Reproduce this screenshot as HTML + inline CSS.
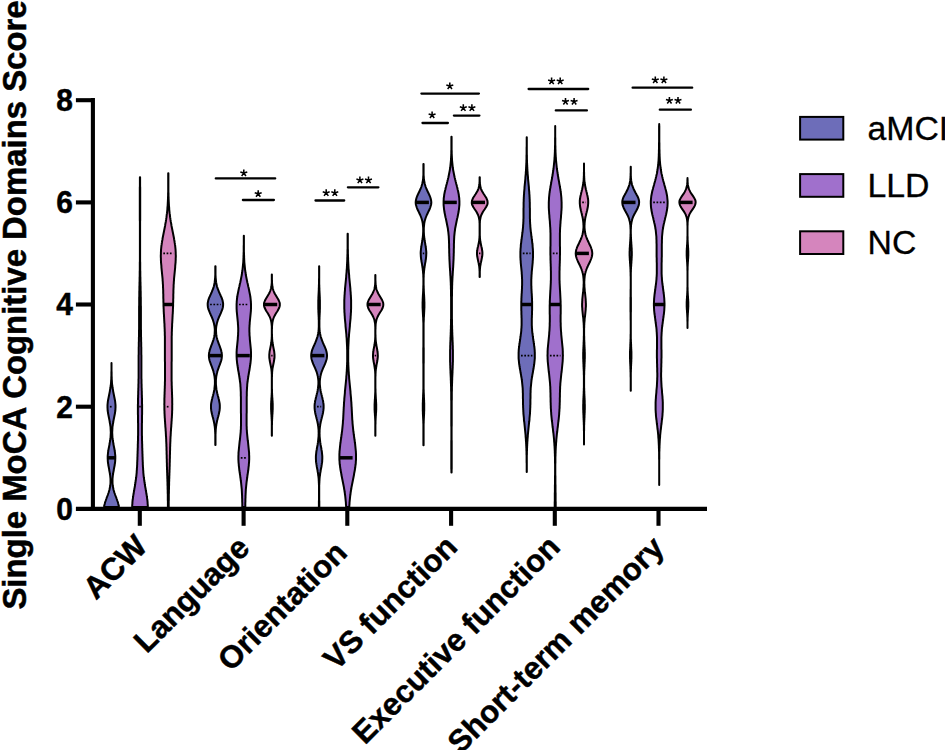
<!DOCTYPE html>
<html><head><meta charset="utf-8"><title>Violin plot</title>
<style>
html,body{margin:0;padding:0;background:#fff;}
body{width:945px;height:750px;overflow:hidden;font-family:"Liberation Sans",sans-serif;}
svg{display:block;font-family:"Liberation Sans",sans-serif;}
</style></head><body>
<svg width="945" height="750" viewBox="0 0 945 750">
<rect width="945" height="750" fill="#fff"/>

<g id="violins">
<path d="M111.5 363.0 L111.5 364.0 L111.5 365.0 L111.5 366.0 L111.5 367.0 L111.5 368.0 L111.5 369.0 L111.5 370.0 L111.5 371.0 L111.4 372.0 L111.4 373.0 L111.4 374.0 L111.4 375.0 L111.4 376.0 L111.3 377.0 L111.3 378.0 L111.3 379.0 L111.2 380.0 L111.1 381.0 L111.1 382.0 L111.0 383.0 L110.9 384.0 L110.8 385.0 L110.7 386.0 L110.5 387.0 L110.4 388.0 L110.2 389.0 L110.0 390.0 L109.9 391.0 L109.7 392.0 L109.5 393.0 L109.3 394.0 L109.1 395.0 L108.9 396.0 L108.7 397.0 L108.5 398.0 L108.3 399.0 L108.1 400.0 L107.9 401.0 L107.8 402.0 L107.7 403.0 L107.6 404.0 L107.5 405.0 L107.5 406.0 L107.5 407.0 L107.5 408.0 L107.6 409.0 L107.6 410.0 L107.7 411.0 L107.9 412.0 L108.0 413.0 L108.2 414.0 L108.4 415.0 L108.6 416.0 L108.8 417.0 L109.0 418.0 L109.2 419.0 L109.4 420.0 L109.6 421.0 L109.7 422.0 L109.9 423.0 L110.1 424.0 L110.2 425.0 L110.4 426.0 L110.5 427.0 L110.6 428.0 L110.6 429.0 L110.7 430.0 L110.7 431.0 L110.8 432.0 L110.8 433.0 L110.7 434.0 L110.7 435.0 L110.6 436.0 L110.6 437.0 L110.5 438.0 L110.4 439.0 L110.2 440.0 L110.1 441.0 L109.9 442.0 L109.7 443.0 L109.6 444.0 L109.4 445.0 L109.2 446.0 L109.0 447.0 L108.8 448.0 L108.6 449.0 L108.4 450.0 L108.3 451.0 L108.1 452.0 L108.0 453.0 L107.9 454.0 L107.8 455.0 L107.7 456.0 L107.7 457.0 L107.7 458.0 L107.7 459.0 L107.8 460.0 L107.8 461.0 L107.9 462.0 L108.0 463.0 L108.2 464.0 L108.3 465.0 L108.5 466.0 L108.7 467.0 L108.9 468.0 L109.1 469.0 L109.2 470.0 L109.4 471.0 L109.6 472.0 L109.8 473.0 L109.9 474.0 L110.1 475.0 L110.2 476.0 L110.3 477.0 L110.4 478.0 L110.5 479.0 L110.5 480.0 L110.5 481.0 L110.5 482.0 L110.5 483.0 L110.4 484.0 L110.3 485.0 L110.2 486.0 L110.0 487.0 L109.8 488.0 L109.6 489.0 L109.4 490.0 L109.1 491.0 L108.8 492.0 L108.5 493.0 L108.1 494.0 L107.8 495.0 L107.4 496.0 L107.0 497.0 L106.6 498.0 L106.3 499.0 L105.9 500.0 L105.6 501.0 L105.2 502.0 L104.9 503.0 L104.7 504.0 L104.4 505.0 L104.3 506.0 L104.1 507.0 L118.9 507.0 L118.7 506.0 L118.6 505.0 L118.3 504.0 L118.1 503.0 L117.8 502.0 L117.4 501.0 L117.1 500.0 L116.7 499.0 L116.4 498.0 L116.0 497.0 L115.6 496.0 L115.2 495.0 L114.9 494.0 L114.5 493.0 L114.2 492.0 L113.9 491.0 L113.6 490.0 L113.4 489.0 L113.2 488.0 L113.0 487.0 L112.8 486.0 L112.7 485.0 L112.6 484.0 L112.5 483.0 L112.5 482.0 L112.5 481.0 L112.5 480.0 L112.5 479.0 L112.6 478.0 L112.7 477.0 L112.8 476.0 L112.9 475.0 L113.1 474.0 L113.2 473.0 L113.4 472.0 L113.6 471.0 L113.8 470.0 L113.9 469.0 L114.1 468.0 L114.3 467.0 L114.5 466.0 L114.7 465.0 L114.8 464.0 L115.0 463.0 L115.1 462.0 L115.2 461.0 L115.2 460.0 L115.3 459.0 L115.3 458.0 L115.3 457.0 L115.3 456.0 L115.2 455.0 L115.1 454.0 L115.0 453.0 L114.9 452.0 L114.7 451.0 L114.6 450.0 L114.4 449.0 L114.2 448.0 L114.0 447.0 L113.8 446.0 L113.6 445.0 L113.4 444.0 L113.3 443.0 L113.1 442.0 L112.9 441.0 L112.8 440.0 L112.6 439.0 L112.5 438.0 L112.4 437.0 L112.4 436.0 L112.3 435.0 L112.3 434.0 L112.2 433.0 L112.2 432.0 L112.3 431.0 L112.3 430.0 L112.4 429.0 L112.4 428.0 L112.5 427.0 L112.6 426.0 L112.8 425.0 L112.9 424.0 L113.1 423.0 L113.3 422.0 L113.4 421.0 L113.6 420.0 L113.8 419.0 L114.0 418.0 L114.2 417.0 L114.4 416.0 L114.6 415.0 L114.8 414.0 L115.0 413.0 L115.1 412.0 L115.3 411.0 L115.4 410.0 L115.4 409.0 L115.5 408.0 L115.5 407.0 L115.5 406.0 L115.5 405.0 L115.4 404.0 L115.3 403.0 L115.2 402.0 L115.1 401.0 L114.9 400.0 L114.7 399.0 L114.5 398.0 L114.3 397.0 L114.1 396.0 L113.9 395.0 L113.7 394.0 L113.5 393.0 L113.3 392.0 L113.1 391.0 L113.0 390.0 L112.8 389.0 L112.6 388.0 L112.5 387.0 L112.3 386.0 L112.2 385.0 L112.1 384.0 L112.0 383.0 L111.9 382.0 L111.9 381.0 L111.8 380.0 L111.7 379.0 L111.7 378.0 L111.7 377.0 L111.6 376.0 L111.6 375.0 L111.6 374.0 L111.6 373.0 L111.6 372.0 L111.5 371.0 L111.5 370.0 L111.5 369.0 L111.5 368.0 L111.5 367.0 L111.5 366.0 L111.5 365.0 L111.5 364.0 L111.5 363.0Z" fill="#6d6db9" stroke="#000" stroke-width="2.0" stroke-linejoin="round"/>
<line x1="109.9" y1="406.7" x2="113.1" y2="406.7" stroke="#000" stroke-width="1.7" stroke-dasharray="1.7 1.6"/>
<line x1="107.7" y1="457.8" x2="115.3" y2="457.8" stroke="#000" stroke-width="3.5"/>
<path d="M139.9 177.3 L139.9 178.3 L139.9 179.3 L139.9 180.3 L139.9 181.3 L139.9 182.3 L139.9 183.3 L139.9 184.3 L139.9 185.3 L139.9 186.3 L139.8 187.3 L139.8 188.3 L139.8 189.3 L139.8 190.3 L139.8 191.3 L139.8 192.3 L139.8 193.3 L139.8 194.3 L139.8 195.3 L139.8 196.3 L139.8 197.3 L139.8 198.3 L139.8 199.3 L139.8 200.3 L139.8 201.3 L139.8 202.3 L139.8 203.3 L139.8 204.3 L139.8 205.3 L139.8 206.3 L139.8 207.3 L139.8 208.3 L139.8 209.3 L139.8 210.3 L139.8 211.3 L139.8 212.3 L139.8 213.3 L139.8 214.3 L139.8 215.3 L139.8 216.3 L139.8 217.3 L139.8 218.3 L139.8 219.3 L139.8 220.3 L139.9 221.3 L139.9 222.3 L139.9 223.3 L139.9 224.3 L139.9 225.3 L139.9 226.3 L139.9 227.3 L139.9 228.3 L139.9 229.3 L139.9 230.3 L139.9 231.3 L139.9 232.3 L139.9 233.3 L139.9 234.3 L139.9 235.3 L139.9 236.3 L139.9 237.3 L139.9 238.3 L139.9 239.3 L139.9 240.3 L139.9 241.3 L139.9 242.3 L139.9 243.3 L139.9 244.3 L139.9 245.3 L139.9 246.3 L139.9 247.3 L139.9 248.3 L139.9 249.3 L139.9 250.3 L139.9 251.3 L139.9 252.3 L139.9 253.3 L139.9 254.3 L139.9 255.3 L139.9 256.3 L139.9 257.3 L139.9 258.3 L139.9 259.3 L139.9 260.3 L139.9 261.3 L139.8 262.3 L139.8 263.3 L139.8 264.3 L139.8 265.3 L139.8 266.3 L139.8 267.3 L139.8 268.3 L139.8 269.3 L139.8 270.3 L139.7 271.3 L139.7 272.3 L139.7 273.3 L139.7 274.3 L139.7 275.3 L139.7 276.3 L139.6 277.3 L139.6 278.3 L139.6 279.3 L139.6 280.3 L139.6 281.3 L139.5 282.3 L139.5 283.3 L139.5 284.3 L139.5 285.3 L139.4 286.3 L139.4 287.3 L139.4 288.3 L139.4 289.3 L139.4 290.3 L139.3 291.3 L139.3 292.3 L139.3 293.3 L139.3 294.3 L139.3 295.3 L139.3 296.3 L139.2 297.3 L139.2 298.3 L139.2 299.3 L139.2 300.3 L139.2 301.3 L139.2 302.3 L139.2 303.3 L139.2 304.3 L139.2 305.3 L139.1 306.3 L139.1 307.3 L139.1 308.3 L139.1 309.3 L139.1 310.3 L139.1 311.3 L139.1 312.3 L139.1 313.3 L139.1 314.3 L139.1 315.3 L139.1 316.3 L139.1 317.3 L139.1 318.3 L139.1 319.3 L139.1 320.3 L139.1 321.3 L139.1 322.3 L139.1 323.3 L139.1 324.3 L139.1 325.3 L139.1 326.3 L139.1 327.3 L139.1 328.3 L139.1 329.3 L139.0 330.3 L139.0 331.3 L139.0 332.3 L139.0 333.3 L139.0 334.3 L139.0 335.3 L139.0 336.3 L138.9 337.3 L138.9 338.3 L138.9 339.3 L138.9 340.3 L138.9 341.3 L138.8 342.3 L138.8 343.3 L138.8 344.3 L138.8 345.3 L138.8 346.3 L138.7 347.3 L138.7 348.3 L138.7 349.3 L138.7 350.3 L138.7 351.3 L138.7 352.3 L138.7 353.3 L138.7 354.3 L138.6 355.3 L138.6 356.3 L138.6 357.3 L138.6 358.3 L138.6 359.3 L138.6 360.3 L138.6 361.3 L138.6 362.3 L138.6 363.3 L138.6 364.3 L138.6 365.3 L138.6 366.3 L138.6 367.3 L138.6 368.3 L138.6 369.3 L138.6 370.3 L138.6 371.3 L138.6 372.3 L138.6 373.3 L138.6 374.3 L138.6 375.3 L138.6 376.3 L138.6 377.3 L138.6 378.3 L138.5 379.3 L138.5 380.3 L138.5 381.3 L138.5 382.3 L138.5 383.3 L138.4 384.3 L138.4 385.3 L138.4 386.3 L138.4 387.3 L138.3 388.3 L138.3 389.3 L138.3 390.3 L138.2 391.3 L138.2 392.3 L138.2 393.3 L138.2 394.3 L138.1 395.3 L138.1 396.3 L138.1 397.3 L138.0 398.3 L138.0 399.3 L138.0 400.3 L138.0 401.3 L138.0 402.3 L138.0 403.3 L137.9 404.3 L137.9 405.3 L137.9 406.3 L137.9 407.3 L137.9 408.3 L137.9 409.3 L137.9 410.3 L137.9 411.3 L137.9 412.3 L137.9 413.3 L137.9 414.3 L138.0 415.3 L138.0 416.3 L138.0 417.3 L138.0 418.3 L138.0 419.3 L138.0 420.3 L138.0 421.3 L138.0 422.3 L138.1 423.3 L138.1 424.3 L138.1 425.3 L138.1 426.3 L138.1 427.3 L138.1 428.3 L138.1 429.3 L138.1 430.3 L138.1 431.3 L138.1 432.3 L138.1 433.3 L138.1 434.3 L138.1 435.3 L138.0 436.3 L138.0 437.3 L138.0 438.3 L138.0 439.3 L138.0 440.3 L137.9 441.3 L137.9 442.3 L137.9 443.3 L137.8 444.3 L137.8 445.3 L137.8 446.3 L137.8 447.3 L137.7 448.3 L137.7 449.3 L137.7 450.3 L137.6 451.3 L137.6 452.3 L137.6 453.3 L137.5 454.3 L137.5 455.3 L137.5 456.3 L137.4 457.3 L137.4 458.3 L137.4 459.3 L137.3 460.3 L137.3 461.3 L137.2 462.3 L137.2 463.3 L137.2 464.3 L137.1 465.3 L137.1 466.3 L137.0 467.3 L136.9 468.3 L136.9 469.3 L136.8 470.3 L136.7 471.3 L136.7 472.3 L136.6 473.3 L136.5 474.3 L136.4 475.3 L136.3 476.3 L136.2 477.3 L136.0 478.3 L135.9 479.3 L135.8 480.3 L135.6 481.3 L135.5 482.3 L135.3 483.3 L135.2 484.3 L135.0 485.3 L134.9 486.3 L134.7 487.3 L134.5 488.3 L134.3 489.3 L134.2 490.3 L134.0 491.3 L133.8 492.3 L133.7 493.3 L133.5 494.3 L133.3 495.3 L133.2 496.3 L133.0 497.3 L132.9 498.3 L132.8 499.3 L132.6 500.3 L132.5 501.3 L132.4 502.3 L132.4 503.3 L132.3 504.3 L132.2 505.3 L132.2 506.3 L132.2 507.0 L147.8 507.0 L147.8 506.3 L147.8 505.3 L147.7 504.3 L147.6 503.3 L147.6 502.3 L147.5 501.3 L147.4 500.3 L147.2 499.3 L147.1 498.3 L147.0 497.3 L146.8 496.3 L146.7 495.3 L146.5 494.3 L146.3 493.3 L146.2 492.3 L146.0 491.3 L145.8 490.3 L145.7 489.3 L145.5 488.3 L145.3 487.3 L145.1 486.3 L145.0 485.3 L144.8 484.3 L144.7 483.3 L144.5 482.3 L144.4 481.3 L144.2 480.3 L144.1 479.3 L144.0 478.3 L143.8 477.3 L143.7 476.3 L143.6 475.3 L143.5 474.3 L143.4 473.3 L143.3 472.3 L143.3 471.3 L143.2 470.3 L143.1 469.3 L143.1 468.3 L143.0 467.3 L142.9 466.3 L142.9 465.3 L142.8 464.3 L142.8 463.3 L142.8 462.3 L142.7 461.3 L142.7 460.3 L142.6 459.3 L142.6 458.3 L142.6 457.3 L142.5 456.3 L142.5 455.3 L142.5 454.3 L142.4 453.3 L142.4 452.3 L142.4 451.3 L142.3 450.3 L142.3 449.3 L142.3 448.3 L142.2 447.3 L142.2 446.3 L142.2 445.3 L142.2 444.3 L142.1 443.3 L142.1 442.3 L142.1 441.3 L142.0 440.3 L142.0 439.3 L142.0 438.3 L142.0 437.3 L142.0 436.3 L141.9 435.3 L141.9 434.3 L141.9 433.3 L141.9 432.3 L141.9 431.3 L141.9 430.3 L141.9 429.3 L141.9 428.3 L141.9 427.3 L141.9 426.3 L141.9 425.3 L141.9 424.3 L141.9 423.3 L142.0 422.3 L142.0 421.3 L142.0 420.3 L142.0 419.3 L142.0 418.3 L142.0 417.3 L142.0 416.3 L142.0 415.3 L142.1 414.3 L142.1 413.3 L142.1 412.3 L142.1 411.3 L142.1 410.3 L142.1 409.3 L142.1 408.3 L142.1 407.3 L142.1 406.3 L142.1 405.3 L142.1 404.3 L142.0 403.3 L142.0 402.3 L142.0 401.3 L142.0 400.3 L142.0 399.3 L142.0 398.3 L141.9 397.3 L141.9 396.3 L141.9 395.3 L141.8 394.3 L141.8 393.3 L141.8 392.3 L141.8 391.3 L141.7 390.3 L141.7 389.3 L141.7 388.3 L141.6 387.3 L141.6 386.3 L141.6 385.3 L141.6 384.3 L141.5 383.3 L141.5 382.3 L141.5 381.3 L141.5 380.3 L141.5 379.3 L141.4 378.3 L141.4 377.3 L141.4 376.3 L141.4 375.3 L141.4 374.3 L141.4 373.3 L141.4 372.3 L141.4 371.3 L141.4 370.3 L141.4 369.3 L141.4 368.3 L141.4 367.3 L141.4 366.3 L141.4 365.3 L141.4 364.3 L141.4 363.3 L141.4 362.3 L141.4 361.3 L141.4 360.3 L141.4 359.3 L141.4 358.3 L141.4 357.3 L141.4 356.3 L141.4 355.3 L141.3 354.3 L141.3 353.3 L141.3 352.3 L141.3 351.3 L141.3 350.3 L141.3 349.3 L141.3 348.3 L141.3 347.3 L141.2 346.3 L141.2 345.3 L141.2 344.3 L141.2 343.3 L141.2 342.3 L141.1 341.3 L141.1 340.3 L141.1 339.3 L141.1 338.3 L141.1 337.3 L141.0 336.3 L141.0 335.3 L141.0 334.3 L141.0 333.3 L141.0 332.3 L141.0 331.3 L141.0 330.3 L140.9 329.3 L140.9 328.3 L140.9 327.3 L140.9 326.3 L140.9 325.3 L140.9 324.3 L140.9 323.3 L140.9 322.3 L140.9 321.3 L140.9 320.3 L140.9 319.3 L140.9 318.3 L140.9 317.3 L140.9 316.3 L140.9 315.3 L140.9 314.3 L140.9 313.3 L140.9 312.3 L140.9 311.3 L140.9 310.3 L140.9 309.3 L140.9 308.3 L140.9 307.3 L140.9 306.3 L140.8 305.3 L140.8 304.3 L140.8 303.3 L140.8 302.3 L140.8 301.3 L140.8 300.3 L140.8 299.3 L140.8 298.3 L140.8 297.3 L140.7 296.3 L140.7 295.3 L140.7 294.3 L140.7 293.3 L140.7 292.3 L140.7 291.3 L140.6 290.3 L140.6 289.3 L140.6 288.3 L140.6 287.3 L140.6 286.3 L140.5 285.3 L140.5 284.3 L140.5 283.3 L140.5 282.3 L140.4 281.3 L140.4 280.3 L140.4 279.3 L140.4 278.3 L140.4 277.3 L140.3 276.3 L140.3 275.3 L140.3 274.3 L140.3 273.3 L140.3 272.3 L140.3 271.3 L140.2 270.3 L140.2 269.3 L140.2 268.3 L140.2 267.3 L140.2 266.3 L140.2 265.3 L140.2 264.3 L140.2 263.3 L140.2 262.3 L140.1 261.3 L140.1 260.3 L140.1 259.3 L140.1 258.3 L140.1 257.3 L140.1 256.3 L140.1 255.3 L140.1 254.3 L140.1 253.3 L140.1 252.3 L140.1 251.3 L140.1 250.3 L140.1 249.3 L140.1 248.3 L140.1 247.3 L140.1 246.3 L140.1 245.3 L140.1 244.3 L140.1 243.3 L140.1 242.3 L140.1 241.3 L140.1 240.3 L140.1 239.3 L140.1 238.3 L140.1 237.3 L140.1 236.3 L140.1 235.3 L140.1 234.3 L140.1 233.3 L140.1 232.3 L140.1 231.3 L140.1 230.3 L140.1 229.3 L140.1 228.3 L140.1 227.3 L140.1 226.3 L140.1 225.3 L140.1 224.3 L140.1 223.3 L140.1 222.3 L140.1 221.3 L140.2 220.3 L140.2 219.3 L140.2 218.3 L140.2 217.3 L140.2 216.3 L140.2 215.3 L140.2 214.3 L140.2 213.3 L140.2 212.3 L140.2 211.3 L140.2 210.3 L140.2 209.3 L140.2 208.3 L140.2 207.3 L140.2 206.3 L140.2 205.3 L140.2 204.3 L140.2 203.3 L140.2 202.3 L140.2 201.3 L140.2 200.3 L140.2 199.3 L140.2 198.3 L140.2 197.3 L140.2 196.3 L140.2 195.3 L140.2 194.3 L140.2 193.3 L140.2 192.3 L140.2 191.3 L140.2 190.3 L140.2 189.3 L140.2 188.3 L140.2 187.3 L140.1 186.3 L140.1 185.3 L140.1 184.3 L140.1 183.3 L140.1 182.3 L140.1 181.3 L140.1 180.3 L140.1 179.3 L140.1 178.3 L140.1 177.3Z" fill="#a070cc" stroke="#000" stroke-width="2.0" stroke-linejoin="round"/>
<line x1="139.3" y1="406.7" x2="140.7" y2="406.7" stroke="#000" stroke-width="1.7" stroke-dasharray="1.7 1.6"/>
<path d="M168.2 173.2 L168.2 174.2 L168.2 175.2 L168.2 176.2 L168.2 177.2 L168.2 178.2 L168.2 179.2 L168.2 180.2 L168.2 181.2 L168.2 182.2 L168.2 183.2 L168.2 184.2 L168.2 185.2 L168.2 186.2 L168.2 187.2 L168.2 188.2 L168.2 189.2 L168.2 190.2 L168.2 191.2 L168.2 192.2 L168.1 193.2 L168.1 194.2 L168.1 195.2 L168.1 196.2 L168.0 197.2 L168.0 198.2 L168.0 199.2 L167.9 200.2 L167.9 201.2 L167.8 202.2 L167.8 203.2 L167.7 204.2 L167.7 205.2 L167.6 206.2 L167.5 207.2 L167.4 208.2 L167.4 209.2 L167.3 210.2 L167.2 211.2 L167.1 212.2 L167.0 213.2 L166.8 214.2 L166.7 215.2 L166.6 216.2 L166.5 217.2 L166.3 218.2 L166.2 219.2 L166.0 220.2 L165.9 221.2 L165.7 222.2 L165.5 223.2 L165.3 224.2 L165.2 225.2 L165.0 226.2 L164.8 227.2 L164.6 228.2 L164.4 229.2 L164.2 230.2 L164.0 231.2 L163.8 232.2 L163.6 233.2 L163.4 234.2 L163.2 235.2 L163.0 236.2 L162.8 237.2 L162.6 238.2 L162.5 239.2 L162.3 240.2 L162.1 241.2 L162.0 242.2 L161.8 243.2 L161.7 244.2 L161.5 245.2 L161.4 246.2 L161.3 247.2 L161.2 248.2 L161.1 249.2 L161.0 250.2 L161.0 251.2 L160.9 252.2 L160.9 253.2 L160.9 254.2 L160.8 255.2 L160.8 256.2 L160.8 257.2 L160.9 258.2 L160.9 259.2 L160.9 260.2 L161.0 261.2 L161.0 262.2 L161.1 263.2 L161.2 264.2 L161.3 265.2 L161.4 266.2 L161.4 267.2 L161.5 268.2 L161.6 269.2 L161.7 270.2 L161.8 271.2 L161.9 272.2 L162.0 273.2 L162.1 274.2 L162.2 275.2 L162.3 276.2 L162.4 277.2 L162.5 278.2 L162.6 279.2 L162.6 280.2 L162.7 281.2 L162.8 282.2 L162.8 283.2 L162.9 284.2 L163.0 285.2 L163.0 286.2 L163.0 287.2 L163.1 288.2 L163.1 289.2 L163.2 290.2 L163.2 291.2 L163.2 292.2 L163.2 293.2 L163.3 294.2 L163.3 295.2 L163.3 296.2 L163.3 297.2 L163.3 298.2 L163.4 299.2 L163.4 300.2 L163.4 301.2 L163.4 302.2 L163.5 303.2 L163.5 304.2 L163.5 305.2 L163.5 306.2 L163.6 307.2 L163.6 308.2 L163.7 309.2 L163.7 310.2 L163.7 311.2 L163.8 312.2 L163.8 313.2 L163.9 314.2 L164.0 315.2 L164.0 316.2 L164.1 317.2 L164.1 318.2 L164.2 319.2 L164.2 320.2 L164.3 321.2 L164.3 322.2 L164.4 323.2 L164.5 324.2 L164.5 325.2 L164.5 326.2 L164.6 327.2 L164.6 328.2 L164.7 329.2 L164.7 330.2 L164.7 331.2 L164.8 332.2 L164.8 333.2 L164.8 334.2 L164.8 335.2 L164.9 336.2 L164.9 337.2 L164.9 338.2 L164.9 339.2 L164.9 340.2 L164.9 341.2 L164.9 342.2 L164.9 343.2 L164.9 344.2 L164.9 345.2 L164.9 346.2 L164.9 347.2 L164.9 348.2 L164.9 349.2 L164.9 350.2 L164.9 351.2 L164.9 352.2 L164.9 353.2 L164.9 354.2 L164.9 355.2 L164.9 356.2 L164.9 357.2 L164.9 358.2 L164.9 359.2 L164.9 360.2 L164.9 361.2 L165.0 362.2 L165.0 363.2 L165.0 364.2 L165.0 365.2 L165.0 366.2 L165.0 367.2 L165.0 368.2 L165.0 369.2 L165.0 370.2 L165.0 371.2 L165.0 372.2 L165.0 373.2 L165.0 374.2 L165.0 375.2 L165.0 376.2 L165.0 377.2 L165.0 378.2 L165.0 379.2 L165.0 380.2 L165.0 381.2 L164.9 382.2 L164.9 383.2 L164.9 384.2 L164.9 385.2 L164.8 386.2 L164.8 387.2 L164.8 388.2 L164.7 389.2 L164.7 390.2 L164.7 391.2 L164.6 392.2 L164.6 393.2 L164.6 394.2 L164.5 395.2 L164.5 396.2 L164.5 397.2 L164.4 398.2 L164.4 399.2 L164.4 400.2 L164.4 401.2 L164.4 402.2 L164.4 403.2 L164.3 404.2 L164.4 405.2 L164.4 406.2 L164.4 407.2 L164.4 408.2 L164.4 409.2 L164.4 410.2 L164.5 411.2 L164.5 412.2 L164.5 413.2 L164.6 414.2 L164.6 415.2 L164.7 416.2 L164.7 417.2 L164.8 418.2 L164.9 419.2 L164.9 420.2 L165.0 421.2 L165.1 422.2 L165.1 423.2 L165.2 424.2 L165.3 425.2 L165.3 426.2 L165.4 427.2 L165.5 428.2 L165.6 429.2 L165.6 430.2 L165.7 431.2 L165.8 432.2 L165.8 433.2 L165.9 434.2 L165.9 435.2 L166.0 436.2 L166.1 437.2 L166.1 438.2 L166.2 439.2 L166.2 440.2 L166.2 441.2 L166.3 442.2 L166.3 443.2 L166.4 444.2 L166.4 445.2 L166.4 446.2 L166.5 447.2 L166.5 448.2 L166.5 449.2 L166.5 450.2 L166.6 451.2 L166.6 452.2 L166.6 453.2 L166.6 454.2 L166.7 455.2 L166.7 456.2 L166.7 457.2 L166.7 458.2 L166.8 459.2 L166.8 460.2 L166.8 461.2 L166.8 462.2 L166.9 463.2 L166.9 464.2 L166.9 465.2 L166.9 466.2 L167.0 467.2 L167.0 468.2 L167.0 469.2 L167.1 470.2 L167.1 471.2 L167.1 472.2 L167.2 473.2 L167.2 474.2 L167.2 475.2 L167.3 476.2 L167.3 477.2 L167.3 478.2 L167.4 479.2 L167.4 480.2 L167.4 481.2 L167.5 482.2 L167.5 483.2 L167.5 484.2 L167.5 485.2 L167.6 486.2 L167.6 487.2 L167.6 488.2 L167.6 489.2 L167.7 490.2 L167.7 491.2 L167.7 492.2 L167.7 493.2 L167.8 494.2 L167.8 495.2 L167.8 496.2 L167.8 497.2 L167.8 498.2 L167.8 499.2 L167.8 500.2 L167.9 501.2 L167.9 502.2 L167.9 503.2 L167.9 504.2 L167.9 505.2 L167.9 506.2 L167.9 507.0 L168.7 507.0 L168.7 506.2 L168.7 505.2 L168.7 504.2 L168.7 503.2 L168.7 502.2 L168.7 501.2 L168.8 500.2 L168.8 499.2 L168.8 498.2 L168.8 497.2 L168.8 496.2 L168.8 495.2 L168.8 494.2 L168.9 493.2 L168.9 492.2 L168.9 491.2 L168.9 490.2 L169.0 489.2 L169.0 488.2 L169.0 487.2 L169.0 486.2 L169.1 485.2 L169.1 484.2 L169.1 483.2 L169.1 482.2 L169.2 481.2 L169.2 480.2 L169.2 479.2 L169.3 478.2 L169.3 477.2 L169.3 476.2 L169.4 475.2 L169.4 474.2 L169.4 473.2 L169.5 472.2 L169.5 471.2 L169.5 470.2 L169.6 469.2 L169.6 468.2 L169.6 467.2 L169.7 466.2 L169.7 465.2 L169.7 464.2 L169.7 463.2 L169.8 462.2 L169.8 461.2 L169.8 460.2 L169.8 459.2 L169.9 458.2 L169.9 457.2 L169.9 456.2 L169.9 455.2 L170.0 454.2 L170.0 453.2 L170.0 452.2 L170.0 451.2 L170.1 450.2 L170.1 449.2 L170.1 448.2 L170.1 447.2 L170.2 446.2 L170.2 445.2 L170.2 444.2 L170.3 443.2 L170.3 442.2 L170.4 441.2 L170.4 440.2 L170.4 439.2 L170.5 438.2 L170.5 437.2 L170.6 436.2 L170.7 435.2 L170.7 434.2 L170.8 433.2 L170.8 432.2 L170.9 431.2 L171.0 430.2 L171.0 429.2 L171.1 428.2 L171.2 427.2 L171.3 426.2 L171.3 425.2 L171.4 424.2 L171.5 423.2 L171.5 422.2 L171.6 421.2 L171.7 420.2 L171.7 419.2 L171.8 418.2 L171.9 417.2 L171.9 416.2 L172.0 415.2 L172.0 414.2 L172.1 413.2 L172.1 412.2 L172.1 411.2 L172.2 410.2 L172.2 409.2 L172.2 408.2 L172.2 407.2 L172.2 406.2 L172.2 405.2 L172.3 404.2 L172.2 403.2 L172.2 402.2 L172.2 401.2 L172.2 400.2 L172.2 399.2 L172.2 398.2 L172.1 397.2 L172.1 396.2 L172.1 395.2 L172.0 394.2 L172.0 393.2 L172.0 392.2 L171.9 391.2 L171.9 390.2 L171.9 389.2 L171.8 388.2 L171.8 387.2 L171.8 386.2 L171.7 385.2 L171.7 384.2 L171.7 383.2 L171.7 382.2 L171.6 381.2 L171.6 380.2 L171.6 379.2 L171.6 378.2 L171.6 377.2 L171.6 376.2 L171.6 375.2 L171.6 374.2 L171.6 373.2 L171.6 372.2 L171.6 371.2 L171.6 370.2 L171.6 369.2 L171.6 368.2 L171.6 367.2 L171.6 366.2 L171.6 365.2 L171.6 364.2 L171.6 363.2 L171.6 362.2 L171.7 361.2 L171.7 360.2 L171.7 359.2 L171.7 358.2 L171.7 357.2 L171.7 356.2 L171.7 355.2 L171.7 354.2 L171.7 353.2 L171.7 352.2 L171.7 351.2 L171.7 350.2 L171.7 349.2 L171.7 348.2 L171.7 347.2 L171.7 346.2 L171.7 345.2 L171.7 344.2 L171.7 343.2 L171.7 342.2 L171.7 341.2 L171.7 340.2 L171.7 339.2 L171.7 338.2 L171.7 337.2 L171.7 336.2 L171.8 335.2 L171.8 334.2 L171.8 333.2 L171.8 332.2 L171.9 331.2 L171.9 330.2 L171.9 329.2 L172.0 328.2 L172.0 327.2 L172.1 326.2 L172.1 325.2 L172.1 324.2 L172.2 323.2 L172.3 322.2 L172.3 321.2 L172.4 320.2 L172.4 319.2 L172.5 318.2 L172.5 317.2 L172.6 316.2 L172.6 315.2 L172.7 314.2 L172.8 313.2 L172.8 312.2 L172.9 311.2 L172.9 310.2 L172.9 309.2 L173.0 308.2 L173.0 307.2 L173.1 306.2 L173.1 305.2 L173.1 304.2 L173.1 303.2 L173.2 302.2 L173.2 301.2 L173.2 300.2 L173.2 299.2 L173.3 298.2 L173.3 297.2 L173.3 296.2 L173.3 295.2 L173.3 294.2 L173.4 293.2 L173.4 292.2 L173.4 291.2 L173.4 290.2 L173.5 289.2 L173.5 288.2 L173.6 287.2 L173.6 286.2 L173.6 285.2 L173.7 284.2 L173.8 283.2 L173.8 282.2 L173.9 281.2 L174.0 280.2 L174.0 279.2 L174.1 278.2 L174.2 277.2 L174.3 276.2 L174.4 275.2 L174.5 274.2 L174.6 273.2 L174.7 272.2 L174.8 271.2 L174.9 270.2 L175.0 269.2 L175.1 268.2 L175.2 267.2 L175.2 266.2 L175.3 265.2 L175.4 264.2 L175.5 263.2 L175.6 262.2 L175.6 261.2 L175.7 260.2 L175.7 259.2 L175.7 258.2 L175.8 257.2 L175.8 256.2 L175.8 255.2 L175.7 254.2 L175.7 253.2 L175.7 252.2 L175.6 251.2 L175.6 250.2 L175.5 249.2 L175.4 248.2 L175.3 247.2 L175.2 246.2 L175.1 245.2 L174.9 244.2 L174.8 243.2 L174.6 242.2 L174.5 241.2 L174.3 240.2 L174.1 239.2 L174.0 238.2 L173.8 237.2 L173.6 236.2 L173.4 235.2 L173.2 234.2 L173.0 233.2 L172.8 232.2 L172.6 231.2 L172.4 230.2 L172.2 229.2 L172.0 228.2 L171.8 227.2 L171.6 226.2 L171.4 225.2 L171.3 224.2 L171.1 223.2 L170.9 222.2 L170.7 221.2 L170.6 220.2 L170.4 219.2 L170.3 218.2 L170.1 217.2 L170.0 216.2 L169.9 215.2 L169.8 214.2 L169.6 213.2 L169.5 212.2 L169.4 211.2 L169.3 210.2 L169.2 209.2 L169.2 208.2 L169.1 207.2 L169.0 206.2 L168.9 205.2 L168.9 204.2 L168.8 203.2 L168.8 202.2 L168.7 201.2 L168.7 200.2 L168.6 199.2 L168.6 198.2 L168.6 197.2 L168.5 196.2 L168.5 195.2 L168.5 194.2 L168.5 193.2 L168.4 192.2 L168.4 191.2 L168.4 190.2 L168.4 189.2 L168.4 188.2 L168.4 187.2 L168.4 186.2 L168.4 185.2 L168.4 184.2 L168.4 183.2 L168.4 182.2 L168.4 181.2 L168.4 180.2 L168.4 179.2 L168.4 178.2 L168.4 177.2 L168.4 176.2 L168.4 175.2 L168.4 174.2 L168.4 173.2Z" fill="#d585bd" stroke="#000" stroke-width="2.0" stroke-linejoin="round"/>
<line x1="163.3" y1="253.4" x2="173.3" y2="253.4" stroke="#000" stroke-width="1.7" stroke-dasharray="1.7 1.6"/>
<line x1="166.8" y1="406.7" x2="169.8" y2="406.7" stroke="#000" stroke-width="1.7" stroke-dasharray="1.7 1.6"/>
<line x1="163.5" y1="304.5" x2="173.1" y2="304.5" stroke="#000" stroke-width="3.5"/>
<path d="M215.3 266.2 L215.3 267.2 L215.3 268.2 L215.3 269.2 L215.3 270.2 L215.3 271.2 L215.3 272.2 L215.3 273.2 L215.3 274.2 L215.3 275.2 L215.2 276.2 L215.2 277.2 L215.1 278.2 L215.0 279.2 L214.9 280.2 L214.8 281.2 L214.7 282.2 L214.5 283.2 L214.3 284.2 L214.1 285.2 L213.9 286.2 L213.6 287.2 L213.3 288.2 L212.9 289.2 L212.5 290.2 L212.1 291.2 L211.7 292.2 L211.2 293.2 L210.8 294.2 L210.3 295.2 L209.9 296.2 L209.4 297.2 L209.0 298.2 L208.7 299.2 L208.3 300.2 L208.1 301.2 L207.9 302.2 L207.7 303.2 L207.7 304.2 L207.7 305.2 L207.8 306.2 L207.9 307.2 L208.2 308.2 L208.4 309.2 L208.8 310.2 L209.2 311.2 L209.6 312.2 L210.0 313.2 L210.5 314.2 L210.9 315.2 L211.4 316.2 L211.8 317.2 L212.2 318.2 L212.6 319.2 L213.0 320.2 L213.3 321.2 L213.6 322.2 L213.9 323.2 L214.1 324.2 L214.3 325.2 L214.5 326.2 L214.6 327.2 L214.7 328.2 L214.8 329.2 L214.8 330.2 L214.8 331.2 L214.7 332.2 L214.7 333.2 L214.6 334.2 L214.4 335.2 L214.3 336.2 L214.1 337.2 L213.8 338.2 L213.6 339.2 L213.3 340.2 L213.0 341.2 L212.6 342.2 L212.3 343.2 L211.9 344.2 L211.5 345.2 L211.1 346.2 L210.8 347.2 L210.4 348.2 L210.1 349.2 L209.7 350.2 L209.5 351.2 L209.2 352.2 L209.1 353.2 L209.0 354.2 L208.9 355.2 L208.9 356.2 L209.0 357.2 L209.1 358.2 L209.3 359.2 L209.5 360.2 L209.8 361.2 L210.1 362.2 L210.5 363.2 L210.8 364.2 L211.2 365.2 L211.6 366.2 L212.0 367.2 L212.3 368.2 L212.7 369.2 L213.0 370.2 L213.4 371.2 L213.6 372.2 L213.9 373.2 L214.1 374.2 L214.3 375.2 L214.5 376.2 L214.6 377.2 L214.7 378.2 L214.8 379.2 L214.9 380.2 L214.9 381.2 L214.9 382.2 L214.9 383.2 L214.9 384.2 L214.8 385.2 L214.7 386.2 L214.6 387.2 L214.5 388.2 L214.4 389.2 L214.2 390.2 L214.0 391.2 L213.8 392.2 L213.6 393.2 L213.3 394.2 L213.1 395.2 L212.8 396.2 L212.5 397.2 L212.3 398.2 L212.0 399.2 L211.8 400.2 L211.6 401.2 L211.4 402.2 L211.2 403.2 L211.1 404.2 L211.0 405.2 L211.0 406.2 L211.0 407.2 L211.0 408.2 L211.1 409.2 L211.2 410.2 L211.4 411.2 L211.6 412.2 L211.8 413.2 L212.0 414.2 L212.3 415.2 L212.5 416.2 L212.8 417.2 L213.1 418.2 L213.3 419.2 L213.6 420.2 L213.8 421.2 L214.0 422.2 L214.2 423.2 L214.4 424.2 L214.5 425.2 L214.7 426.2 L214.8 427.2 L214.9 428.2 L215.0 429.2 L215.1 430.2 L215.1 431.2 L215.2 432.2 L215.2 433.2 L215.3 434.2 L215.3 435.2 L215.3 436.2 L215.3 437.2 L215.3 438.2 L215.3 439.2 L215.3 440.2 L215.3 441.2 L215.3 442.2 L215.3 443.2 L215.3 444.2 L215.3 445.0 L215.5 445.0 L215.5 444.2 L215.5 443.2 L215.5 442.2 L215.5 441.2 L215.5 440.2 L215.5 439.2 L215.5 438.2 L215.5 437.2 L215.5 436.2 L215.5 435.2 L215.5 434.2 L215.6 433.2 L215.6 432.2 L215.7 431.2 L215.7 430.2 L215.8 429.2 L215.9 428.2 L216.0 427.2 L216.1 426.2 L216.3 425.2 L216.4 424.2 L216.6 423.2 L216.8 422.2 L217.0 421.2 L217.2 420.2 L217.5 419.2 L217.7 418.2 L218.0 417.2 L218.3 416.2 L218.5 415.2 L218.8 414.2 L219.0 413.2 L219.2 412.2 L219.4 411.2 L219.6 410.2 L219.7 409.2 L219.8 408.2 L219.8 407.2 L219.8 406.2 L219.8 405.2 L219.7 404.2 L219.6 403.2 L219.4 402.2 L219.2 401.2 L219.0 400.2 L218.8 399.2 L218.5 398.2 L218.3 397.2 L218.0 396.2 L217.7 395.2 L217.5 394.2 L217.2 393.2 L217.0 392.2 L216.8 391.2 L216.6 390.2 L216.4 389.2 L216.3 388.2 L216.2 387.2 L216.1 386.2 L216.0 385.2 L215.9 384.2 L215.9 383.2 L215.9 382.2 L215.9 381.2 L215.9 380.2 L216.0 379.2 L216.1 378.2 L216.2 377.2 L216.3 376.2 L216.5 375.2 L216.7 374.2 L216.9 373.2 L217.2 372.2 L217.4 371.2 L217.8 370.2 L218.1 369.2 L218.5 368.2 L218.8 367.2 L219.2 366.2 L219.6 365.2 L220.0 364.2 L220.3 363.2 L220.7 362.2 L221.0 361.2 L221.3 360.2 L221.5 359.2 L221.7 358.2 L221.8 357.2 L221.9 356.2 L221.9 355.2 L221.8 354.2 L221.7 353.2 L221.6 352.2 L221.3 351.2 L221.1 350.2 L220.7 349.2 L220.4 348.2 L220.0 347.2 L219.7 346.2 L219.3 345.2 L218.9 344.2 L218.5 343.2 L218.2 342.2 L217.8 341.2 L217.5 340.2 L217.2 339.2 L217.0 338.2 L216.7 337.2 L216.5 336.2 L216.4 335.2 L216.2 334.2 L216.1 333.2 L216.1 332.2 L216.0 331.2 L216.0 330.2 L216.0 329.2 L216.1 328.2 L216.2 327.2 L216.3 326.2 L216.5 325.2 L216.7 324.2 L216.9 323.2 L217.2 322.2 L217.5 321.2 L217.8 320.2 L218.2 319.2 L218.6 318.2 L219.0 317.2 L219.4 316.2 L219.9 315.2 L220.3 314.2 L220.8 313.2 L221.2 312.2 L221.6 311.2 L222.0 310.2 L222.4 309.2 L222.6 308.2 L222.9 307.2 L223.0 306.2 L223.1 305.2 L223.1 304.2 L223.1 303.2 L222.9 302.2 L222.7 301.2 L222.5 300.2 L222.1 299.2 L221.8 298.2 L221.4 297.2 L220.9 296.2 L220.5 295.2 L220.0 294.2 L219.6 293.2 L219.1 292.2 L218.7 291.2 L218.3 290.2 L217.9 289.2 L217.5 288.2 L217.2 287.2 L216.9 286.2 L216.7 285.2 L216.5 284.2 L216.3 283.2 L216.1 282.2 L216.0 281.2 L215.9 280.2 L215.8 279.2 L215.7 278.2 L215.6 277.2 L215.6 276.2 L215.5 275.2 L215.5 274.2 L215.5 273.2 L215.5 272.2 L215.5 271.2 L215.5 270.2 L215.5 269.2 L215.5 268.2 L215.5 267.2 L215.5 266.2Z" fill="#6d6db9" stroke="#000" stroke-width="2.0" stroke-linejoin="round"/>
<line x1="210.1" y1="304.5" x2="220.7" y2="304.5" stroke="#000" stroke-width="1.7" stroke-dasharray="1.7 1.6"/>
<line x1="208.9" y1="355.6" x2="221.9" y2="355.6" stroke="#000" stroke-width="3.5"/>
<path d="M243.8 235.8 L243.8 236.8 L243.8 237.8 L243.8 238.8 L243.8 239.8 L243.8 240.8 L243.8 241.8 L243.8 242.8 L243.8 243.8 L243.8 244.8 L243.7 245.8 L243.7 246.8 L243.7 247.8 L243.7 248.8 L243.7 249.8 L243.7 250.8 L243.7 251.8 L243.6 252.8 L243.6 253.8 L243.6 254.8 L243.5 255.8 L243.5 256.8 L243.5 257.8 L243.4 258.8 L243.4 259.8 L243.3 260.8 L243.3 261.8 L243.2 262.8 L243.1 263.8 L243.0 264.8 L242.9 265.8 L242.8 266.8 L242.7 267.8 L242.6 268.8 L242.5 269.8 L242.4 270.8 L242.2 271.8 L242.1 272.8 L241.9 273.8 L241.8 274.8 L241.6 275.8 L241.4 276.8 L241.2 277.8 L241.0 278.8 L240.8 279.8 L240.6 280.8 L240.4 281.8 L240.2 282.8 L239.9 283.8 L239.7 284.8 L239.5 285.8 L239.3 286.8 L239.0 287.8 L238.8 288.8 L238.6 289.8 L238.4 290.8 L238.2 291.8 L238.0 292.8 L237.8 293.8 L237.6 294.8 L237.4 295.8 L237.3 296.8 L237.1 297.8 L237.0 298.8 L236.9 299.8 L236.8 300.8 L236.7 301.8 L236.7 302.8 L236.6 303.8 L236.6 304.8 L236.6 305.8 L236.6 306.8 L236.6 307.8 L236.6 308.8 L236.7 309.8 L236.7 310.8 L236.8 311.8 L236.9 312.8 L237.0 313.8 L237.1 314.8 L237.2 315.8 L237.3 316.8 L237.4 317.8 L237.5 318.8 L237.6 319.8 L237.7 320.8 L237.8 321.8 L237.9 322.8 L237.9 323.8 L238.0 324.8 L238.1 325.8 L238.1 326.8 L238.2 327.8 L238.2 328.8 L238.2 329.8 L238.2 330.8 L238.2 331.8 L238.1 332.8 L238.1 333.8 L238.1 334.8 L238.0 335.8 L237.9 336.8 L237.8 337.8 L237.8 338.8 L237.7 339.8 L237.6 340.8 L237.5 341.8 L237.4 342.8 L237.3 343.8 L237.2 344.8 L237.1 345.8 L237.0 346.8 L236.9 347.8 L236.8 348.8 L236.7 349.8 L236.7 350.8 L236.6 351.8 L236.6 352.8 L236.6 353.8 L236.6 354.8 L236.6 355.8 L236.6 356.8 L236.7 357.8 L236.7 358.8 L236.8 359.8 L236.9 360.8 L237.0 361.8 L237.1 362.8 L237.2 363.8 L237.4 364.8 L237.5 365.8 L237.7 366.8 L237.8 367.8 L238.0 368.8 L238.1 369.8 L238.3 370.8 L238.5 371.8 L238.7 372.8 L238.8 373.8 L239.0 374.8 L239.2 375.8 L239.3 376.8 L239.5 377.8 L239.6 378.8 L239.8 379.8 L239.9 380.8 L240.0 381.8 L240.2 382.8 L240.3 383.8 L240.4 384.8 L240.4 385.8 L240.5 386.8 L240.6 387.8 L240.6 388.8 L240.7 389.8 L240.7 390.8 L240.8 391.8 L240.8 392.8 L240.8 393.8 L240.8 394.8 L240.8 395.8 L240.9 396.8 L240.9 397.8 L240.9 398.8 L240.9 399.8 L240.9 400.8 L240.9 401.8 L240.9 402.8 L240.9 403.8 L240.9 404.8 L240.9 405.8 L240.9 406.8 L240.9 407.8 L240.9 408.8 L240.9 409.8 L240.9 410.8 L240.9 411.8 L240.9 412.8 L241.0 413.8 L241.0 414.8 L241.0 415.8 L241.0 416.8 L241.0 417.8 L241.0 418.8 L241.0 419.8 L241.0 420.8 L241.0 421.8 L241.0 422.8 L241.0 423.8 L241.0 424.8 L241.0 425.8 L240.9 426.8 L240.9 427.8 L240.9 428.8 L240.8 429.8 L240.7 430.8 L240.7 431.8 L240.6 432.8 L240.5 433.8 L240.4 434.8 L240.3 435.8 L240.2 436.8 L240.1 437.8 L240.0 438.8 L239.9 439.8 L239.8 440.8 L239.6 441.8 L239.5 442.8 L239.4 443.8 L239.3 444.8 L239.2 445.8 L239.1 446.8 L239.0 447.8 L238.9 448.8 L238.8 449.8 L238.7 450.8 L238.6 451.8 L238.5 452.8 L238.5 453.8 L238.5 454.8 L238.4 455.8 L238.4 456.8 L238.4 457.8 L238.4 458.8 L238.4 459.8 L238.5 460.8 L238.5 461.8 L238.6 462.8 L238.7 463.8 L238.8 464.8 L238.8 465.8 L239.0 466.8 L239.1 467.8 L239.2 468.8 L239.3 469.8 L239.4 470.8 L239.6 471.8 L239.7 472.8 L239.9 473.8 L240.0 474.8 L240.2 475.8 L240.3 476.8 L240.4 477.8 L240.6 478.8 L240.7 479.8 L240.8 480.8 L241.0 481.8 L241.1 482.8 L241.2 483.8 L241.3 484.8 L241.4 485.8 L241.5 486.8 L241.6 487.8 L241.7 488.8 L241.8 489.8 L241.8 490.8 L241.9 491.8 L241.9 492.8 L242.0 493.8 L242.0 494.8 L242.1 495.8 L242.1 496.8 L242.1 497.8 L242.2 498.8 L242.2 499.8 L242.2 500.8 L242.2 501.8 L242.3 502.8 L242.3 503.8 L242.3 504.8 L242.3 505.8 L242.3 506.8 L242.3 507.0 L245.3 507.0 L245.3 506.8 L245.3 505.8 L245.3 504.8 L245.3 503.8 L245.3 502.8 L245.4 501.8 L245.4 500.8 L245.4 499.8 L245.4 498.8 L245.5 497.8 L245.5 496.8 L245.5 495.8 L245.6 494.8 L245.6 493.8 L245.7 492.8 L245.7 491.8 L245.8 490.8 L245.8 489.8 L245.9 488.8 L246.0 487.8 L246.1 486.8 L246.2 485.8 L246.3 484.8 L246.4 483.8 L246.5 482.8 L246.6 481.8 L246.8 480.8 L246.9 479.8 L247.0 478.8 L247.2 477.8 L247.3 476.8 L247.4 475.8 L247.6 474.8 L247.7 473.8 L247.9 472.8 L248.0 471.8 L248.2 470.8 L248.3 469.8 L248.4 468.8 L248.5 467.8 L248.6 466.8 L248.8 465.8 L248.8 464.8 L248.9 463.8 L249.0 462.8 L249.1 461.8 L249.1 460.8 L249.2 459.8 L249.2 458.8 L249.2 457.8 L249.2 456.8 L249.2 455.8 L249.1 454.8 L249.1 453.8 L249.1 452.8 L249.0 451.8 L248.9 450.8 L248.8 449.8 L248.7 448.8 L248.6 447.8 L248.5 446.8 L248.4 445.8 L248.3 444.8 L248.2 443.8 L248.1 442.8 L248.0 441.8 L247.8 440.8 L247.7 439.8 L247.6 438.8 L247.5 437.8 L247.4 436.8 L247.3 435.8 L247.2 434.8 L247.1 433.8 L247.0 432.8 L246.9 431.8 L246.9 430.8 L246.8 429.8 L246.7 428.8 L246.7 427.8 L246.7 426.8 L246.6 425.8 L246.6 424.8 L246.6 423.8 L246.6 422.8 L246.6 421.8 L246.6 420.8 L246.6 419.8 L246.6 418.8 L246.6 417.8 L246.6 416.8 L246.6 415.8 L246.6 414.8 L246.6 413.8 L246.7 412.8 L246.7 411.8 L246.7 410.8 L246.7 409.8 L246.7 408.8 L246.7 407.8 L246.7 406.8 L246.7 405.8 L246.7 404.8 L246.7 403.8 L246.7 402.8 L246.7 401.8 L246.7 400.8 L246.7 399.8 L246.7 398.8 L246.7 397.8 L246.7 396.8 L246.8 395.8 L246.8 394.8 L246.8 393.8 L246.8 392.8 L246.8 391.8 L246.9 390.8 L246.9 389.8 L247.0 388.8 L247.0 387.8 L247.1 386.8 L247.2 385.8 L247.2 384.8 L247.3 383.8 L247.4 382.8 L247.6 381.8 L247.7 380.8 L247.8 379.8 L248.0 378.8 L248.1 377.8 L248.3 376.8 L248.4 375.8 L248.6 374.8 L248.8 373.8 L248.9 372.8 L249.1 371.8 L249.3 370.8 L249.5 369.8 L249.6 368.8 L249.8 367.8 L249.9 366.8 L250.1 365.8 L250.2 364.8 L250.4 363.8 L250.5 362.8 L250.6 361.8 L250.7 360.8 L250.8 359.8 L250.9 358.8 L250.9 357.8 L251.0 356.8 L251.0 355.8 L251.0 354.8 L251.0 353.8 L251.0 352.8 L251.0 351.8 L250.9 350.8 L250.9 349.8 L250.8 348.8 L250.7 347.8 L250.6 346.8 L250.5 345.8 L250.4 344.8 L250.3 343.8 L250.2 342.8 L250.1 341.8 L250.0 340.8 L249.9 339.8 L249.8 338.8 L249.8 337.8 L249.7 336.8 L249.6 335.8 L249.5 334.8 L249.5 333.8 L249.5 332.8 L249.4 331.8 L249.4 330.8 L249.4 329.8 L249.4 328.8 L249.4 327.8 L249.5 326.8 L249.5 325.8 L249.6 324.8 L249.7 323.8 L249.7 322.8 L249.8 321.8 L249.9 320.8 L250.0 319.8 L250.1 318.8 L250.2 317.8 L250.3 316.8 L250.4 315.8 L250.5 314.8 L250.6 313.8 L250.7 312.8 L250.8 311.8 L250.9 310.8 L250.9 309.8 L251.0 308.8 L251.0 307.8 L251.0 306.8 L251.0 305.8 L251.0 304.8 L251.0 303.8 L250.9 302.8 L250.9 301.8 L250.8 300.8 L250.7 299.8 L250.6 298.8 L250.5 297.8 L250.3 296.8 L250.2 295.8 L250.0 294.8 L249.8 293.8 L249.6 292.8 L249.4 291.8 L249.2 290.8 L249.0 289.8 L248.8 288.8 L248.6 287.8 L248.3 286.8 L248.1 285.8 L247.9 284.8 L247.7 283.8 L247.4 282.8 L247.2 281.8 L247.0 280.8 L246.8 279.8 L246.6 278.8 L246.4 277.8 L246.2 276.8 L246.0 275.8 L245.8 274.8 L245.7 273.8 L245.5 272.8 L245.4 271.8 L245.2 270.8 L245.1 269.8 L245.0 268.8 L244.9 267.8 L244.8 266.8 L244.7 265.8 L244.6 264.8 L244.5 263.8 L244.4 262.8 L244.3 261.8 L244.3 260.8 L244.2 259.8 L244.2 258.8 L244.1 257.8 L244.1 256.8 L244.1 255.8 L244.0 254.8 L244.0 253.8 L244.0 252.8 L243.9 251.8 L243.9 250.8 L243.9 249.8 L243.9 248.8 L243.9 247.8 L243.9 246.8 L243.9 245.8 L243.9 244.8 L243.9 243.8 L243.9 242.8 L243.9 241.8 L243.9 240.8 L243.9 239.8 L243.9 238.8 L243.9 237.8 L243.9 236.8 L243.9 235.8Z" fill="#a070cc" stroke="#000" stroke-width="2.0" stroke-linejoin="round"/>
<line x1="239.0" y1="304.5" x2="248.6" y2="304.5" stroke="#000" stroke-width="1.7" stroke-dasharray="1.7 1.6"/>
<line x1="240.8" y1="457.8" x2="246.8" y2="457.8" stroke="#000" stroke-width="1.7" stroke-dasharray="1.7 1.6"/>
<line x1="236.6" y1="355.6" x2="249.8" y2="355.6" stroke="#000" stroke-width="3.5"/>
<path d="M271.8 274.5 L271.8 275.5 L271.8 276.5 L271.8 277.5 L271.8 278.5 L271.8 279.5 L271.8 280.5 L271.8 281.5 L271.8 282.5 L271.7 283.5 L271.6 284.5 L271.5 285.5 L271.4 286.5 L271.2 287.5 L271.0 288.5 L270.7 289.5 L270.4 290.5 L270.0 291.5 L269.6 292.5 L269.1 293.5 L268.5 294.5 L267.9 295.5 L267.3 296.5 L266.7 297.5 L266.1 298.5 L265.5 299.5 L265.0 300.5 L264.6 301.5 L264.2 302.5 L264.0 303.5 L264.0 304.5 L264.0 305.5 L264.2 306.5 L264.5 307.5 L265.0 308.5 L265.5 309.5 L266.0 310.5 L266.6 311.5 L267.3 312.5 L267.9 313.5 L268.5 314.5 L269.0 315.5 L269.6 316.5 L270.0 317.5 L270.4 318.5 L270.7 319.5 L271.0 320.5 L271.2 321.5 L271.4 322.5 L271.5 323.5 L271.6 324.5 L271.7 325.5 L271.8 326.5 L271.8 327.5 L271.8 328.5 L271.8 329.5 L271.8 330.5 L271.8 331.5 L271.8 332.5 L271.8 333.5 L271.8 334.5 L271.8 335.5 L271.8 336.5 L271.7 337.5 L271.7 338.5 L271.6 339.5 L271.5 340.5 L271.4 341.5 L271.3 342.5 L271.1 343.5 L271.0 344.5 L270.8 345.5 L270.6 346.5 L270.4 347.5 L270.2 348.5 L270.0 349.5 L269.8 350.5 L269.6 351.5 L269.5 352.5 L269.4 353.5 L269.3 354.5 L269.3 355.5 L269.3 356.5 L269.3 357.5 L269.4 358.5 L269.6 359.5 L269.7 360.5 L269.9 361.5 L270.1 362.5 L270.3 363.5 L270.5 364.5 L270.7 365.5 L270.9 366.5 L271.1 367.5 L271.3 368.5 L271.4 369.5 L271.5 370.5 L271.6 371.5 L271.7 372.5 L271.7 373.5 L271.8 374.5 L271.8 375.5 L271.8 376.5 L271.8 377.5 L271.8 378.5 L271.8 379.5 L271.8 380.5 L271.8 381.5 L271.8 382.5 L271.8 383.5 L271.8 384.5 L271.8 385.5 L271.8 386.5 L271.8 387.5 L271.8 388.5 L271.8 389.5 L271.8 390.5 L271.8 391.5 L271.8 392.5 L271.7 393.5 L271.7 394.5 L271.6 395.5 L271.6 396.5 L271.5 397.5 L271.4 398.5 L271.4 399.5 L271.3 400.5 L271.2 401.5 L271.2 402.5 L271.1 403.5 L271.1 404.5 L271.1 405.5 L271.1 406.5 L271.1 407.5 L271.1 408.5 L271.1 409.5 L271.2 410.5 L271.2 411.5 L271.3 412.5 L271.3 413.5 L271.4 414.5 L271.5 415.5 L271.5 416.5 L271.6 417.5 L271.6 418.5 L271.7 419.5 L271.7 420.5 L271.8 421.5 L271.8 422.5 L271.8 423.5 L271.8 424.5 L271.8 425.5 L271.8 426.5 L271.8 427.5 L271.8 428.5 L271.8 429.5 L271.8 430.5 L271.8 431.5 L271.8 432.5 L271.8 433.5 L271.8 434.5 L271.8 435.5 L271.8 435.7 L271.9 435.7 L271.9 435.5 L271.9 434.5 L271.9 433.5 L271.9 432.5 L271.9 431.5 L271.9 430.5 L271.9 429.5 L271.9 428.5 L271.9 427.5 L271.9 426.5 L271.9 425.5 L272.0 424.5 L272.0 423.5 L272.0 422.5 L272.0 421.5 L272.1 420.5 L272.1 419.5 L272.2 418.5 L272.2 417.5 L272.3 416.5 L272.3 415.5 L272.4 414.5 L272.5 413.5 L272.5 412.5 L272.6 411.5 L272.6 410.5 L272.7 409.5 L272.7 408.5 L272.7 407.5 L272.7 406.5 L272.7 405.5 L272.7 404.5 L272.7 403.5 L272.6 402.5 L272.6 401.5 L272.5 400.5 L272.4 399.5 L272.4 398.5 L272.3 397.5 L272.2 396.5 L272.2 395.5 L272.1 394.5 L272.1 393.5 L272.0 392.5 L272.0 391.5 L272.0 390.5 L272.0 389.5 L271.9 388.5 L271.9 387.5 L271.9 386.5 L271.9 385.5 L271.9 384.5 L271.9 383.5 L271.9 382.5 L271.9 381.5 L271.9 380.5 L271.9 379.5 L271.9 378.5 L271.9 377.5 L272.0 376.5 L272.0 375.5 L272.0 374.5 L272.1 373.5 L272.1 372.5 L272.2 371.5 L272.3 370.5 L272.4 369.5 L272.5 368.5 L272.7 367.5 L272.9 366.5 L273.1 365.5 L273.3 364.5 L273.5 363.5 L273.7 362.5 L273.9 361.5 L274.1 360.5 L274.2 359.5 L274.4 358.5 L274.5 357.5 L274.5 356.5 L274.5 355.5 L274.5 354.5 L274.4 353.5 L274.3 352.5 L274.2 351.5 L274.0 350.5 L273.8 349.5 L273.6 348.5 L273.4 347.5 L273.2 346.5 L273.0 345.5 L272.8 344.5 L272.7 343.5 L272.5 342.5 L272.4 341.5 L272.3 340.5 L272.2 339.5 L272.1 338.5 L272.1 337.5 L272.0 336.5 L272.0 335.5 L272.0 334.5 L271.9 333.5 L271.9 332.5 L271.9 331.5 L271.9 330.5 L271.9 329.5 L272.0 328.5 L272.0 327.5 L272.0 326.5 L272.1 325.5 L272.2 324.5 L272.3 323.5 L272.4 322.5 L272.6 321.5 L272.8 320.5 L273.1 319.5 L273.4 318.5 L273.8 317.5 L274.2 316.5 L274.8 315.5 L275.3 314.5 L275.9 313.5 L276.5 312.5 L277.2 311.5 L277.8 310.5 L278.3 309.5 L278.8 308.5 L279.3 307.5 L279.6 306.5 L279.8 305.5 L279.8 304.5 L279.8 303.5 L279.6 302.5 L279.2 301.5 L278.8 300.5 L278.3 299.5 L277.7 298.5 L277.1 297.5 L276.5 296.5 L275.9 295.5 L275.3 294.5 L274.7 293.5 L274.2 292.5 L273.8 291.5 L273.4 290.5 L273.1 289.5 L272.8 288.5 L272.6 287.5 L272.4 286.5 L272.3 285.5 L272.2 284.5 L272.1 283.5 L272.0 282.5 L272.0 281.5 L272.0 280.5 L271.9 279.5 L271.9 278.5 L271.9 277.5 L271.9 276.5 L271.9 275.5 L271.9 274.5Z" fill="#d585bd" stroke="#000" stroke-width="2.0" stroke-linejoin="round"/>
<line x1="271.2" y1="355.6" x2="272.6" y2="355.6" stroke="#000" stroke-width="1.7" stroke-dasharray="1.7 1.6"/>
<line x1="264.0" y1="304.5" x2="277.2" y2="304.5" stroke="#000" stroke-width="3.5"/>
<path d="M319.1 266.2 L319.1 267.2 L319.1 268.2 L319.1 269.2 L319.1 270.2 L319.1 271.2 L319.1 272.2 L319.1 273.2 L319.1 274.2 L319.1 275.2 L319.1 276.2 L319.1 277.2 L319.1 278.2 L319.0 279.2 L319.0 280.2 L319.0 281.2 L319.0 282.2 L319.0 283.2 L319.0 284.2 L318.9 285.2 L318.9 286.2 L318.9 287.2 L318.8 288.2 L318.8 289.2 L318.8 290.2 L318.7 291.2 L318.7 292.2 L318.6 293.2 L318.6 294.2 L318.5 295.2 L318.5 296.2 L318.4 297.2 L318.4 298.2 L318.4 299.2 L318.3 300.2 L318.3 301.2 L318.3 302.2 L318.3 303.2 L318.3 304.2 L318.3 305.2 L318.3 306.2 L318.3 307.2 L318.3 308.2 L318.3 309.2 L318.4 310.2 L318.4 311.2 L318.4 312.2 L318.5 313.2 L318.5 314.2 L318.6 315.2 L318.6 316.2 L318.7 317.2 L318.7 318.2 L318.7 319.2 L318.8 320.2 L318.8 321.2 L318.8 322.2 L318.8 323.2 L318.8 324.2 L318.8 325.2 L318.8 326.2 L318.8 327.2 L318.7 328.2 L318.7 329.2 L318.6 330.2 L318.5 331.2 L318.3 332.2 L318.2 333.2 L318.0 334.2 L317.8 335.2 L317.6 336.2 L317.3 337.2 L317.0 338.2 L316.6 339.2 L316.3 340.2 L315.9 341.2 L315.5 342.2 L315.1 343.2 L314.6 344.2 L314.2 345.2 L313.7 346.2 L313.3 347.2 L312.9 348.2 L312.5 349.2 L312.1 350.2 L311.8 351.2 L311.6 352.2 L311.4 353.2 L311.3 354.2 L311.2 355.2 L311.2 356.2 L311.3 357.2 L311.4 358.2 L311.6 359.2 L311.9 360.2 L312.2 361.2 L312.5 362.2 L312.9 363.2 L313.3 364.2 L313.8 365.2 L314.2 366.2 L314.7 367.2 L315.1 368.2 L315.5 369.2 L315.9 370.2 L316.3 371.2 L316.7 372.2 L317.0 373.2 L317.3 374.2 L317.5 375.2 L317.8 376.2 L317.9 377.2 L318.1 378.2 L318.2 379.2 L318.3 380.2 L318.4 381.2 L318.4 382.2 L318.4 383.2 L318.4 384.2 L318.3 385.2 L318.2 386.2 L318.1 387.2 L318.0 388.2 L317.8 389.2 L317.7 390.2 L317.5 391.2 L317.3 392.2 L317.0 393.2 L316.8 394.2 L316.5 395.2 L316.3 396.2 L316.0 397.2 L315.8 398.2 L315.6 399.2 L315.3 400.2 L315.1 401.2 L315.0 402.2 L314.8 403.2 L314.7 404.2 L314.6 405.2 L314.6 406.2 L314.6 407.2 L314.6 408.2 L314.7 409.2 L314.8 410.2 L315.0 411.2 L315.1 412.2 L315.3 413.2 L315.5 414.2 L315.8 415.2 L316.0 416.2 L316.3 417.2 L316.5 418.2 L316.8 419.2 L317.0 420.2 L317.3 421.2 L317.5 422.2 L317.7 423.2 L317.9 424.2 L318.0 425.2 L318.2 426.2 L318.3 427.2 L318.4 428.2 L318.5 429.2 L318.6 430.2 L318.6 431.2 L318.6 432.2 L318.7 433.2 L318.6 434.2 L318.6 435.2 L318.6 436.2 L318.5 437.2 L318.4 438.2 L318.3 439.2 L318.2 440.2 L318.1 441.2 L318.0 442.2 L317.8 443.2 L317.7 444.2 L317.5 445.2 L317.3 446.2 L317.1 447.2 L316.9 448.2 L316.8 449.2 L316.6 450.2 L316.4 451.2 L316.3 452.2 L316.2 453.2 L316.1 454.2 L316.0 455.2 L315.9 456.2 L315.9 457.2 L315.9 458.2 L315.9 459.2 L316.0 460.2 L316.0 461.2 L316.1 462.2 L316.3 463.2 L316.4 464.2 L316.6 465.2 L316.7 466.2 L316.9 467.2 L317.1 468.2 L317.3 469.2 L317.5 470.2 L317.6 471.2 L317.8 472.2 L318.0 473.2 L318.1 474.2 L318.2 475.2 L318.4 476.2 L318.5 477.2 L318.6 478.2 L318.7 479.2 L318.7 480.2 L318.8 481.2 L318.8 482.2 L318.9 483.2 L318.9 484.2 L319.0 485.2 L319.0 486.2 L319.0 487.2 L319.0 488.2 L319.0 489.2 L319.0 490.2 L319.0 491.2 L319.0 492.2 L319.0 493.2 L319.0 494.2 L319.0 495.2 L319.0 496.2 L319.0 497.2 L319.0 498.2 L319.0 499.2 L319.0 500.2 L318.9 501.2 L318.9 502.2 L318.9 503.2 L318.9 504.2 L318.9 505.2 L318.9 506.2 L318.9 507.0 L319.3 507.0 L319.3 506.2 L319.3 505.2 L319.3 504.2 L319.3 503.2 L319.3 502.2 L319.3 501.2 L319.2 500.2 L319.2 499.2 L319.2 498.2 L319.2 497.2 L319.2 496.2 L319.2 495.2 L319.2 494.2 L319.2 493.2 L319.2 492.2 L319.2 491.2 L319.2 490.2 L319.2 489.2 L319.2 488.2 L319.2 487.2 L319.2 486.2 L319.2 485.2 L319.3 484.2 L319.3 483.2 L319.4 482.2 L319.4 481.2 L319.5 480.2 L319.5 479.2 L319.6 478.2 L319.7 477.2 L319.8 476.2 L320.0 475.2 L320.1 474.2 L320.2 473.2 L320.4 472.2 L320.6 471.2 L320.7 470.2 L320.9 469.2 L321.1 468.2 L321.3 467.2 L321.5 466.2 L321.6 465.2 L321.8 464.2 L321.9 463.2 L322.1 462.2 L322.2 461.2 L322.2 460.2 L322.3 459.2 L322.3 458.2 L322.3 457.2 L322.3 456.2 L322.2 455.2 L322.1 454.2 L322.0 453.2 L321.9 452.2 L321.8 451.2 L321.6 450.2 L321.4 449.2 L321.3 448.2 L321.1 447.2 L320.9 446.2 L320.7 445.2 L320.5 444.2 L320.4 443.2 L320.2 442.2 L320.1 441.2 L320.0 440.2 L319.9 439.2 L319.8 438.2 L319.7 437.2 L319.6 436.2 L319.6 435.2 L319.6 434.2 L319.5 433.2 L319.6 432.2 L319.6 431.2 L319.6 430.2 L319.7 429.2 L319.8 428.2 L319.9 427.2 L320.0 426.2 L320.2 425.2 L320.3 424.2 L320.5 423.2 L320.7 422.2 L320.9 421.2 L321.2 420.2 L321.4 419.2 L321.7 418.2 L321.9 417.2 L322.2 416.2 L322.4 415.2 L322.7 414.2 L322.9 413.2 L323.1 412.2 L323.2 411.2 L323.4 410.2 L323.5 409.2 L323.6 408.2 L323.6 407.2 L323.6 406.2 L323.6 405.2 L323.5 404.2 L323.4 403.2 L323.2 402.2 L323.1 401.2 L322.9 400.2 L322.6 399.2 L322.4 398.2 L322.2 397.2 L321.9 396.2 L321.7 395.2 L321.4 394.2 L321.2 393.2 L320.9 392.2 L320.7 391.2 L320.5 390.2 L320.4 389.2 L320.2 388.2 L320.1 387.2 L320.0 386.2 L319.9 385.2 L319.8 384.2 L319.8 383.2 L319.8 382.2 L319.8 381.2 L319.9 380.2 L320.0 379.2 L320.1 378.2 L320.3 377.2 L320.4 376.2 L320.7 375.2 L320.9 374.2 L321.2 373.2 L321.5 372.2 L321.9 371.2 L322.3 370.2 L322.7 369.2 L323.1 368.2 L323.5 367.2 L324.0 366.2 L324.4 365.2 L324.9 364.2 L325.3 363.2 L325.7 362.2 L326.0 361.2 L326.3 360.2 L326.6 359.2 L326.8 358.2 L326.9 357.2 L327.0 356.2 L327.0 355.2 L326.9 354.2 L326.8 353.2 L326.6 352.2 L326.4 351.2 L326.1 350.2 L325.7 349.2 L325.3 348.2 L324.9 347.2 L324.5 346.2 L324.0 345.2 L323.6 344.2 L323.1 343.2 L322.7 342.2 L322.3 341.2 L321.9 340.2 L321.6 339.2 L321.2 338.2 L320.9 337.2 L320.6 336.2 L320.4 335.2 L320.2 334.2 L320.0 333.2 L319.9 332.2 L319.7 331.2 L319.6 330.2 L319.5 329.2 L319.5 328.2 L319.4 327.2 L319.4 326.2 L319.4 325.2 L319.4 324.2 L319.4 323.2 L319.4 322.2 L319.4 321.2 L319.4 320.2 L319.5 319.2 L319.5 318.2 L319.5 317.2 L319.6 316.2 L319.6 315.2 L319.7 314.2 L319.7 313.2 L319.8 312.2 L319.8 311.2 L319.8 310.2 L319.9 309.2 L319.9 308.2 L319.9 307.2 L319.9 306.2 L319.9 305.2 L319.9 304.2 L319.9 303.2 L319.9 302.2 L319.9 301.2 L319.9 300.2 L319.8 299.2 L319.8 298.2 L319.8 297.2 L319.7 296.2 L319.7 295.2 L319.6 294.2 L319.6 293.2 L319.5 292.2 L319.5 291.2 L319.4 290.2 L319.4 289.2 L319.4 288.2 L319.3 287.2 L319.3 286.2 L319.3 285.2 L319.2 284.2 L319.2 283.2 L319.2 282.2 L319.2 281.2 L319.2 280.2 L319.2 279.2 L319.2 278.2 L319.2 277.2 L319.2 276.2 L319.2 275.2 L319.2 274.2 L319.2 273.2 L319.2 272.2 L319.2 271.2 L319.2 270.2 L319.2 269.2 L319.2 268.2 L319.2 267.2 L319.2 266.2Z" fill="#6d6db9" stroke="#000" stroke-width="2.0" stroke-linejoin="round"/>
<line x1="317.0" y1="406.7" x2="321.2" y2="406.7" stroke="#000" stroke-width="1.7" stroke-dasharray="1.7 1.6"/>
<line x1="311.2" y1="355.6" x2="324.4" y2="355.6" stroke="#000" stroke-width="3.5"/>
<path d="M347.6 233.8 L347.6 234.8 L347.6 235.8 L347.6 236.8 L347.6 237.8 L347.6 238.8 L347.6 239.8 L347.6 240.8 L347.6 241.8 L347.6 242.8 L347.6 243.8 L347.6 244.8 L347.6 245.8 L347.6 246.8 L347.6 247.8 L347.6 248.8 L347.5 249.8 L347.5 250.8 L347.5 251.8 L347.5 252.8 L347.5 253.8 L347.4 254.8 L347.4 255.8 L347.4 256.8 L347.3 257.8 L347.3 258.8 L347.3 259.8 L347.2 260.8 L347.2 261.8 L347.1 262.8 L347.1 263.8 L347.0 264.8 L347.0 265.8 L346.9 266.8 L346.9 267.8 L346.8 268.8 L346.7 269.8 L346.6 270.8 L346.6 271.8 L346.5 272.8 L346.4 273.8 L346.3 274.8 L346.2 275.8 L346.2 276.8 L346.1 277.8 L346.0 278.8 L345.9 279.8 L345.8 280.8 L345.7 281.8 L345.6 282.8 L345.5 283.8 L345.4 284.8 L345.3 285.8 L345.2 286.8 L345.1 287.8 L345.0 288.8 L345.0 289.8 L344.9 290.8 L344.8 291.8 L344.7 292.8 L344.7 293.8 L344.6 294.8 L344.5 295.8 L344.5 296.8 L344.4 297.8 L344.4 298.8 L344.3 299.8 L344.3 300.8 L344.3 301.8 L344.3 302.8 L344.3 303.8 L344.3 304.8 L344.3 305.8 L344.3 306.8 L344.3 307.8 L344.3 308.8 L344.4 309.8 L344.4 310.8 L344.4 311.8 L344.5 312.8 L344.6 313.8 L344.6 314.8 L344.7 315.8 L344.8 316.8 L344.8 317.8 L344.9 318.8 L345.0 319.8 L345.1 320.8 L345.2 321.8 L345.3 322.8 L345.4 323.8 L345.5 324.8 L345.5 325.8 L345.6 326.8 L345.7 327.8 L345.8 328.8 L345.9 329.8 L346.0 330.8 L346.1 331.8 L346.2 332.8 L346.3 333.8 L346.4 334.8 L346.4 335.8 L346.5 336.8 L346.6 337.8 L346.7 338.8 L346.7 339.8 L346.8 340.8 L346.8 341.8 L346.9 342.8 L346.9 343.8 L347.0 344.8 L347.0 345.8 L347.1 346.8 L347.1 347.8 L347.1 348.8 L347.2 349.8 L347.2 350.8 L347.2 351.8 L347.2 352.8 L347.2 353.8 L347.2 354.8 L347.2 355.8 L347.2 356.8 L347.2 357.8 L347.2 358.8 L347.2 359.8 L347.2 360.8 L347.2 361.8 L347.1 362.8 L347.1 363.8 L347.1 364.8 L347.0 365.8 L347.0 366.8 L346.9 367.8 L346.9 368.8 L346.8 369.8 L346.8 370.8 L346.7 371.8 L346.6 372.8 L346.6 373.8 L346.5 374.8 L346.4 375.8 L346.3 376.8 L346.3 377.8 L346.2 378.8 L346.1 379.8 L346.0 380.8 L345.9 381.8 L345.8 382.8 L345.7 383.8 L345.6 384.8 L345.5 385.8 L345.4 386.8 L345.3 387.8 L345.2 388.8 L345.1 389.8 L345.0 390.8 L344.9 391.8 L344.9 392.8 L344.8 393.8 L344.7 394.8 L344.6 395.8 L344.5 396.8 L344.4 397.8 L344.3 398.8 L344.3 399.8 L344.2 400.8 L344.1 401.8 L344.0 402.8 L344.0 403.8 L343.9 404.8 L343.9 405.8 L343.8 406.8 L343.7 407.8 L343.7 408.8 L343.6 409.8 L343.6 410.8 L343.5 411.8 L343.5 412.8 L343.4 413.8 L343.4 414.8 L343.3 415.8 L343.3 416.8 L343.2 417.8 L343.2 418.8 L343.1 419.8 L343.0 420.8 L342.9 421.8 L342.9 422.8 L342.8 423.8 L342.7 424.8 L342.6 425.8 L342.5 426.8 L342.4 427.8 L342.3 428.8 L342.2 429.8 L342.1 430.8 L342.0 431.8 L341.8 432.8 L341.7 433.8 L341.6 434.8 L341.4 435.8 L341.3 436.8 L341.2 437.8 L341.0 438.8 L340.9 439.8 L340.7 440.8 L340.6 441.8 L340.5 442.8 L340.3 443.8 L340.2 444.8 L340.1 445.8 L340.0 446.8 L339.9 447.8 L339.8 448.8 L339.7 449.8 L339.6 450.8 L339.5 451.8 L339.5 452.8 L339.4 453.8 L339.4 454.8 L339.4 455.8 L339.4 456.8 L339.4 457.8 L339.4 458.8 L339.4 459.8 L339.5 460.8 L339.6 461.8 L339.6 462.8 L339.7 463.8 L339.8 464.8 L340.0 465.8 L340.1 466.8 L340.2 467.8 L340.4 468.8 L340.5 469.8 L340.7 470.8 L340.9 471.8 L341.1 472.8 L341.3 473.8 L341.4 474.8 L341.6 475.8 L341.8 476.8 L342.0 477.8 L342.2 478.8 L342.4 479.8 L342.6 480.8 L342.8 481.8 L343.0 482.8 L343.2 483.8 L343.4 484.8 L343.6 485.8 L343.8 486.8 L344.0 487.8 L344.1 488.8 L344.3 489.8 L344.5 490.8 L344.6 491.8 L344.8 492.8 L344.9 493.8 L345.0 494.8 L345.2 495.8 L345.3 496.8 L345.4 497.8 L345.5 498.8 L345.6 499.8 L345.7 500.8 L345.8 501.8 L345.9 502.8 L345.9 503.8 L346.0 504.8 L346.1 505.8 L346.1 506.8 L346.2 507.0 L349.2 507.0 L349.3 506.8 L349.3 505.8 L349.4 504.8 L349.5 503.8 L349.5 502.8 L349.6 501.8 L349.7 500.8 L349.8 499.8 L349.9 498.8 L350.0 497.8 L350.1 496.8 L350.2 495.8 L350.4 494.8 L350.5 493.8 L350.6 492.8 L350.8 491.8 L350.9 490.8 L351.1 489.8 L351.3 488.8 L351.4 487.8 L351.6 486.8 L351.8 485.8 L352.0 484.8 L352.2 483.8 L352.4 482.8 L352.6 481.8 L352.8 480.8 L353.0 479.8 L353.2 478.8 L353.4 477.8 L353.6 476.8 L353.8 475.8 L354.0 474.8 L354.1 473.8 L354.3 472.8 L354.5 471.8 L354.7 470.8 L354.9 469.8 L355.0 468.8 L355.2 467.8 L355.3 466.8 L355.4 465.8 L355.6 464.8 L355.7 463.8 L355.8 462.8 L355.8 461.8 L355.9 460.8 L356.0 459.8 L356.0 458.8 L356.0 457.8 L356.0 456.8 L356.0 455.8 L356.0 454.8 L356.0 453.8 L355.9 452.8 L355.9 451.8 L355.8 450.8 L355.7 449.8 L355.6 448.8 L355.5 447.8 L355.4 446.8 L355.3 445.8 L355.2 444.8 L355.1 443.8 L354.9 442.8 L354.8 441.8 L354.7 440.8 L354.5 439.8 L354.4 438.8 L354.2 437.8 L354.1 436.8 L354.0 435.8 L353.8 434.8 L353.7 433.8 L353.6 432.8 L353.4 431.8 L353.3 430.8 L353.2 429.8 L353.1 428.8 L353.0 427.8 L352.9 426.8 L352.8 425.8 L352.7 424.8 L352.6 423.8 L352.5 422.8 L352.5 421.8 L352.4 420.8 L352.3 419.8 L352.2 418.8 L352.2 417.8 L352.1 416.8 L352.1 415.8 L352.0 414.8 L352.0 413.8 L351.9 412.8 L351.9 411.8 L351.8 410.8 L351.8 409.8 L351.7 408.8 L351.7 407.8 L351.6 406.8 L351.5 405.8 L351.5 404.8 L351.4 403.8 L351.4 402.8 L351.3 401.8 L351.2 400.8 L351.1 399.8 L351.1 398.8 L351.0 397.8 L350.9 396.8 L350.8 395.8 L350.7 394.8 L350.6 393.8 L350.5 392.8 L350.5 391.8 L350.4 390.8 L350.3 389.8 L350.2 388.8 L350.1 387.8 L350.0 386.8 L349.9 385.8 L349.8 384.8 L349.7 383.8 L349.6 382.8 L349.5 381.8 L349.4 380.8 L349.3 379.8 L349.2 378.8 L349.1 377.8 L349.1 376.8 L349.0 375.8 L348.9 374.8 L348.8 373.8 L348.8 372.8 L348.7 371.8 L348.6 370.8 L348.6 369.8 L348.5 368.8 L348.5 367.8 L348.4 366.8 L348.4 365.8 L348.3 364.8 L348.3 363.8 L348.3 362.8 L348.2 361.8 L348.2 360.8 L348.2 359.8 L348.2 358.8 L348.2 357.8 L348.2 356.8 L348.2 355.8 L348.2 354.8 L348.2 353.8 L348.2 352.8 L348.2 351.8 L348.2 350.8 L348.2 349.8 L348.3 348.8 L348.3 347.8 L348.3 346.8 L348.4 345.8 L348.4 344.8 L348.5 343.8 L348.5 342.8 L348.6 341.8 L348.6 340.8 L348.7 339.8 L348.7 338.8 L348.8 337.8 L348.9 336.8 L349.0 335.8 L349.0 334.8 L349.1 333.8 L349.2 332.8 L349.3 331.8 L349.4 330.8 L349.5 329.8 L349.6 328.8 L349.7 327.8 L349.8 326.8 L349.9 325.8 L349.9 324.8 L350.0 323.8 L350.1 322.8 L350.2 321.8 L350.3 320.8 L350.4 319.8 L350.5 318.8 L350.6 317.8 L350.6 316.8 L350.7 315.8 L350.8 314.8 L350.8 313.8 L350.9 312.8 L351.0 311.8 L351.0 310.8 L351.0 309.8 L351.1 308.8 L351.1 307.8 L351.1 306.8 L351.1 305.8 L351.1 304.8 L351.1 303.8 L351.1 302.8 L351.1 301.8 L351.1 300.8 L351.1 299.8 L351.0 298.8 L351.0 297.8 L350.9 296.8 L350.9 295.8 L350.8 294.8 L350.7 293.8 L350.7 292.8 L350.6 291.8 L350.5 290.8 L350.4 289.8 L350.4 288.8 L350.3 287.8 L350.2 286.8 L350.1 285.8 L350.0 284.8 L349.9 283.8 L349.8 282.8 L349.7 281.8 L349.6 280.8 L349.5 279.8 L349.4 278.8 L349.3 277.8 L349.2 276.8 L349.2 275.8 L349.1 274.8 L349.0 273.8 L348.9 272.8 L348.8 271.8 L348.8 270.8 L348.7 269.8 L348.6 268.8 L348.5 267.8 L348.5 266.8 L348.4 265.8 L348.4 264.8 L348.3 263.8 L348.3 262.8 L348.2 261.8 L348.2 260.8 L348.1 259.8 L348.1 258.8 L348.1 257.8 L348.0 256.8 L348.0 255.8 L348.0 254.8 L347.9 253.8 L347.9 252.8 L347.9 251.8 L347.9 250.8 L347.9 249.8 L347.8 248.8 L347.8 247.8 L347.8 246.8 L347.8 245.8 L347.8 244.8 L347.8 243.8 L347.8 242.8 L347.8 241.8 L347.8 240.8 L347.8 239.8 L347.8 238.8 L347.8 237.8 L347.8 236.8 L347.8 235.8 L347.8 234.8 L347.8 233.8Z" fill="#a070cc" stroke="#000" stroke-width="2.0" stroke-linejoin="round"/>
<line x1="339.4" y1="457.8" x2="352.6" y2="457.8" stroke="#000" stroke-width="3.5"/>
<path d="M375.3 275.0 L375.3 276.0 L375.3 277.0 L375.3 278.0 L375.3 279.0 L375.3 280.0 L375.3 281.0 L375.3 282.0 L375.2 283.0 L375.2 284.0 L375.1 285.0 L375.0 286.0 L374.8 287.0 L374.6 288.0 L374.4 289.0 L374.1 290.0 L373.7 291.0 L373.3 292.0 L372.8 293.0 L372.3 294.0 L371.7 295.0 L371.1 296.0 L370.5 297.0 L369.9 298.0 L369.3 299.0 L368.7 300.0 L368.3 301.0 L367.9 302.0 L367.6 303.0 L367.5 304.0 L367.5 305.0 L367.6 306.0 L367.9 307.0 L368.2 308.0 L368.7 309.0 L369.2 310.0 L369.8 311.0 L370.5 312.0 L371.1 313.0 L371.7 314.0 L372.3 315.0 L372.8 316.0 L373.3 317.0 L373.7 318.0 L374.1 319.0 L374.4 320.0 L374.6 321.0 L374.8 322.0 L375.0 323.0 L375.1 324.0 L375.2 325.0 L375.2 326.0 L375.3 327.0 L375.3 328.0 L375.3 329.0 L375.3 330.0 L375.3 331.0 L375.3 332.0 L375.3 333.0 L375.3 334.0 L375.3 335.0 L375.3 336.0 L375.3 337.0 L375.2 338.0 L375.2 339.0 L375.1 340.0 L375.0 341.0 L374.9 342.0 L374.8 343.0 L374.6 344.0 L374.5 345.0 L374.3 346.0 L374.1 347.0 L373.9 348.0 L373.7 349.0 L373.6 350.0 L373.4 351.0 L373.3 352.0 L373.1 353.0 L373.1 354.0 L373.0 355.0 L373.0 356.0 L373.0 357.0 L373.1 358.0 L373.2 359.0 L373.4 360.0 L373.5 361.0 L373.7 362.0 L373.9 363.0 L374.1 364.0 L374.3 365.0 L374.4 366.0 L374.6 367.0 L374.7 368.0 L374.9 369.0 L375.0 370.0 L375.1 371.0 L375.2 372.0 L375.2 373.0 L375.3 374.0 L375.3 375.0 L375.3 376.0 L375.3 377.0 L375.3 378.0 L375.3 379.0 L375.3 380.0 L375.3 381.0 L375.3 382.0 L375.3 383.0 L375.3 384.0 L375.3 385.0 L375.3 386.0 L375.3 387.0 L375.3 388.0 L375.3 389.0 L375.3 390.0 L375.3 391.0 L375.3 392.0 L375.2 393.0 L375.2 394.0 L375.1 395.0 L375.1 396.0 L375.0 397.0 L375.0 398.0 L374.9 399.0 L374.8 400.0 L374.8 401.0 L374.7 402.0 L374.7 403.0 L374.6 404.0 L374.6 405.0 L374.6 406.0 L374.6 407.0 L374.6 408.0 L374.6 409.0 L374.6 410.0 L374.7 411.0 L374.7 412.0 L374.8 413.0 L374.9 414.0 L374.9 415.0 L375.0 416.0 L375.1 417.0 L375.1 418.0 L375.2 419.0 L375.2 420.0 L375.3 421.0 L375.3 422.0 L375.3 423.0 L375.3 424.0 L375.3 425.0 L375.3 426.0 L375.3 427.0 L375.3 428.0 L375.3 429.0 L375.3 430.0 L375.3 431.0 L375.3 432.0 L375.3 433.0 L375.3 434.0 L375.3 435.0 L375.3 435.7 L375.4 435.7 L375.4 435.0 L375.4 434.0 L375.4 433.0 L375.4 432.0 L375.4 431.0 L375.4 430.0 L375.4 429.0 L375.4 428.0 L375.4 427.0 L375.4 426.0 L375.4 425.0 L375.5 424.0 L375.5 423.0 L375.5 422.0 L375.5 421.0 L375.6 420.0 L375.6 419.0 L375.7 418.0 L375.7 417.0 L375.8 416.0 L375.9 415.0 L375.9 414.0 L376.0 413.0 L376.1 412.0 L376.1 411.0 L376.2 410.0 L376.2 409.0 L376.2 408.0 L376.2 407.0 L376.2 406.0 L376.2 405.0 L376.2 404.0 L376.1 403.0 L376.1 402.0 L376.0 401.0 L376.0 400.0 L375.9 399.0 L375.8 398.0 L375.8 397.0 L375.7 396.0 L375.7 395.0 L375.6 394.0 L375.6 393.0 L375.5 392.0 L375.5 391.0 L375.5 390.0 L375.5 389.0 L375.4 388.0 L375.4 387.0 L375.4 386.0 L375.4 385.0 L375.4 384.0 L375.4 383.0 L375.4 382.0 L375.4 381.0 L375.4 380.0 L375.4 379.0 L375.4 378.0 L375.4 377.0 L375.5 376.0 L375.5 375.0 L375.5 374.0 L375.6 373.0 L375.6 372.0 L375.7 371.0 L375.8 370.0 L375.9 369.0 L376.1 368.0 L376.2 367.0 L376.4 366.0 L376.5 365.0 L376.7 364.0 L376.9 363.0 L377.1 362.0 L377.3 361.0 L377.4 360.0 L377.6 359.0 L377.7 358.0 L377.8 357.0 L377.8 356.0 L377.8 355.0 L377.7 354.0 L377.7 353.0 L377.5 352.0 L377.4 351.0 L377.2 350.0 L377.1 349.0 L376.9 348.0 L376.7 347.0 L376.5 346.0 L376.3 345.0 L376.2 344.0 L376.0 343.0 L375.9 342.0 L375.8 341.0 L375.7 340.0 L375.6 339.0 L375.6 338.0 L375.5 337.0 L375.5 336.0 L375.5 335.0 L375.4 334.0 L375.4 333.0 L375.4 332.0 L375.4 331.0 L375.4 330.0 L375.5 329.0 L375.5 328.0 L375.5 327.0 L375.6 326.0 L375.6 325.0 L375.7 324.0 L375.8 323.0 L376.0 322.0 L376.2 321.0 L376.4 320.0 L376.7 319.0 L377.1 318.0 L377.5 317.0 L378.0 316.0 L378.5 315.0 L379.1 314.0 L379.7 313.0 L380.3 312.0 L381.0 311.0 L381.6 310.0 L382.1 309.0 L382.6 308.0 L382.9 307.0 L383.2 306.0 L383.3 305.0 L383.3 304.0 L383.2 303.0 L382.9 302.0 L382.5 301.0 L382.1 300.0 L381.5 299.0 L380.9 298.0 L380.3 297.0 L379.7 296.0 L379.1 295.0 L378.5 294.0 L378.0 293.0 L377.5 292.0 L377.1 291.0 L376.7 290.0 L376.4 289.0 L376.2 288.0 L376.0 287.0 L375.8 286.0 L375.7 285.0 L375.6 284.0 L375.6 283.0 L375.5 282.0 L375.5 281.0 L375.4 280.0 L375.4 279.0 L375.4 278.0 L375.4 277.0 L375.4 276.0 L375.4 275.0Z" fill="#d585bd" stroke="#000" stroke-width="2.0" stroke-linejoin="round"/>
<line x1="374.7" y1="355.6" x2="376.1" y2="355.6" stroke="#000" stroke-width="1.7" stroke-dasharray="1.7 1.6"/>
<line x1="367.5" y1="304.5" x2="380.7" y2="304.5" stroke="#000" stroke-width="3.5"/>
<path d="M423.4 164.0 L423.4 165.0 L423.4 166.0 L423.4 167.0 L423.4 168.0 L423.4 169.0 L423.4 170.0 L423.4 171.0 L423.4 172.0 L423.4 173.0 L423.4 174.0 L423.4 175.0 L423.3 176.0 L423.2 177.0 L423.2 178.0 L423.1 179.0 L423.0 180.0 L422.8 181.0 L422.6 182.0 L422.4 183.0 L422.2 184.0 L421.9 185.0 L421.6 186.0 L421.3 187.0 L420.9 188.0 L420.5 189.0 L420.0 190.0 L419.6 191.0 L419.1 192.0 L418.6 193.0 L418.1 194.0 L417.7 195.0 L417.2 196.0 L416.8 197.0 L416.5 198.0 L416.2 199.0 L416.0 200.0 L415.8 201.0 L415.7 202.0 L415.7 203.0 L415.8 204.0 L416.0 205.0 L416.3 206.0 L416.6 207.0 L416.9 208.0 L417.3 209.0 L417.8 210.0 L418.3 211.0 L418.8 212.0 L419.2 213.0 L419.7 214.0 L420.2 215.0 L420.6 216.0 L421.0 217.0 L421.4 218.0 L421.7 219.0 L422.0 220.0 L422.3 221.0 L422.5 222.0 L422.7 223.0 L422.8 224.0 L422.9 225.0 L423.0 226.0 L423.1 227.0 L423.2 228.0 L423.2 229.0 L423.2 230.0 L423.2 231.0 L423.2 232.0 L423.1 233.0 L423.1 234.0 L423.0 235.0 L422.9 236.0 L422.8 237.0 L422.7 238.0 L422.6 239.0 L422.4 240.0 L422.3 241.0 L422.1 242.0 L421.9 243.0 L421.8 244.0 L421.6 245.0 L421.4 246.0 L421.3 247.0 L421.1 248.0 L421.0 249.0 L420.9 250.0 L420.8 251.0 L420.7 252.0 L420.7 253.0 L420.7 254.0 L420.8 255.0 L420.8 256.0 L420.9 257.0 L421.0 258.0 L421.1 259.0 L421.3 260.0 L421.4 261.0 L421.6 262.0 L421.8 263.0 L422.0 264.0 L422.1 265.0 L422.3 266.0 L422.4 267.0 L422.6 268.0 L422.7 269.0 L422.8 270.0 L423.0 271.0 L423.0 272.0 L423.1 273.0 L423.2 274.0 L423.3 275.0 L423.3 276.0 L423.3 277.0 L423.4 278.0 L423.4 279.0 L423.4 280.0 L423.4 281.0 L423.4 282.0 L423.4 283.0 L423.4 284.0 L423.4 285.0 L423.3 286.0 L423.3 287.0 L423.3 288.0 L423.2 289.0 L423.2 290.0 L423.2 291.0 L423.1 292.0 L423.1 293.0 L423.0 294.0 L422.9 295.0 L422.9 296.0 L422.8 297.0 L422.8 298.0 L422.7 299.0 L422.7 300.0 L422.7 301.0 L422.6 302.0 L422.6 303.0 L422.6 304.0 L422.6 305.0 L422.6 306.0 L422.6 307.0 L422.6 308.0 L422.7 309.0 L422.7 310.0 L422.8 311.0 L422.8 312.0 L422.9 313.0 L422.9 314.0 L423.0 315.0 L423.0 316.0 L423.1 317.0 L423.2 318.0 L423.2 319.0 L423.2 320.0 L423.3 321.0 L423.3 322.0 L423.4 323.0 L423.4 324.0 L423.4 325.0 L423.4 326.0 L423.4 327.0 L423.4 328.0 L423.4 329.0 L423.4 330.0 L423.4 331.0 L423.4 332.0 L423.4 333.0 L423.4 334.0 L423.4 335.0 L423.4 336.0 L423.4 337.0 L423.4 338.0 L423.4 339.0 L423.4 340.0 L423.4 341.0 L423.4 342.0 L423.4 343.0 L423.4 344.0 L423.4 345.0 L423.4 346.0 L423.4 347.0 L423.3 348.0 L423.3 349.0 L423.3 350.0 L423.3 351.0 L423.3 352.0 L423.3 353.0 L423.3 354.0 L423.3 355.0 L423.3 356.0 L423.3 357.0 L423.3 358.0 L423.3 359.0 L423.3 360.0 L423.3 361.0 L423.3 362.0 L423.3 363.0 L423.4 364.0 L423.4 365.0 L423.4 366.0 L423.4 367.0 L423.4 368.0 L423.4 369.0 L423.4 370.0 L423.4 371.0 L423.4 372.0 L423.4 373.0 L423.4 374.0 L423.4 375.0 L423.4 376.0 L423.4 377.0 L423.4 378.0 L423.4 379.0 L423.4 380.0 L423.4 381.0 L423.4 382.0 L423.4 383.0 L423.4 384.0 L423.4 385.0 L423.4 386.0 L423.4 387.0 L423.4 388.0 L423.4 389.0 L423.3 390.0 L423.3 391.0 L423.3 392.0 L423.2 393.0 L423.2 394.0 L423.1 395.0 L423.1 396.0 L423.1 397.0 L423.0 398.0 L423.0 399.0 L422.9 400.0 L422.9 401.0 L422.9 402.0 L422.8 403.0 L422.8 404.0 L422.8 405.0 L422.8 406.0 L422.8 407.0 L422.8 408.0 L422.8 409.0 L422.8 410.0 L422.8 411.0 L422.9 412.0 L422.9 413.0 L422.9 414.0 L423.0 415.0 L423.0 416.0 L423.1 417.0 L423.1 418.0 L423.2 419.0 L423.2 420.0 L423.3 421.0 L423.3 422.0 L423.3 423.0 L423.4 424.0 L423.4 425.0 L423.4 426.0 L423.4 427.0 L423.4 428.0 L423.4 429.0 L423.4 430.0 L423.4 431.0 L423.4 432.0 L423.4 433.0 L423.4 434.0 L423.4 435.0 L423.4 436.0 L423.4 437.0 L423.4 438.0 L423.4 439.0 L423.4 440.0 L423.4 441.0 L423.4 442.0 L423.4 443.0 L423.4 444.0 L423.4 445.0 L423.4 445.3 L423.6 445.3 L423.6 445.0 L423.6 444.0 L423.6 443.0 L423.6 442.0 L423.6 441.0 L423.6 440.0 L423.6 439.0 L423.6 438.0 L423.6 437.0 L423.6 436.0 L423.6 435.0 L423.6 434.0 L423.6 433.0 L423.6 432.0 L423.6 431.0 L423.6 430.0 L423.6 429.0 L423.6 428.0 L423.6 427.0 L423.6 426.0 L423.6 425.0 L423.6 424.0 L423.7 423.0 L423.7 422.0 L423.7 421.0 L423.8 420.0 L423.8 419.0 L423.9 418.0 L423.9 417.0 L424.0 416.0 L424.0 415.0 L424.1 414.0 L424.1 413.0 L424.1 412.0 L424.2 411.0 L424.2 410.0 L424.2 409.0 L424.2 408.0 L424.2 407.0 L424.2 406.0 L424.2 405.0 L424.2 404.0 L424.2 403.0 L424.1 402.0 L424.1 401.0 L424.1 400.0 L424.0 399.0 L424.0 398.0 L423.9 397.0 L423.9 396.0 L423.9 395.0 L423.8 394.0 L423.8 393.0 L423.7 392.0 L423.7 391.0 L423.7 390.0 L423.6 389.0 L423.6 388.0 L423.6 387.0 L423.6 386.0 L423.6 385.0 L423.6 384.0 L423.6 383.0 L423.6 382.0 L423.6 381.0 L423.6 380.0 L423.6 379.0 L423.6 378.0 L423.6 377.0 L423.6 376.0 L423.6 375.0 L423.6 374.0 L423.6 373.0 L423.6 372.0 L423.6 371.0 L423.6 370.0 L423.6 369.0 L423.6 368.0 L423.6 367.0 L423.6 366.0 L423.6 365.0 L423.6 364.0 L423.7 363.0 L423.7 362.0 L423.7 361.0 L423.7 360.0 L423.7 359.0 L423.7 358.0 L423.7 357.0 L423.7 356.0 L423.7 355.0 L423.7 354.0 L423.7 353.0 L423.7 352.0 L423.7 351.0 L423.7 350.0 L423.7 349.0 L423.7 348.0 L423.6 347.0 L423.6 346.0 L423.6 345.0 L423.6 344.0 L423.6 343.0 L423.6 342.0 L423.6 341.0 L423.6 340.0 L423.6 339.0 L423.6 338.0 L423.6 337.0 L423.6 336.0 L423.6 335.0 L423.6 334.0 L423.6 333.0 L423.6 332.0 L423.6 331.0 L423.6 330.0 L423.6 329.0 L423.6 328.0 L423.6 327.0 L423.6 326.0 L423.6 325.0 L423.6 324.0 L423.6 323.0 L423.7 322.0 L423.7 321.0 L423.8 320.0 L423.8 319.0 L423.8 318.0 L423.9 317.0 L424.0 316.0 L424.0 315.0 L424.1 314.0 L424.1 313.0 L424.2 312.0 L424.2 311.0 L424.3 310.0 L424.3 309.0 L424.4 308.0 L424.4 307.0 L424.4 306.0 L424.4 305.0 L424.4 304.0 L424.4 303.0 L424.4 302.0 L424.3 301.0 L424.3 300.0 L424.3 299.0 L424.2 298.0 L424.2 297.0 L424.1 296.0 L424.1 295.0 L424.0 294.0 L423.9 293.0 L423.9 292.0 L423.8 291.0 L423.8 290.0 L423.8 289.0 L423.7 288.0 L423.7 287.0 L423.7 286.0 L423.6 285.0 L423.6 284.0 L423.6 283.0 L423.6 282.0 L423.6 281.0 L423.6 280.0 L423.6 279.0 L423.6 278.0 L423.7 277.0 L423.7 276.0 L423.7 275.0 L423.8 274.0 L423.9 273.0 L424.0 272.0 L424.0 271.0 L424.2 270.0 L424.3 269.0 L424.4 268.0 L424.6 267.0 L424.7 266.0 L424.9 265.0 L425.0 264.0 L425.2 263.0 L425.4 262.0 L425.6 261.0 L425.7 260.0 L425.9 259.0 L426.0 258.0 L426.1 257.0 L426.2 256.0 L426.2 255.0 L426.3 254.0 L426.3 253.0 L426.3 252.0 L426.2 251.0 L426.1 250.0 L426.0 249.0 L425.9 248.0 L425.7 247.0 L425.6 246.0 L425.4 245.0 L425.2 244.0 L425.1 243.0 L424.9 242.0 L424.7 241.0 L424.6 240.0 L424.4 239.0 L424.3 238.0 L424.2 237.0 L424.1 236.0 L424.0 235.0 L423.9 234.0 L423.9 233.0 L423.8 232.0 L423.8 231.0 L423.8 230.0 L423.8 229.0 L423.8 228.0 L423.9 227.0 L424.0 226.0 L424.1 225.0 L424.2 224.0 L424.3 223.0 L424.5 222.0 L424.7 221.0 L425.0 220.0 L425.3 219.0 L425.6 218.0 L426.0 217.0 L426.4 216.0 L426.8 215.0 L427.3 214.0 L427.8 213.0 L428.2 212.0 L428.7 211.0 L429.2 210.0 L429.7 209.0 L430.1 208.0 L430.4 207.0 L430.7 206.0 L431.0 205.0 L431.2 204.0 L431.3 203.0 L431.3 202.0 L431.2 201.0 L431.0 200.0 L430.8 199.0 L430.5 198.0 L430.2 197.0 L429.8 196.0 L429.3 195.0 L428.9 194.0 L428.4 193.0 L427.9 192.0 L427.4 191.0 L427.0 190.0 L426.5 189.0 L426.1 188.0 L425.7 187.0 L425.4 186.0 L425.1 185.0 L424.8 184.0 L424.6 183.0 L424.4 182.0 L424.2 181.0 L424.0 180.0 L423.9 179.0 L423.8 178.0 L423.8 177.0 L423.7 176.0 L423.6 175.0 L423.6 174.0 L423.6 173.0 L423.6 172.0 L423.6 171.0 L423.6 170.0 L423.6 169.0 L423.6 168.0 L423.6 167.0 L423.6 166.0 L423.6 165.0 L423.6 164.0Z" fill="#6d6db9" stroke="#000" stroke-width="2.0" stroke-linejoin="round"/>
<line x1="422.8" y1="253.4" x2="424.2" y2="253.4" stroke="#000" stroke-width="1.7" stroke-dasharray="1.7 1.6"/>
<line x1="415.7" y1="202.4" x2="428.9" y2="202.4" stroke="#000" stroke-width="3.5"/>
<path d="M451.4 136.8 L451.4 137.8 L451.4 138.8 L451.4 139.8 L451.4 140.8 L451.4 141.8 L451.4 142.8 L451.4 143.8 L451.4 144.8 L451.4 145.8 L451.4 146.8 L451.4 147.8 L451.4 148.8 L451.4 149.8 L451.3 150.8 L451.3 151.8 L451.3 152.8 L451.3 153.8 L451.2 154.8 L451.2 155.8 L451.1 156.8 L451.1 157.8 L451.0 158.8 L451.0 159.8 L450.9 160.8 L450.8 161.8 L450.7 162.8 L450.6 163.8 L450.5 164.8 L450.4 165.8 L450.3 166.8 L450.2 167.8 L450.0 168.8 L449.9 169.8 L449.7 170.8 L449.5 171.8 L449.3 172.8 L449.1 173.8 L448.9 174.8 L448.7 175.8 L448.5 176.8 L448.3 177.8 L448.0 178.8 L447.8 179.8 L447.5 180.8 L447.3 181.8 L447.0 182.8 L446.8 183.8 L446.5 184.8 L446.2 185.8 L446.0 186.8 L445.7 187.8 L445.5 188.8 L445.3 189.8 L445.0 190.8 L444.8 191.8 L444.6 192.8 L444.4 193.8 L444.2 194.8 L444.1 195.8 L444.0 196.8 L443.8 197.8 L443.7 198.8 L443.7 199.8 L443.6 200.8 L443.6 201.8 L443.6 202.8 L443.6 203.8 L443.6 204.8 L443.7 205.8 L443.8 206.8 L443.9 207.8 L444.0 208.8 L444.1 209.8 L444.3 210.8 L444.4 211.8 L444.6 212.8 L444.8 213.8 L445.0 214.8 L445.2 215.8 L445.4 216.8 L445.6 217.8 L445.9 218.8 L446.1 219.8 L446.3 220.8 L446.5 221.8 L446.7 222.8 L446.9 223.8 L447.1 224.8 L447.3 225.8 L447.5 226.8 L447.7 227.8 L447.9 228.8 L448.0 229.8 L448.1 230.8 L448.3 231.8 L448.4 232.8 L448.5 233.8 L448.6 234.8 L448.7 235.8 L448.8 236.8 L448.8 237.8 L448.9 238.8 L448.9 239.8 L449.0 240.8 L449.0 241.8 L449.0 242.8 L449.1 243.8 L449.1 244.8 L449.1 245.8 L449.1 246.8 L449.1 247.8 L449.2 248.8 L449.2 249.8 L449.2 250.8 L449.2 251.8 L449.2 252.8 L449.3 253.8 L449.3 254.8 L449.3 255.8 L449.4 256.8 L449.4 257.8 L449.4 258.8 L449.5 259.8 L449.5 260.8 L449.6 261.8 L449.6 262.8 L449.7 263.8 L449.7 264.8 L449.8 265.8 L449.8 266.8 L449.9 267.8 L450.0 268.8 L450.0 269.8 L450.1 270.8 L450.2 271.8 L450.2 272.8 L450.3 273.8 L450.3 274.8 L450.4 275.8 L450.5 276.8 L450.5 277.8 L450.6 278.8 L450.6 279.8 L450.7 280.8 L450.7 281.8 L450.8 282.8 L450.8 283.8 L450.8 284.8 L450.9 285.8 L450.9 286.8 L450.9 287.8 L450.9 288.8 L451.0 289.8 L451.0 290.8 L451.0 291.8 L451.0 292.8 L451.0 293.8 L451.0 294.8 L451.0 295.8 L451.1 296.8 L451.1 297.8 L451.1 298.8 L451.1 299.8 L451.1 300.8 L451.1 301.8 L451.1 302.8 L451.1 303.8 L451.1 304.8 L451.1 305.8 L451.1 306.8 L451.1 307.8 L451.1 308.8 L451.1 309.8 L451.1 310.8 L451.1 311.8 L451.1 312.8 L451.1 313.8 L451.1 314.8 L451.1 315.8 L451.1 316.8 L451.1 317.8 L451.1 318.8 L451.0 319.8 L451.0 320.8 L451.0 321.8 L451.0 322.8 L451.0 323.8 L451.0 324.8 L450.9 325.8 L450.9 326.8 L450.9 327.8 L450.9 328.8 L450.8 329.8 L450.8 330.8 L450.8 331.8 L450.7 332.8 L450.7 333.8 L450.7 334.8 L450.6 335.8 L450.6 336.8 L450.5 337.8 L450.5 338.8 L450.5 339.8 L450.4 340.8 L450.4 341.8 L450.3 342.8 L450.3 343.8 L450.3 344.8 L450.2 345.8 L450.2 346.8 L450.2 347.8 L450.2 348.8 L450.1 349.8 L450.1 350.8 L450.1 351.8 L450.1 352.8 L450.1 353.8 L450.1 354.8 L450.1 355.8 L450.1 356.8 L450.1 357.8 L450.1 358.8 L450.1 359.8 L450.1 360.8 L450.1 361.8 L450.2 362.8 L450.2 363.8 L450.2 364.8 L450.3 365.8 L450.3 366.8 L450.3 367.8 L450.4 368.8 L450.4 369.8 L450.5 370.8 L450.5 371.8 L450.5 372.8 L450.6 373.8 L450.6 374.8 L450.7 375.8 L450.7 376.8 L450.8 377.8 L450.8 378.8 L450.8 379.8 L450.9 380.8 L450.9 381.8 L450.9 382.8 L451.0 383.8 L451.0 384.8 L451.0 385.8 L451.1 386.8 L451.1 387.8 L451.1 388.8 L451.1 389.8 L451.1 390.8 L451.2 391.8 L451.2 392.8 L451.2 393.8 L451.2 394.8 L451.2 395.8 L451.2 396.8 L451.2 397.8 L451.2 398.8 L451.2 399.8 L451.3 400.8 L451.3 401.8 L451.3 402.8 L451.3 403.8 L451.3 404.8 L451.3 405.8 L451.3 406.8 L451.3 407.8 L451.3 408.8 L451.3 409.8 L451.3 410.8 L451.3 411.8 L451.3 412.8 L451.3 413.8 L451.3 414.8 L451.3 415.8 L451.3 416.8 L451.3 417.8 L451.3 418.8 L451.3 419.8 L451.3 420.8 L451.3 421.8 L451.3 422.8 L451.3 423.8 L451.3 424.8 L451.3 425.8 L451.4 426.8 L451.4 427.8 L451.4 428.8 L451.4 429.8 L451.4 430.8 L451.4 431.8 L451.4 432.8 L451.4 433.8 L451.4 434.8 L451.4 435.8 L451.4 436.8 L451.4 437.8 L451.4 438.8 L451.4 439.8 L451.3 440.8 L451.3 441.8 L451.3 442.8 L451.3 443.8 L451.3 444.8 L451.3 445.8 L451.3 446.8 L451.3 447.8 L451.3 448.8 L451.3 449.8 L451.3 450.8 L451.3 451.8 L451.3 452.8 L451.3 453.8 L451.3 454.8 L451.3 455.8 L451.3 456.8 L451.3 457.8 L451.3 458.8 L451.3 459.8 L451.3 460.8 L451.3 461.8 L451.3 462.8 L451.3 463.8 L451.3 464.8 L451.3 465.8 L451.3 466.8 L451.3 467.8 L451.3 468.8 L451.4 469.8 L451.4 470.8 L451.4 471.8 L451.4 472.5 L451.6 472.5 L451.6 471.8 L451.6 470.8 L451.6 469.8 L451.7 468.8 L451.7 467.8 L451.7 466.8 L451.7 465.8 L451.7 464.8 L451.7 463.8 L451.7 462.8 L451.7 461.8 L451.7 460.8 L451.7 459.8 L451.7 458.8 L451.7 457.8 L451.7 456.8 L451.7 455.8 L451.7 454.8 L451.7 453.8 L451.7 452.8 L451.7 451.8 L451.7 450.8 L451.7 449.8 L451.7 448.8 L451.7 447.8 L451.7 446.8 L451.7 445.8 L451.7 444.8 L451.7 443.8 L451.7 442.8 L451.7 441.8 L451.7 440.8 L451.6 439.8 L451.6 438.8 L451.6 437.8 L451.6 436.8 L451.6 435.8 L451.6 434.8 L451.6 433.8 L451.6 432.8 L451.6 431.8 L451.6 430.8 L451.6 429.8 L451.6 428.8 L451.6 427.8 L451.6 426.8 L451.7 425.8 L451.7 424.8 L451.7 423.8 L451.7 422.8 L451.7 421.8 L451.7 420.8 L451.7 419.8 L451.7 418.8 L451.7 417.8 L451.7 416.8 L451.7 415.8 L451.7 414.8 L451.7 413.8 L451.7 412.8 L451.7 411.8 L451.7 410.8 L451.7 409.8 L451.7 408.8 L451.7 407.8 L451.7 406.8 L451.7 405.8 L451.7 404.8 L451.7 403.8 L451.7 402.8 L451.7 401.8 L451.7 400.8 L451.8 399.8 L451.8 398.8 L451.8 397.8 L451.8 396.8 L451.8 395.8 L451.8 394.8 L451.8 393.8 L451.8 392.8 L451.8 391.8 L451.9 390.8 L451.9 389.8 L451.9 388.8 L451.9 387.8 L451.9 386.8 L452.0 385.8 L452.0 384.8 L452.0 383.8 L452.1 382.8 L452.1 381.8 L452.1 380.8 L452.2 379.8 L452.2 378.8 L452.2 377.8 L452.3 376.8 L452.3 375.8 L452.4 374.8 L452.4 373.8 L452.5 372.8 L452.5 371.8 L452.5 370.8 L452.6 369.8 L452.6 368.8 L452.7 367.8 L452.7 366.8 L452.7 365.8 L452.8 364.8 L452.8 363.8 L452.8 362.8 L452.9 361.8 L452.9 360.8 L452.9 359.8 L452.9 358.8 L452.9 357.8 L452.9 356.8 L452.9 355.8 L452.9 354.8 L452.9 353.8 L452.9 352.8 L452.9 351.8 L452.9 350.8 L452.9 349.8 L452.8 348.8 L452.8 347.8 L452.8 346.8 L452.8 345.8 L452.7 344.8 L452.7 343.8 L452.7 342.8 L452.6 341.8 L452.6 340.8 L452.5 339.8 L452.5 338.8 L452.5 337.8 L452.4 336.8 L452.4 335.8 L452.3 334.8 L452.3 333.8 L452.3 332.8 L452.2 331.8 L452.2 330.8 L452.2 329.8 L452.1 328.8 L452.1 327.8 L452.1 326.8 L452.1 325.8 L452.0 324.8 L452.0 323.8 L452.0 322.8 L452.0 321.8 L452.0 320.8 L452.0 319.8 L451.9 318.8 L451.9 317.8 L451.9 316.8 L451.9 315.8 L451.9 314.8 L451.9 313.8 L451.9 312.8 L451.9 311.8 L451.9 310.8 L451.9 309.8 L451.9 308.8 L451.9 307.8 L451.9 306.8 L451.9 305.8 L451.9 304.8 L451.9 303.8 L451.9 302.8 L451.9 301.8 L451.9 300.8 L451.9 299.8 L451.9 298.8 L451.9 297.8 L451.9 296.8 L452.0 295.8 L452.0 294.8 L452.0 293.8 L452.0 292.8 L452.0 291.8 L452.0 290.8 L452.0 289.8 L452.1 288.8 L452.1 287.8 L452.1 286.8 L452.1 285.8 L452.2 284.8 L452.2 283.8 L452.2 282.8 L452.3 281.8 L452.3 280.8 L452.4 279.8 L452.4 278.8 L452.5 277.8 L452.5 276.8 L452.6 275.8 L452.7 274.8 L452.7 273.8 L452.8 272.8 L452.8 271.8 L452.9 270.8 L453.0 269.8 L453.0 268.8 L453.1 267.8 L453.2 266.8 L453.2 265.8 L453.3 264.8 L453.3 263.8 L453.4 262.8 L453.4 261.8 L453.5 260.8 L453.5 259.8 L453.6 258.8 L453.6 257.8 L453.6 256.8 L453.7 255.8 L453.7 254.8 L453.7 253.8 L453.8 252.8 L453.8 251.8 L453.8 250.8 L453.8 249.8 L453.8 248.8 L453.9 247.8 L453.9 246.8 L453.9 245.8 L453.9 244.8 L453.9 243.8 L454.0 242.8 L454.0 241.8 L454.0 240.8 L454.1 239.8 L454.1 238.8 L454.2 237.8 L454.2 236.8 L454.3 235.8 L454.4 234.8 L454.5 233.8 L454.6 232.8 L454.7 231.8 L454.9 230.8 L455.0 229.8 L455.1 228.8 L455.3 227.8 L455.5 226.8 L455.7 225.8 L455.9 224.8 L456.1 223.8 L456.3 222.8 L456.5 221.8 L456.7 220.8 L456.9 219.8 L457.1 218.8 L457.4 217.8 L457.6 216.8 L457.8 215.8 L458.0 214.8 L458.2 213.8 L458.4 212.8 L458.6 211.8 L458.7 210.8 L458.9 209.8 L459.0 208.8 L459.1 207.8 L459.2 206.8 L459.3 205.8 L459.4 204.8 L459.4 203.8 L459.4 202.8 L459.4 201.8 L459.4 200.8 L459.3 199.8 L459.3 198.8 L459.2 197.8 L459.0 196.8 L458.9 195.8 L458.8 194.8 L458.6 193.8 L458.4 192.8 L458.2 191.8 L458.0 190.8 L457.7 189.8 L457.5 188.8 L457.3 187.8 L457.0 186.8 L456.8 185.8 L456.5 184.8 L456.2 183.8 L456.0 182.8 L455.7 181.8 L455.5 180.8 L455.2 179.8 L455.0 178.8 L454.7 177.8 L454.5 176.8 L454.3 175.8 L454.1 174.8 L453.9 173.8 L453.7 172.8 L453.5 171.8 L453.3 170.8 L453.1 169.8 L453.0 168.8 L452.8 167.8 L452.7 166.8 L452.6 165.8 L452.5 164.8 L452.4 163.8 L452.3 162.8 L452.2 161.8 L452.1 160.8 L452.0 159.8 L452.0 158.8 L451.9 157.8 L451.9 156.8 L451.8 155.8 L451.8 154.8 L451.7 153.8 L451.7 152.8 L451.7 151.8 L451.7 150.8 L451.6 149.8 L451.6 148.8 L451.6 147.8 L451.6 146.8 L451.6 145.8 L451.6 144.8 L451.6 143.8 L451.6 142.8 L451.6 141.8 L451.6 140.8 L451.6 139.8 L451.6 138.8 L451.6 137.8 L451.6 136.8Z" fill="#a070cc" stroke="#000" stroke-width="2.0" stroke-linejoin="round"/>
<line x1="443.6" y1="202.4" x2="456.8" y2="202.4" stroke="#000" stroke-width="3.5"/>
<path d="M479.6 177.3 L479.6 178.3 L479.6 179.3 L479.6 180.3 L479.6 181.3 L479.5 182.3 L479.5 183.3 L479.4 184.3 L479.2 185.3 L479.1 186.3 L478.8 187.3 L478.6 188.3 L478.2 189.3 L477.8 190.3 L477.3 191.3 L476.7 192.3 L476.1 193.3 L475.5 194.3 L474.8 195.3 L474.2 196.3 L473.5 197.3 L472.9 198.3 L472.5 199.3 L472.1 200.3 L471.9 201.3 L471.8 202.3 L471.8 203.3 L472.0 204.3 L472.4 205.3 L472.9 206.3 L473.4 207.3 L474.1 208.3 L474.7 209.3 L475.4 210.3 L476.1 211.3 L476.7 212.3 L477.2 213.3 L477.7 214.3 L478.2 215.3 L478.5 216.3 L478.8 217.3 L479.0 218.3 L479.2 219.3 L479.4 220.3 L479.5 221.3 L479.5 222.3 L479.6 223.3 L479.6 224.3 L479.6 225.3 L479.6 226.3 L479.6 227.3 L479.6 228.3 L479.6 229.3 L479.6 230.3 L479.6 231.3 L479.6 232.3 L479.6 233.3 L479.6 234.3 L479.6 235.3 L479.5 236.3 L479.5 237.3 L479.4 238.3 L479.3 239.3 L479.2 240.3 L479.1 241.3 L478.9 242.3 L478.7 243.3 L478.5 244.3 L478.3 245.3 L478.1 246.3 L477.8 247.3 L477.6 248.3 L477.4 249.3 L477.3 250.3 L477.1 251.3 L477.0 252.3 L477.0 253.3 L477.0 254.3 L477.1 255.3 L477.2 256.3 L477.4 257.3 L477.6 258.3 L477.8 259.3 L478.0 260.3 L478.2 261.3 L478.4 262.3 L478.7 263.3 L478.8 264.3 L479.0 265.3 L479.2 266.3 L479.3 267.3 L479.4 268.3 L479.5 269.3 L479.5 270.3 L479.6 271.3 L479.6 272.3 L479.6 273.3 L479.6 274.3 L479.6 275.3 L479.6 276.3 L479.6 277.0 L479.8 277.0 L479.8 276.3 L479.8 275.3 L479.8 274.3 L479.8 273.3 L479.8 272.3 L479.8 271.3 L479.9 270.3 L479.9 269.3 L480.0 268.3 L480.1 267.3 L480.2 266.3 L480.4 265.3 L480.6 264.3 L480.7 263.3 L481.0 262.3 L481.2 261.3 L481.4 260.3 L481.6 259.3 L481.8 258.3 L482.0 257.3 L482.2 256.3 L482.3 255.3 L482.4 254.3 L482.4 253.3 L482.4 252.3 L482.3 251.3 L482.1 250.3 L482.0 249.3 L481.8 248.3 L481.6 247.3 L481.3 246.3 L481.1 245.3 L480.9 244.3 L480.7 243.3 L480.5 242.3 L480.3 241.3 L480.2 240.3 L480.1 239.3 L480.0 238.3 L479.9 237.3 L479.9 236.3 L479.8 235.3 L479.8 234.3 L479.8 233.3 L479.8 232.3 L479.8 231.3 L479.8 230.3 L479.8 229.3 L479.8 228.3 L479.8 227.3 L479.8 226.3 L479.8 225.3 L479.8 224.3 L479.8 223.3 L479.9 222.3 L479.9 221.3 L480.0 220.3 L480.2 219.3 L480.4 218.3 L480.6 217.3 L480.9 216.3 L481.2 215.3 L481.7 214.3 L482.2 213.3 L482.7 212.3 L483.3 211.3 L484.0 210.3 L484.7 209.3 L485.3 208.3 L486.0 207.3 L486.5 206.3 L487.0 205.3 L487.4 204.3 L487.6 203.3 L487.6 202.3 L487.5 201.3 L487.3 200.3 L486.9 199.3 L486.5 198.3 L485.9 197.3 L485.2 196.3 L484.6 195.3 L483.9 194.3 L483.3 193.3 L482.7 192.3 L482.1 191.3 L481.6 190.3 L481.2 189.3 L480.8 188.3 L480.6 187.3 L480.3 186.3 L480.2 185.3 L480.0 184.3 L479.9 183.3 L479.9 182.3 L479.8 181.3 L479.8 180.3 L479.8 179.3 L479.8 178.3 L479.8 177.3Z" fill="#d585bd" stroke="#000" stroke-width="2.0" stroke-linejoin="round"/>
<line x1="479.0" y1="253.4" x2="480.4" y2="253.4" stroke="#000" stroke-width="1.7" stroke-dasharray="1.7 1.6"/>
<line x1="471.8" y1="202.4" x2="485.0" y2="202.4" stroke="#000" stroke-width="3.5"/>
<path d="M526.7 137.3 L526.7 138.3 L526.7 139.3 L526.7 140.3 L526.7 141.3 L526.7 142.3 L526.7 143.3 L526.7 144.3 L526.7 145.3 L526.7 146.3 L526.6 147.3 L526.6 148.3 L526.6 149.3 L526.6 150.3 L526.6 151.3 L526.6 152.3 L526.6 153.3 L526.6 154.3 L526.5 155.3 L526.5 156.3 L526.5 157.3 L526.5 158.3 L526.5 159.3 L526.4 160.3 L526.4 161.3 L526.4 162.3 L526.3 163.3 L526.3 164.3 L526.2 165.3 L526.2 166.3 L526.1 167.3 L526.1 168.3 L526.0 169.3 L526.0 170.3 L525.9 171.3 L525.8 172.3 L525.8 173.3 L525.7 174.3 L525.6 175.3 L525.5 176.3 L525.4 177.3 L525.4 178.3 L525.3 179.3 L525.2 180.3 L525.1 181.3 L525.0 182.3 L524.9 183.3 L524.8 184.3 L524.7 185.3 L524.6 186.3 L524.5 187.3 L524.5 188.3 L524.4 189.3 L524.3 190.3 L524.2 191.3 L524.1 192.3 L524.1 193.3 L524.0 194.3 L523.9 195.3 L523.9 196.3 L523.8 197.3 L523.8 198.3 L523.7 199.3 L523.7 200.3 L523.7 201.3 L523.6 202.3 L523.6 203.3 L523.6 204.3 L523.6 205.3 L523.6 206.3 L523.6 207.3 L523.5 208.3 L523.5 209.3 L523.5 210.3 L523.5 211.3 L523.5 212.3 L523.5 213.3 L523.5 214.3 L523.5 215.3 L523.5 216.3 L523.5 217.3 L523.5 218.3 L523.4 219.3 L523.4 220.3 L523.4 221.3 L523.3 222.3 L523.3 223.3 L523.2 224.3 L523.1 225.3 L523.1 226.3 L523.0 227.3 L522.9 228.3 L522.8 229.3 L522.7 230.3 L522.6 231.3 L522.5 232.3 L522.3 233.3 L522.2 234.3 L522.1 235.3 L522.0 236.3 L521.8 237.3 L521.7 238.3 L521.6 239.3 L521.4 240.3 L521.3 241.3 L521.2 242.3 L521.1 243.3 L520.9 244.3 L520.8 245.3 L520.8 246.3 L520.7 247.3 L520.6 248.3 L520.5 249.3 L520.5 250.3 L520.4 251.3 L520.4 252.3 L520.4 253.3 L520.4 254.3 L520.4 255.3 L520.4 256.3 L520.4 257.3 L520.5 258.3 L520.5 259.3 L520.6 260.3 L520.7 261.3 L520.7 262.3 L520.8 263.3 L520.9 264.3 L521.0 265.3 L521.1 266.3 L521.2 267.3 L521.3 268.3 L521.4 269.3 L521.5 270.3 L521.6 271.3 L521.7 272.3 L521.7 273.3 L521.8 274.3 L521.9 275.3 L521.9 276.3 L522.0 277.3 L522.0 278.3 L522.1 279.3 L522.1 280.3 L522.1 281.3 L522.1 282.3 L522.1 283.3 L522.1 284.3 L522.1 285.3 L522.0 286.3 L522.0 287.3 L522.0 288.3 L521.9 289.3 L521.9 290.3 L521.8 291.3 L521.8 292.3 L521.7 293.3 L521.6 294.3 L521.6 295.3 L521.5 296.3 L521.5 297.3 L521.4 298.3 L521.4 299.3 L521.4 300.3 L521.3 301.3 L521.3 302.3 L521.3 303.3 L521.3 304.3 L521.3 305.3 L521.3 306.3 L521.3 307.3 L521.3 308.3 L521.3 309.3 L521.3 310.3 L521.4 311.3 L521.4 312.3 L521.4 313.3 L521.4 314.3 L521.5 315.3 L521.5 316.3 L521.5 317.3 L521.6 318.3 L521.6 319.3 L521.6 320.3 L521.6 321.3 L521.6 322.3 L521.6 323.3 L521.6 324.3 L521.6 325.3 L521.5 326.3 L521.5 327.3 L521.4 328.3 L521.3 329.3 L521.3 330.3 L521.2 331.3 L521.1 332.3 L521.0 333.3 L520.8 334.3 L520.7 335.3 L520.6 336.3 L520.4 337.3 L520.3 338.3 L520.2 339.3 L520.0 340.3 L519.9 341.3 L519.7 342.3 L519.6 343.3 L519.4 344.3 L519.3 345.3 L519.2 346.3 L519.0 347.3 L518.9 348.3 L518.8 349.3 L518.7 350.3 L518.7 351.3 L518.6 352.3 L518.6 353.3 L518.6 354.3 L518.6 355.3 L518.6 356.3 L518.6 357.3 L518.6 358.3 L518.7 359.3 L518.8 360.3 L518.9 361.3 L519.0 362.3 L519.1 363.3 L519.2 364.3 L519.4 365.3 L519.5 366.3 L519.7 367.3 L519.8 368.3 L520.0 369.3 L520.2 370.3 L520.4 371.3 L520.5 372.3 L520.7 373.3 L520.9 374.3 L521.1 375.3 L521.2 376.3 L521.4 377.3 L521.6 378.3 L521.7 379.3 L521.9 380.3 L522.0 381.3 L522.1 382.3 L522.2 383.3 L522.3 384.3 L522.4 385.3 L522.5 386.3 L522.6 387.3 L522.7 388.3 L522.7 389.3 L522.8 390.3 L522.8 391.3 L522.8 392.3 L522.9 393.3 L522.9 394.3 L522.9 395.3 L522.9 396.3 L522.9 397.3 L522.9 398.3 L523.0 399.3 L523.0 400.3 L523.0 401.3 L523.0 402.3 L523.0 403.3 L523.0 404.3 L523.1 405.3 L523.1 406.3 L523.1 407.3 L523.2 408.3 L523.2 409.3 L523.3 410.3 L523.3 411.3 L523.4 412.3 L523.4 413.3 L523.5 414.3 L523.6 415.3 L523.7 416.3 L523.8 417.3 L523.9 418.3 L523.9 419.3 L524.0 420.3 L524.1 421.3 L524.3 422.3 L524.4 423.3 L524.5 424.3 L524.6 425.3 L524.7 426.3 L524.8 427.3 L524.9 428.3 L525.0 429.3 L525.1 430.3 L525.2 431.3 L525.3 432.3 L525.4 433.3 L525.5 434.3 L525.6 435.3 L525.6 436.3 L525.7 437.3 L525.8 438.3 L525.9 439.3 L525.9 440.3 L526.0 441.3 L526.1 442.3 L526.1 443.3 L526.2 444.3 L526.2 445.3 L526.3 446.3 L526.3 447.3 L526.4 448.3 L526.4 449.3 L526.4 450.3 L526.5 451.3 L526.5 452.3 L526.5 453.3 L526.5 454.3 L526.6 455.3 L526.6 456.3 L526.6 457.3 L526.6 458.3 L526.6 459.3 L526.6 460.3 L526.6 461.3 L526.6 462.3 L526.7 463.3 L526.7 464.3 L526.7 465.3 L526.7 466.3 L526.7 467.3 L526.7 468.3 L526.7 469.3 L526.7 470.3 L526.7 471.3 L526.7 472.0 L526.8 472.0 L526.8 471.3 L526.8 470.3 L526.8 469.3 L526.8 468.3 L526.8 467.3 L526.8 466.3 L526.8 465.3 L526.8 464.3 L526.8 463.3 L526.8 462.3 L526.8 461.3 L526.8 460.3 L526.8 459.3 L526.8 458.3 L526.8 457.3 L526.8 456.3 L526.8 455.3 L526.9 454.3 L526.9 453.3 L526.9 452.3 L526.9 451.3 L527.0 450.3 L527.0 449.3 L527.0 448.3 L527.1 447.3 L527.1 446.3 L527.2 445.3 L527.2 444.3 L527.3 443.3 L527.3 442.3 L527.4 441.3 L527.5 440.3 L527.5 439.3 L527.6 438.3 L527.7 437.3 L527.8 436.3 L527.8 435.3 L527.9 434.3 L528.0 433.3 L528.1 432.3 L528.2 431.3 L528.3 430.3 L528.4 429.3 L528.5 428.3 L528.6 427.3 L528.7 426.3 L528.8 425.3 L528.9 424.3 L529.0 423.3 L529.1 422.3 L529.3 421.3 L529.4 420.3 L529.5 419.3 L529.5 418.3 L529.6 417.3 L529.7 416.3 L529.8 415.3 L529.9 414.3 L530.0 413.3 L530.0 412.3 L530.1 411.3 L530.1 410.3 L530.2 409.3 L530.2 408.3 L530.3 407.3 L530.3 406.3 L530.3 405.3 L530.4 404.3 L530.4 403.3 L530.4 402.3 L530.4 401.3 L530.4 400.3 L530.4 399.3 L530.5 398.3 L530.5 397.3 L530.5 396.3 L530.5 395.3 L530.5 394.3 L530.5 393.3 L530.6 392.3 L530.6 391.3 L530.6 390.3 L530.7 389.3 L530.7 388.3 L530.8 387.3 L530.9 386.3 L531.0 385.3 L531.1 384.3 L531.2 383.3 L531.3 382.3 L531.4 381.3 L531.5 380.3 L531.7 379.3 L531.8 378.3 L532.0 377.3 L532.2 376.3 L532.3 375.3 L532.5 374.3 L532.7 373.3 L532.9 372.3 L533.0 371.3 L533.2 370.3 L533.4 369.3 L533.6 368.3 L533.7 367.3 L533.9 366.3 L534.0 365.3 L534.2 364.3 L534.3 363.3 L534.4 362.3 L534.5 361.3 L534.6 360.3 L534.7 359.3 L534.8 358.3 L534.8 357.3 L534.8 356.3 L534.8 355.3 L534.8 354.3 L534.8 353.3 L534.8 352.3 L534.7 351.3 L534.7 350.3 L534.6 349.3 L534.5 348.3 L534.4 347.3 L534.2 346.3 L534.1 345.3 L534.0 344.3 L533.8 343.3 L533.7 342.3 L533.5 341.3 L533.4 340.3 L533.2 339.3 L533.1 338.3 L533.0 337.3 L532.8 336.3 L532.7 335.3 L532.6 334.3 L532.4 333.3 L532.3 332.3 L532.2 331.3 L532.1 330.3 L532.1 329.3 L532.0 328.3 L531.9 327.3 L531.9 326.3 L531.8 325.3 L531.8 324.3 L531.8 323.3 L531.8 322.3 L531.8 321.3 L531.8 320.3 L531.8 319.3 L531.8 318.3 L531.9 317.3 L531.9 316.3 L531.9 315.3 L532.0 314.3 L532.0 313.3 L532.0 312.3 L532.0 311.3 L532.1 310.3 L532.1 309.3 L532.1 308.3 L532.1 307.3 L532.1 306.3 L532.1 305.3 L532.1 304.3 L532.1 303.3 L532.1 302.3 L532.1 301.3 L532.0 300.3 L532.0 299.3 L532.0 298.3 L531.9 297.3 L531.9 296.3 L531.8 295.3 L531.8 294.3 L531.7 293.3 L531.6 292.3 L531.6 291.3 L531.5 290.3 L531.5 289.3 L531.4 288.3 L531.4 287.3 L531.4 286.3 L531.3 285.3 L531.3 284.3 L531.3 283.3 L531.3 282.3 L531.3 281.3 L531.3 280.3 L531.3 279.3 L531.4 278.3 L531.4 277.3 L531.5 276.3 L531.5 275.3 L531.6 274.3 L531.7 273.3 L531.7 272.3 L531.8 271.3 L531.9 270.3 L532.0 269.3 L532.1 268.3 L532.2 267.3 L532.3 266.3 L532.4 265.3 L532.5 264.3 L532.6 263.3 L532.7 262.3 L532.7 261.3 L532.8 260.3 L532.9 259.3 L532.9 258.3 L533.0 257.3 L533.0 256.3 L533.0 255.3 L533.0 254.3 L533.0 253.3 L533.0 252.3 L533.0 251.3 L532.9 250.3 L532.9 249.3 L532.8 248.3 L532.7 247.3 L532.6 246.3 L532.6 245.3 L532.5 244.3 L532.3 243.3 L532.2 242.3 L532.1 241.3 L532.0 240.3 L531.8 239.3 L531.7 238.3 L531.6 237.3 L531.4 236.3 L531.3 235.3 L531.2 234.3 L531.1 233.3 L530.9 232.3 L530.8 231.3 L530.7 230.3 L530.6 229.3 L530.5 228.3 L530.4 227.3 L530.3 226.3 L530.3 225.3 L530.2 224.3 L530.1 223.3 L530.1 222.3 L530.0 221.3 L530.0 220.3 L530.0 219.3 L529.9 218.3 L529.9 217.3 L529.9 216.3 L529.9 215.3 L529.9 214.3 L529.9 213.3 L529.9 212.3 L529.9 211.3 L529.9 210.3 L529.9 209.3 L529.9 208.3 L529.8 207.3 L529.8 206.3 L529.8 205.3 L529.8 204.3 L529.8 203.3 L529.8 202.3 L529.7 201.3 L529.7 200.3 L529.7 199.3 L529.6 198.3 L529.6 197.3 L529.5 196.3 L529.5 195.3 L529.4 194.3 L529.3 193.3 L529.3 192.3 L529.2 191.3 L529.1 190.3 L529.0 189.3 L528.9 188.3 L528.9 187.3 L528.8 186.3 L528.7 185.3 L528.6 184.3 L528.5 183.3 L528.4 182.3 L528.3 181.3 L528.2 180.3 L528.1 179.3 L528.0 178.3 L528.0 177.3 L527.9 176.3 L527.8 175.3 L527.7 174.3 L527.6 173.3 L527.6 172.3 L527.5 171.3 L527.4 170.3 L527.4 169.3 L527.3 168.3 L527.3 167.3 L527.2 166.3 L527.2 165.3 L527.1 164.3 L527.1 163.3 L527.0 162.3 L527.0 161.3 L527.0 160.3 L526.9 159.3 L526.9 158.3 L526.9 157.3 L526.9 156.3 L526.9 155.3 L526.8 154.3 L526.8 153.3 L526.8 152.3 L526.8 151.3 L526.8 150.3 L526.8 149.3 L526.8 148.3 L526.8 147.3 L526.8 146.3 L526.8 145.3 L526.8 144.3 L526.8 143.3 L526.8 142.3 L526.8 141.3 L526.8 140.3 L526.8 139.3 L526.8 138.3 L526.8 137.3Z" fill="#6d6db9" stroke="#000" stroke-width="2.0" stroke-linejoin="round"/>
<line x1="522.8" y1="253.4" x2="530.6" y2="253.4" stroke="#000" stroke-width="1.7" stroke-dasharray="1.7 1.6"/>
<line x1="521.0" y1="355.6" x2="532.4" y2="355.6" stroke="#000" stroke-width="1.7" stroke-dasharray="1.7 1.6"/>
<line x1="521.3" y1="304.5" x2="532.1" y2="304.5" stroke="#000" stroke-width="3.5"/>
<path d="M555.2 126.0 L555.2 127.0 L555.2 128.0 L555.2 129.0 L555.2 130.0 L555.2 131.0 L555.2 132.0 L555.2 133.0 L555.2 134.0 L555.2 135.0 L555.2 136.0 L555.2 137.0 L555.1 138.0 L555.1 139.0 L555.1 140.0 L555.1 141.0 L555.1 142.0 L555.1 143.0 L555.1 144.0 L555.1 145.0 L555.0 146.0 L555.0 147.0 L555.0 148.0 L555.0 149.0 L554.9 150.0 L554.9 151.0 L554.9 152.0 L554.8 153.0 L554.8 154.0 L554.7 155.0 L554.7 156.0 L554.6 157.0 L554.5 158.0 L554.5 159.0 L554.4 160.0 L554.3 161.0 L554.2 162.0 L554.1 163.0 L554.0 164.0 L553.9 165.0 L553.8 166.0 L553.7 167.0 L553.6 168.0 L553.5 169.0 L553.3 170.0 L553.2 171.0 L553.0 172.0 L552.9 173.0 L552.7 174.0 L552.6 175.0 L552.4 176.0 L552.2 177.0 L552.1 178.0 L551.9 179.0 L551.7 180.0 L551.5 181.0 L551.3 182.0 L551.2 183.0 L551.0 184.0 L550.8 185.0 L550.6 186.0 L550.5 187.0 L550.3 188.0 L550.1 189.0 L550.0 190.0 L549.8 191.0 L549.7 192.0 L549.5 193.0 L549.4 194.0 L549.3 195.0 L549.2 196.0 L549.1 197.0 L549.0 198.0 L549.0 199.0 L548.9 200.0 L548.9 201.0 L548.8 202.0 L548.8 203.0 L548.8 204.0 L548.8 205.0 L548.8 206.0 L548.8 207.0 L548.8 208.0 L548.9 209.0 L548.9 210.0 L549.0 211.0 L549.1 212.0 L549.1 213.0 L549.2 214.0 L549.3 215.0 L549.4 216.0 L549.4 217.0 L549.5 218.0 L549.6 219.0 L549.7 220.0 L549.8 221.0 L549.9 222.0 L549.9 223.0 L550.0 224.0 L550.1 225.0 L550.1 226.0 L550.2 227.0 L550.3 228.0 L550.3 229.0 L550.4 230.0 L550.4 231.0 L550.4 232.0 L550.5 233.0 L550.5 234.0 L550.5 235.0 L550.5 236.0 L550.5 237.0 L550.5 238.0 L550.5 239.0 L550.5 240.0 L550.5 241.0 L550.5 242.0 L550.5 243.0 L550.5 244.0 L550.5 245.0 L550.5 246.0 L550.4 247.0 L550.4 248.0 L550.4 249.0 L550.4 250.0 L550.4 251.0 L550.4 252.0 L550.4 253.0 L550.4 254.0 L550.4 255.0 L550.5 256.0 L550.5 257.0 L550.5 258.0 L550.5 259.0 L550.5 260.0 L550.6 261.0 L550.6 262.0 L550.6 263.0 L550.7 264.0 L550.7 265.0 L550.7 266.0 L550.8 267.0 L550.8 268.0 L550.8 269.0 L550.8 270.0 L550.9 271.0 L550.9 272.0 L550.9 273.0 L550.9 274.0 L550.9 275.0 L550.9 276.0 L550.9 277.0 L550.9 278.0 L550.9 279.0 L550.9 280.0 L550.8 281.0 L550.8 282.0 L550.8 283.0 L550.7 284.0 L550.7 285.0 L550.6 286.0 L550.6 287.0 L550.5 288.0 L550.5 289.0 L550.4 290.0 L550.3 291.0 L550.3 292.0 L550.2 293.0 L550.2 294.0 L550.1 295.0 L550.1 296.0 L550.0 297.0 L550.0 298.0 L549.9 299.0 L549.9 300.0 L549.8 301.0 L549.8 302.0 L549.8 303.0 L549.8 304.0 L549.7 305.0 L549.7 306.0 L549.7 307.0 L549.7 308.0 L549.7 309.0 L549.7 310.0 L549.7 311.0 L549.7 312.0 L549.7 313.0 L549.7 314.0 L549.8 315.0 L549.8 316.0 L549.8 317.0 L549.8 318.0 L549.8 319.0 L549.8 320.0 L549.8 321.0 L549.8 322.0 L549.7 323.0 L549.7 324.0 L549.7 325.0 L549.7 326.0 L549.6 327.0 L549.6 328.0 L549.5 329.0 L549.5 330.0 L549.4 331.0 L549.3 332.0 L549.2 333.0 L549.2 334.0 L549.1 335.0 L549.0 336.0 L548.9 337.0 L548.8 338.0 L548.7 339.0 L548.6 340.0 L548.5 341.0 L548.4 342.0 L548.3 343.0 L548.2 344.0 L548.1 345.0 L548.0 346.0 L547.9 347.0 L547.8 348.0 L547.7 349.0 L547.7 350.0 L547.6 351.0 L547.6 352.0 L547.6 353.0 L547.6 354.0 L547.5 355.0 L547.5 356.0 L547.6 357.0 L547.6 358.0 L547.6 359.0 L547.7 360.0 L547.7 361.0 L547.8 362.0 L547.9 363.0 L548.0 364.0 L548.1 365.0 L548.2 366.0 L548.3 367.0 L548.4 368.0 L548.5 369.0 L548.6 370.0 L548.7 371.0 L548.8 372.0 L549.0 373.0 L549.1 374.0 L549.2 375.0 L549.3 376.0 L549.4 377.0 L549.5 378.0 L549.6 379.0 L549.7 380.0 L549.8 381.0 L549.9 382.0 L550.0 383.0 L550.1 384.0 L550.1 385.0 L550.2 386.0 L550.3 387.0 L550.3 388.0 L550.3 389.0 L550.4 390.0 L550.4 391.0 L550.4 392.0 L550.5 393.0 L550.5 394.0 L550.5 395.0 L550.5 396.0 L550.5 397.0 L550.6 398.0 L550.6 399.0 L550.6 400.0 L550.6 401.0 L550.6 402.0 L550.7 403.0 L550.7 404.0 L550.7 405.0 L550.8 406.0 L550.8 407.0 L550.8 408.0 L550.9 409.0 L551.0 410.0 L551.0 411.0 L551.1 412.0 L551.2 413.0 L551.2 414.0 L551.3 415.0 L551.4 416.0 L551.5 417.0 L551.6 418.0 L551.7 419.0 L551.8 420.0 L551.9 421.0 L552.1 422.0 L552.2 423.0 L552.3 424.0 L552.4 425.0 L552.5 426.0 L552.6 427.0 L552.8 428.0 L552.9 429.0 L553.0 430.0 L553.1 431.0 L553.2 432.0 L553.4 433.0 L553.5 434.0 L553.6 435.0 L553.7 436.0 L553.8 437.0 L553.9 438.0 L554.0 439.0 L554.1 440.0 L554.1 441.0 L554.2 442.0 L554.3 443.0 L554.4 444.0 L554.4 445.0 L554.5 446.0 L554.6 447.0 L554.6 448.0 L554.7 449.0 L554.7 450.0 L554.8 451.0 L554.8 452.0 L554.8 453.0 L554.9 454.0 L554.9 455.0 L554.9 456.0 L555.0 457.0 L555.0 458.0 L555.0 459.0 L555.0 460.0 L555.0 461.0 L555.0 462.0 L555.0 463.0 L555.1 464.0 L555.1 465.0 L555.1 466.0 L555.1 467.0 L555.1 468.0 L555.1 469.0 L555.1 470.0 L555.1 471.0 L555.1 472.0 L555.1 473.0 L555.1 474.0 L555.1 475.0 L555.0 476.0 L555.0 477.0 L555.0 478.0 L555.0 479.0 L555.0 480.0 L555.0 481.0 L555.0 482.0 L555.0 483.0 L555.0 484.0 L554.9 485.0 L554.9 486.0 L554.9 487.0 L554.9 488.0 L554.9 489.0 L554.9 490.0 L554.9 491.0 L554.9 492.0 L554.8 493.0 L554.8 494.0 L554.8 495.0 L554.8 496.0 L554.8 497.0 L554.8 498.0 L554.8 499.0 L554.8 500.0 L554.8 501.0 L554.7 502.0 L554.7 503.0 L554.7 504.0 L554.7 505.0 L554.7 506.0 L554.7 507.0 L555.7 507.0 L555.7 506.0 L555.7 505.0 L555.7 504.0 L555.7 503.0 L555.7 502.0 L555.6 501.0 L555.6 500.0 L555.6 499.0 L555.6 498.0 L555.6 497.0 L555.6 496.0 L555.6 495.0 L555.6 494.0 L555.6 493.0 L555.5 492.0 L555.5 491.0 L555.5 490.0 L555.5 489.0 L555.5 488.0 L555.5 487.0 L555.5 486.0 L555.5 485.0 L555.4 484.0 L555.4 483.0 L555.4 482.0 L555.4 481.0 L555.4 480.0 L555.4 479.0 L555.4 478.0 L555.4 477.0 L555.4 476.0 L555.3 475.0 L555.3 474.0 L555.3 473.0 L555.3 472.0 L555.3 471.0 L555.3 470.0 L555.3 469.0 L555.3 468.0 L555.3 467.0 L555.3 466.0 L555.3 465.0 L555.3 464.0 L555.4 463.0 L555.4 462.0 L555.4 461.0 L555.4 460.0 L555.4 459.0 L555.4 458.0 L555.4 457.0 L555.5 456.0 L555.5 455.0 L555.5 454.0 L555.6 453.0 L555.6 452.0 L555.6 451.0 L555.7 450.0 L555.7 449.0 L555.8 448.0 L555.8 447.0 L555.9 446.0 L556.0 445.0 L556.0 444.0 L556.1 443.0 L556.2 442.0 L556.3 441.0 L556.3 440.0 L556.4 439.0 L556.5 438.0 L556.6 437.0 L556.7 436.0 L556.8 435.0 L556.9 434.0 L557.0 433.0 L557.2 432.0 L557.3 431.0 L557.4 430.0 L557.5 429.0 L557.6 428.0 L557.8 427.0 L557.9 426.0 L558.0 425.0 L558.1 424.0 L558.2 423.0 L558.3 422.0 L558.5 421.0 L558.6 420.0 L558.7 419.0 L558.8 418.0 L558.9 417.0 L559.0 416.0 L559.1 415.0 L559.2 414.0 L559.2 413.0 L559.3 412.0 L559.4 411.0 L559.4 410.0 L559.5 409.0 L559.6 408.0 L559.6 407.0 L559.6 406.0 L559.7 405.0 L559.7 404.0 L559.7 403.0 L559.8 402.0 L559.8 401.0 L559.8 400.0 L559.8 399.0 L559.8 398.0 L559.9 397.0 L559.9 396.0 L559.9 395.0 L559.9 394.0 L559.9 393.0 L560.0 392.0 L560.0 391.0 L560.0 390.0 L560.1 389.0 L560.1 388.0 L560.1 387.0 L560.2 386.0 L560.3 385.0 L560.3 384.0 L560.4 383.0 L560.5 382.0 L560.6 381.0 L560.7 380.0 L560.8 379.0 L560.9 378.0 L561.0 377.0 L561.1 376.0 L561.2 375.0 L561.3 374.0 L561.4 373.0 L561.6 372.0 L561.7 371.0 L561.8 370.0 L561.9 369.0 L562.0 368.0 L562.1 367.0 L562.2 366.0 L562.3 365.0 L562.4 364.0 L562.5 363.0 L562.6 362.0 L562.7 361.0 L562.7 360.0 L562.8 359.0 L562.8 358.0 L562.8 357.0 L562.9 356.0 L562.9 355.0 L562.8 354.0 L562.8 353.0 L562.8 352.0 L562.8 351.0 L562.7 350.0 L562.7 349.0 L562.6 348.0 L562.5 347.0 L562.4 346.0 L562.3 345.0 L562.2 344.0 L562.1 343.0 L562.0 342.0 L561.9 341.0 L561.8 340.0 L561.7 339.0 L561.6 338.0 L561.5 337.0 L561.4 336.0 L561.3 335.0 L561.2 334.0 L561.2 333.0 L561.1 332.0 L561.0 331.0 L560.9 330.0 L560.9 329.0 L560.8 328.0 L560.8 327.0 L560.7 326.0 L560.7 325.0 L560.7 324.0 L560.7 323.0 L560.6 322.0 L560.6 321.0 L560.6 320.0 L560.6 319.0 L560.6 318.0 L560.6 317.0 L560.6 316.0 L560.6 315.0 L560.7 314.0 L560.7 313.0 L560.7 312.0 L560.7 311.0 L560.7 310.0 L560.7 309.0 L560.7 308.0 L560.7 307.0 L560.7 306.0 L560.7 305.0 L560.6 304.0 L560.6 303.0 L560.6 302.0 L560.6 301.0 L560.5 300.0 L560.5 299.0 L560.4 298.0 L560.4 297.0 L560.3 296.0 L560.3 295.0 L560.2 294.0 L560.2 293.0 L560.1 292.0 L560.1 291.0 L560.0 290.0 L559.9 289.0 L559.9 288.0 L559.8 287.0 L559.8 286.0 L559.7 285.0 L559.7 284.0 L559.6 283.0 L559.6 282.0 L559.6 281.0 L559.5 280.0 L559.5 279.0 L559.5 278.0 L559.5 277.0 L559.5 276.0 L559.5 275.0 L559.5 274.0 L559.5 273.0 L559.5 272.0 L559.5 271.0 L559.6 270.0 L559.6 269.0 L559.6 268.0 L559.6 267.0 L559.7 266.0 L559.7 265.0 L559.7 264.0 L559.8 263.0 L559.8 262.0 L559.8 261.0 L559.9 260.0 L559.9 259.0 L559.9 258.0 L559.9 257.0 L559.9 256.0 L560.0 255.0 L560.0 254.0 L560.0 253.0 L560.0 252.0 L560.0 251.0 L560.0 250.0 L560.0 249.0 L560.0 248.0 L560.0 247.0 L559.9 246.0 L559.9 245.0 L559.9 244.0 L559.9 243.0 L559.9 242.0 L559.9 241.0 L559.9 240.0 L559.9 239.0 L559.9 238.0 L559.9 237.0 L559.9 236.0 L559.9 235.0 L559.9 234.0 L559.9 233.0 L560.0 232.0 L560.0 231.0 L560.0 230.0 L560.1 229.0 L560.1 228.0 L560.2 227.0 L560.3 226.0 L560.3 225.0 L560.4 224.0 L560.5 223.0 L560.5 222.0 L560.6 221.0 L560.7 220.0 L560.8 219.0 L560.9 218.0 L561.0 217.0 L561.0 216.0 L561.1 215.0 L561.2 214.0 L561.3 213.0 L561.3 212.0 L561.4 211.0 L561.5 210.0 L561.5 209.0 L561.6 208.0 L561.6 207.0 L561.6 206.0 L561.6 205.0 L561.6 204.0 L561.6 203.0 L561.6 202.0 L561.5 201.0 L561.5 200.0 L561.4 199.0 L561.4 198.0 L561.3 197.0 L561.2 196.0 L561.1 195.0 L561.0 194.0 L560.9 193.0 L560.7 192.0 L560.6 191.0 L560.4 190.0 L560.3 189.0 L560.1 188.0 L559.9 187.0 L559.8 186.0 L559.6 185.0 L559.4 184.0 L559.2 183.0 L559.1 182.0 L558.9 181.0 L558.7 180.0 L558.5 179.0 L558.3 178.0 L558.2 177.0 L558.0 176.0 L557.8 175.0 L557.7 174.0 L557.5 173.0 L557.4 172.0 L557.2 171.0 L557.1 170.0 L556.9 169.0 L556.8 168.0 L556.7 167.0 L556.6 166.0 L556.5 165.0 L556.4 164.0 L556.3 163.0 L556.2 162.0 L556.1 161.0 L556.0 160.0 L555.9 159.0 L555.9 158.0 L555.8 157.0 L555.7 156.0 L555.7 155.0 L555.6 154.0 L555.6 153.0 L555.5 152.0 L555.5 151.0 L555.5 150.0 L555.4 149.0 L555.4 148.0 L555.4 147.0 L555.4 146.0 L555.3 145.0 L555.3 144.0 L555.3 143.0 L555.3 142.0 L555.3 141.0 L555.3 140.0 L555.3 139.0 L555.3 138.0 L555.2 137.0 L555.2 136.0 L555.2 135.0 L555.2 134.0 L555.2 133.0 L555.2 132.0 L555.2 131.0 L555.2 130.0 L555.2 129.0 L555.2 128.0 L555.2 127.0 L555.2 126.0Z" fill="#a070cc" stroke="#000" stroke-width="2.0" stroke-linejoin="round"/>
<line x1="552.8" y1="253.4" x2="557.6" y2="253.4" stroke="#000" stroke-width="1.7" stroke-dasharray="1.7 1.6"/>
<line x1="549.9" y1="355.6" x2="560.5" y2="355.6" stroke="#000" stroke-width="1.7" stroke-dasharray="1.7 1.6"/>
<line x1="549.8" y1="304.5" x2="560.6" y2="304.5" stroke="#000" stroke-width="3.5"/>
<path d="M584.0 163.5 L584.0 164.5 L584.0 165.5 L584.0 166.5 L584.0 167.5 L584.0 168.5 L584.0 169.5 L584.0 170.5 L584.0 171.5 L583.9 172.5 L583.9 173.5 L583.9 174.5 L583.9 175.5 L583.8 176.5 L583.8 177.5 L583.7 178.5 L583.7 179.5 L583.6 180.5 L583.5 181.5 L583.4 182.5 L583.2 183.5 L583.1 184.5 L582.9 185.5 L582.7 186.5 L582.5 187.5 L582.3 188.5 L582.1 189.5 L581.8 190.5 L581.6 191.5 L581.3 192.5 L581.1 193.5 L580.9 194.5 L580.6 195.5 L580.4 196.5 L580.2 197.5 L580.1 198.5 L579.9 199.5 L579.8 200.5 L579.8 201.5 L579.8 202.5 L579.8 203.5 L579.9 204.5 L580.0 205.5 L580.1 206.5 L580.3 207.5 L580.5 208.5 L580.7 209.5 L580.9 210.5 L581.2 211.5 L581.4 212.5 L581.7 213.5 L581.9 214.5 L582.1 215.5 L582.4 216.5 L582.6 217.5 L582.8 218.5 L582.9 219.5 L583.1 220.5 L583.2 221.5 L583.3 222.5 L583.4 223.5 L583.4 224.5 L583.5 225.5 L583.5 226.5 L583.5 227.5 L583.4 228.5 L583.3 229.5 L583.2 230.5 L583.1 231.5 L582.9 232.5 L582.7 233.5 L582.5 234.5 L582.2 235.5 L581.9 236.5 L581.5 237.5 L581.2 238.5 L580.7 239.5 L580.3 240.5 L579.8 241.5 L579.3 242.5 L578.9 243.5 L578.4 244.5 L577.9 245.5 L577.4 246.5 L577.0 247.5 L576.7 248.5 L576.3 249.5 L576.1 250.5 L575.9 251.5 L575.8 252.5 L575.7 253.5 L575.8 254.5 L575.9 255.5 L576.1 256.5 L576.4 257.5 L576.7 258.5 L577.1 259.5 L577.5 260.5 L577.9 261.5 L578.4 262.5 L578.9 263.5 L579.4 264.5 L579.9 265.5 L580.3 266.5 L580.8 267.5 L581.2 268.5 L581.6 269.5 L581.9 270.5 L582.3 271.5 L582.5 272.5 L582.8 273.5 L583.0 274.5 L583.2 275.5 L583.3 276.5 L583.4 277.5 L583.5 278.5 L583.6 279.5 L583.6 280.5 L583.7 281.5 L583.7 282.5 L583.7 283.5 L583.6 284.5 L583.6 285.5 L583.6 286.5 L583.5 287.5 L583.4 288.5 L583.3 289.5 L583.3 290.5 L583.2 291.5 L583.1 292.5 L582.9 293.5 L582.8 294.5 L582.7 295.5 L582.6 296.5 L582.5 297.5 L582.4 298.5 L582.3 299.5 L582.3 300.5 L582.2 301.5 L582.2 302.5 L582.1 303.5 L582.1 304.5 L582.1 305.5 L582.1 306.5 L582.2 307.5 L582.3 308.5 L582.3 309.5 L582.4 310.5 L582.5 311.5 L582.6 312.5 L582.7 313.5 L582.8 314.5 L582.9 315.5 L583.0 316.5 L583.2 317.5 L583.3 318.5 L583.4 319.5 L583.4 320.5 L583.5 321.5 L583.6 322.5 L583.7 323.5 L583.7 324.5 L583.8 325.5 L583.8 326.5 L583.8 327.5 L583.9 328.5 L583.9 329.5 L583.9 330.5 L583.9 331.5 L583.9 332.5 L583.9 333.5 L583.9 334.5 L583.9 335.5 L583.8 336.5 L583.8 337.5 L583.8 338.5 L583.8 339.5 L583.7 340.5 L583.7 341.5 L583.6 342.5 L583.6 343.5 L583.6 344.5 L583.5 345.5 L583.5 346.5 L583.4 347.5 L583.4 348.5 L583.3 349.5 L583.3 350.5 L583.3 351.5 L583.2 352.5 L583.2 353.5 L583.2 354.5 L583.2 355.5 L583.2 356.5 L583.2 357.5 L583.2 358.5 L583.3 359.5 L583.3 360.5 L583.3 361.5 L583.4 362.5 L583.4 363.5 L583.5 364.5 L583.5 365.5 L583.5 366.5 L583.6 367.5 L583.6 368.5 L583.7 369.5 L583.7 370.5 L583.8 371.5 L583.8 372.5 L583.8 373.5 L583.8 374.5 L583.9 375.5 L583.9 376.5 L583.9 377.5 L583.9 378.5 L583.9 379.5 L583.9 380.5 L583.9 381.5 L583.9 382.5 L583.9 383.5 L583.9 384.5 L583.9 385.5 L583.9 386.5 L583.9 387.5 L583.8 388.5 L583.8 389.5 L583.8 390.5 L583.7 391.5 L583.7 392.5 L583.7 393.5 L583.6 394.5 L583.6 395.5 L583.5 396.5 L583.5 397.5 L583.4 398.5 L583.4 399.5 L583.3 400.5 L583.3 401.5 L583.3 402.5 L583.3 403.5 L583.2 404.5 L583.2 405.5 L583.2 406.5 L583.2 407.5 L583.2 408.5 L583.2 409.5 L583.3 410.5 L583.3 411.5 L583.3 412.5 L583.4 413.5 L583.4 414.5 L583.5 415.5 L583.5 416.5 L583.5 417.5 L583.6 418.5 L583.6 419.5 L583.7 420.5 L583.7 421.5 L583.8 422.5 L583.8 423.5 L583.8 424.5 L583.9 425.5 L583.9 426.5 L583.9 427.5 L583.9 428.5 L583.9 429.5 L583.9 430.5 L584.0 431.5 L584.0 432.5 L584.0 433.5 L584.0 434.5 L584.0 435.5 L584.0 436.5 L584.0 437.5 L584.0 438.5 L584.0 439.5 L584.0 440.5 L584.0 441.5 L584.0 442.5 L584.0 443.5 L584.0 444.5 L584.0 444.5 L584.0 443.5 L584.0 442.5 L584.0 441.5 L584.0 440.5 L584.0 439.5 L584.0 438.5 L584.0 437.5 L584.0 436.5 L584.0 435.5 L584.0 434.5 L584.0 433.5 L584.0 432.5 L584.0 431.5 L584.1 430.5 L584.1 429.5 L584.1 428.5 L584.1 427.5 L584.1 426.5 L584.1 425.5 L584.2 424.5 L584.2 423.5 L584.2 422.5 L584.3 421.5 L584.3 420.5 L584.4 419.5 L584.4 418.5 L584.5 417.5 L584.5 416.5 L584.5 415.5 L584.6 414.5 L584.6 413.5 L584.7 412.5 L584.7 411.5 L584.7 410.5 L584.8 409.5 L584.8 408.5 L584.8 407.5 L584.8 406.5 L584.8 405.5 L584.8 404.5 L584.7 403.5 L584.7 402.5 L584.7 401.5 L584.7 400.5 L584.6 399.5 L584.6 398.5 L584.5 397.5 L584.5 396.5 L584.4 395.5 L584.4 394.5 L584.3 393.5 L584.3 392.5 L584.3 391.5 L584.2 390.5 L584.2 389.5 L584.2 388.5 L584.1 387.5 L584.1 386.5 L584.1 385.5 L584.1 384.5 L584.1 383.5 L584.1 382.5 L584.1 381.5 L584.1 380.5 L584.1 379.5 L584.1 378.5 L584.1 377.5 L584.1 376.5 L584.1 375.5 L584.2 374.5 L584.2 373.5 L584.2 372.5 L584.2 371.5 L584.3 370.5 L584.3 369.5 L584.4 368.5 L584.4 367.5 L584.5 366.5 L584.5 365.5 L584.5 364.5 L584.6 363.5 L584.6 362.5 L584.7 361.5 L584.7 360.5 L584.7 359.5 L584.8 358.5 L584.8 357.5 L584.8 356.5 L584.8 355.5 L584.8 354.5 L584.8 353.5 L584.8 352.5 L584.7 351.5 L584.7 350.5 L584.7 349.5 L584.6 348.5 L584.6 347.5 L584.5 346.5 L584.5 345.5 L584.4 344.5 L584.4 343.5 L584.4 342.5 L584.3 341.5 L584.3 340.5 L584.2 339.5 L584.2 338.5 L584.2 337.5 L584.2 336.5 L584.1 335.5 L584.1 334.5 L584.1 333.5 L584.1 332.5 L584.1 331.5 L584.1 330.5 L584.1 329.5 L584.1 328.5 L584.2 327.5 L584.2 326.5 L584.2 325.5 L584.3 324.5 L584.3 323.5 L584.4 322.5 L584.5 321.5 L584.6 320.5 L584.6 319.5 L584.7 318.5 L584.8 317.5 L585.0 316.5 L585.1 315.5 L585.2 314.5 L585.3 313.5 L585.4 312.5 L585.5 311.5 L585.6 310.5 L585.7 309.5 L585.7 308.5 L585.8 307.5 L585.9 306.5 L585.9 305.5 L585.9 304.5 L585.9 303.5 L585.8 302.5 L585.8 301.5 L585.7 300.5 L585.7 299.5 L585.6 298.5 L585.5 297.5 L585.4 296.5 L585.3 295.5 L585.2 294.5 L585.1 293.5 L584.9 292.5 L584.8 291.5 L584.7 290.5 L584.7 289.5 L584.6 288.5 L584.5 287.5 L584.4 286.5 L584.4 285.5 L584.4 284.5 L584.3 283.5 L584.3 282.5 L584.3 281.5 L584.4 280.5 L584.4 279.5 L584.5 278.5 L584.6 277.5 L584.7 276.5 L584.8 275.5 L585.0 274.5 L585.2 273.5 L585.5 272.5 L585.7 271.5 L586.1 270.5 L586.4 269.5 L586.8 268.5 L587.2 267.5 L587.7 266.5 L588.1 265.5 L588.6 264.5 L589.1 263.5 L589.6 262.5 L590.1 261.5 L590.5 260.5 L590.9 259.5 L591.3 258.5 L591.6 257.5 L591.9 256.5 L592.1 255.5 L592.2 254.5 L592.3 253.5 L592.2 252.5 L592.1 251.5 L591.9 250.5 L591.7 249.5 L591.3 248.5 L591.0 247.5 L590.6 246.5 L590.1 245.5 L589.6 244.5 L589.1 243.5 L588.7 242.5 L588.2 241.5 L587.7 240.5 L587.3 239.5 L586.8 238.5 L586.5 237.5 L586.1 236.5 L585.8 235.5 L585.5 234.5 L585.3 233.5 L585.1 232.5 L584.9 231.5 L584.8 230.5 L584.7 229.5 L584.6 228.5 L584.5 227.5 L584.5 226.5 L584.5 225.5 L584.6 224.5 L584.6 223.5 L584.7 222.5 L584.8 221.5 L584.9 220.5 L585.1 219.5 L585.2 218.5 L585.4 217.5 L585.6 216.5 L585.9 215.5 L586.1 214.5 L586.3 213.5 L586.6 212.5 L586.8 211.5 L587.1 210.5 L587.3 209.5 L587.5 208.5 L587.7 207.5 L587.9 206.5 L588.0 205.5 L588.1 204.5 L588.2 203.5 L588.2 202.5 L588.2 201.5 L588.2 200.5 L588.1 199.5 L587.9 198.5 L587.8 197.5 L587.6 196.5 L587.4 195.5 L587.1 194.5 L586.9 193.5 L586.7 192.5 L586.4 191.5 L586.2 190.5 L585.9 189.5 L585.7 188.5 L585.5 187.5 L585.3 186.5 L585.1 185.5 L584.9 184.5 L584.8 183.5 L584.6 182.5 L584.5 181.5 L584.4 180.5 L584.3 179.5 L584.3 178.5 L584.2 177.5 L584.2 176.5 L584.1 175.5 L584.1 174.5 L584.1 173.5 L584.1 172.5 L584.0 171.5 L584.0 170.5 L584.0 169.5 L584.0 168.5 L584.0 167.5 L584.0 166.5 L584.0 165.5 L584.0 164.5 L584.0 163.5Z" fill="#d585bd" stroke="#000" stroke-width="2.0" stroke-linejoin="round"/>
<line x1="582.2" y1="202.4" x2="585.8" y2="202.4" stroke="#000" stroke-width="1.7" stroke-dasharray="1.7 1.6"/>
<line x1="575.7" y1="253.4" x2="588.9" y2="253.4" stroke="#000" stroke-width="3.5"/>
<path d="M630.7 166.7 L630.7 167.7 L630.7 168.7 L630.7 169.7 L630.7 170.7 L630.7 171.7 L630.7 172.7 L630.6 173.7 L630.6 174.7 L630.6 175.7 L630.5 176.7 L630.5 177.7 L630.4 178.7 L630.3 179.7 L630.2 180.7 L630.0 181.7 L629.8 182.7 L629.6 183.7 L629.4 184.7 L629.1 185.7 L628.7 186.7 L628.3 187.7 L627.9 188.7 L627.4 189.7 L626.9 190.7 L626.4 191.7 L625.9 192.7 L625.3 193.7 L624.8 194.7 L624.2 195.7 L623.7 196.7 L623.3 197.7 L622.9 198.7 L622.6 199.7 L622.4 200.7 L622.3 201.7 L622.3 202.7 L622.4 203.7 L622.6 204.7 L622.8 205.7 L623.2 206.7 L623.6 207.7 L624.1 208.7 L624.6 209.7 L625.1 210.7 L625.7 211.7 L626.2 212.7 L626.8 213.7 L627.3 214.7 L627.8 215.7 L628.2 216.7 L628.6 217.7 L629.0 218.7 L629.3 219.7 L629.5 220.7 L629.8 221.7 L630.0 222.7 L630.1 223.7 L630.3 224.7 L630.4 225.7 L630.4 226.7 L630.5 227.7 L630.5 228.7 L630.6 229.7 L630.6 230.7 L630.6 231.7 L630.6 232.7 L630.6 233.7 L630.5 234.7 L630.5 235.7 L630.5 236.7 L630.4 237.7 L630.4 238.7 L630.3 239.7 L630.3 240.7 L630.2 241.7 L630.1 242.7 L630.1 243.7 L630.0 244.7 L629.9 245.7 L629.9 246.7 L629.8 247.7 L629.7 248.7 L629.7 249.7 L629.7 250.7 L629.6 251.7 L629.6 252.7 L629.6 253.7 L629.6 254.7 L629.6 255.7 L629.7 256.7 L629.7 257.7 L629.8 258.7 L629.8 259.7 L629.9 260.7 L630.0 261.7 L630.0 262.7 L630.1 263.7 L630.2 264.7 L630.2 265.7 L630.3 266.7 L630.4 267.7 L630.4 268.7 L630.5 269.7 L630.5 270.7 L630.5 271.7 L630.6 272.7 L630.6 273.7 L630.6 274.7 L630.6 275.7 L630.7 276.7 L630.7 277.7 L630.7 278.7 L630.7 279.7 L630.7 280.7 L630.7 281.7 L630.7 282.7 L630.7 283.7 L630.7 284.7 L630.7 285.7 L630.7 286.7 L630.7 287.7 L630.7 288.7 L630.6 289.7 L630.6 290.7 L630.6 291.7 L630.6 292.7 L630.6 293.7 L630.6 294.7 L630.6 295.7 L630.6 296.7 L630.5 297.7 L630.5 298.7 L630.5 299.7 L630.5 300.7 L630.5 301.7 L630.5 302.7 L630.5 303.7 L630.5 304.7 L630.5 305.7 L630.5 306.7 L630.5 307.7 L630.5 308.7 L630.5 309.7 L630.5 310.7 L630.5 311.7 L630.6 312.7 L630.6 313.7 L630.6 314.7 L630.6 315.7 L630.6 316.7 L630.6 317.7 L630.6 318.7 L630.6 319.7 L630.7 320.7 L630.7 321.7 L630.7 322.7 L630.7 323.7 L630.7 324.7 L630.7 325.7 L630.7 326.7 L630.7 327.7 L630.7 328.7 L630.7 329.7 L630.7 330.7 L630.7 331.7 L630.7 332.7 L630.7 333.7 L630.6 334.7 L630.6 335.7 L630.6 336.7 L630.6 337.7 L630.6 338.7 L630.5 339.7 L630.5 340.7 L630.5 341.7 L630.4 342.7 L630.4 343.7 L630.3 344.7 L630.3 345.7 L630.3 346.7 L630.2 347.7 L630.2 348.7 L630.1 349.7 L630.1 350.7 L630.0 351.7 L630.0 352.7 L630.0 353.7 L630.0 354.7 L630.0 355.7 L630.0 356.7 L630.0 357.7 L630.0 358.7 L630.1 359.7 L630.1 360.7 L630.1 361.7 L630.2 362.7 L630.2 363.7 L630.3 364.7 L630.3 365.7 L630.4 366.7 L630.4 367.7 L630.4 368.7 L630.5 369.7 L630.5 370.7 L630.5 371.7 L630.6 372.7 L630.6 373.7 L630.6 374.7 L630.6 375.7 L630.6 376.7 L630.7 377.7 L630.7 378.7 L630.7 379.7 L630.7 380.7 L630.7 381.7 L630.7 382.7 L630.7 383.7 L630.7 384.7 L630.7 385.7 L630.7 386.7 L630.7 387.7 L630.7 388.7 L630.7 389.7 L630.7 390.7 L630.8 390.7 L630.8 389.7 L630.8 388.7 L630.8 387.7 L630.8 386.7 L630.8 385.7 L630.8 384.7 L630.8 383.7 L630.8 382.7 L630.8 381.7 L630.8 380.7 L630.8 379.7 L630.8 378.7 L630.8 377.7 L630.8 376.7 L630.8 375.7 L630.8 374.7 L630.8 373.7 L630.8 372.7 L630.9 371.7 L630.9 370.7 L630.9 369.7 L631.0 368.7 L631.0 367.7 L631.0 366.7 L631.1 365.7 L631.1 364.7 L631.2 363.7 L631.2 362.7 L631.3 361.7 L631.3 360.7 L631.3 359.7 L631.4 358.7 L631.4 357.7 L631.4 356.7 L631.4 355.7 L631.4 354.7 L631.4 353.7 L631.4 352.7 L631.4 351.7 L631.3 350.7 L631.3 349.7 L631.2 348.7 L631.2 347.7 L631.1 346.7 L631.1 345.7 L631.1 344.7 L631.0 343.7 L631.0 342.7 L630.9 341.7 L630.9 340.7 L630.9 339.7 L630.8 338.7 L630.8 337.7 L630.8 336.7 L630.8 335.7 L630.8 334.7 L630.8 333.7 L630.8 332.7 L630.8 331.7 L630.8 330.7 L630.8 329.7 L630.8 328.7 L630.8 327.7 L630.8 326.7 L630.8 325.7 L630.8 324.7 L630.8 323.7 L630.8 322.7 L630.8 321.7 L630.8 320.7 L630.8 319.7 L630.8 318.7 L630.8 317.7 L630.8 316.7 L630.8 315.7 L630.8 314.7 L630.8 313.7 L630.8 312.7 L630.9 311.7 L630.9 310.7 L630.9 309.7 L630.9 308.7 L630.9 307.7 L630.9 306.7 L630.9 305.7 L630.9 304.7 L630.9 303.7 L630.9 302.7 L630.9 301.7 L630.9 300.7 L630.9 299.7 L630.9 298.7 L630.9 297.7 L630.8 296.7 L630.8 295.7 L630.8 294.7 L630.8 293.7 L630.8 292.7 L630.8 291.7 L630.8 290.7 L630.8 289.7 L630.8 288.7 L630.8 287.7 L630.8 286.7 L630.8 285.7 L630.8 284.7 L630.8 283.7 L630.8 282.7 L630.8 281.7 L630.8 280.7 L630.8 279.7 L630.8 278.7 L630.8 277.7 L630.8 276.7 L630.8 275.7 L630.8 274.7 L630.8 273.7 L630.8 272.7 L630.9 271.7 L630.9 270.7 L630.9 269.7 L631.0 268.7 L631.0 267.7 L631.1 266.7 L631.2 265.7 L631.2 264.7 L631.3 263.7 L631.4 262.7 L631.4 261.7 L631.5 260.7 L631.6 259.7 L631.6 258.7 L631.7 257.7 L631.7 256.7 L631.8 255.7 L631.8 254.7 L631.8 253.7 L631.8 252.7 L631.8 251.7 L631.7 250.7 L631.7 249.7 L631.7 248.7 L631.6 247.7 L631.5 246.7 L631.5 245.7 L631.4 244.7 L631.3 243.7 L631.3 242.7 L631.2 241.7 L631.1 240.7 L631.1 239.7 L631.0 238.7 L631.0 237.7 L630.9 236.7 L630.9 235.7 L630.9 234.7 L630.8 233.7 L630.8 232.7 L630.8 231.7 L630.8 230.7 L630.8 229.7 L630.9 228.7 L630.9 227.7 L631.0 226.7 L631.0 225.7 L631.1 224.7 L631.3 223.7 L631.4 222.7 L631.6 221.7 L631.9 220.7 L632.1 219.7 L632.4 218.7 L632.8 217.7 L633.2 216.7 L633.6 215.7 L634.1 214.7 L634.6 213.7 L635.2 212.7 L635.7 211.7 L636.3 210.7 L636.8 209.7 L637.3 208.7 L637.8 207.7 L638.2 206.7 L638.6 205.7 L638.8 204.7 L639.0 203.7 L639.1 202.7 L639.1 201.7 L639.0 200.7 L638.8 199.7 L638.5 198.7 L638.1 197.7 L637.7 196.7 L637.2 195.7 L636.6 194.7 L636.1 193.7 L635.5 192.7 L635.0 191.7 L634.5 190.7 L634.0 189.7 L633.5 188.7 L633.1 187.7 L632.7 186.7 L632.3 185.7 L632.0 184.7 L631.8 183.7 L631.6 182.7 L631.4 181.7 L631.2 180.7 L631.1 179.7 L631.0 178.7 L630.9 177.7 L630.9 176.7 L630.8 175.7 L630.8 174.7 L630.8 173.7 L630.8 172.7 L630.8 171.7 L630.8 170.7 L630.8 169.7 L630.8 168.7 L630.8 167.7 L630.8 166.7Z" fill="#6d6db9" stroke="#000" stroke-width="2.0" stroke-linejoin="round"/>
<line x1="622.3" y1="202.4" x2="635.5" y2="202.4" stroke="#000" stroke-width="3.5"/>
<path d="M659.2 124.0 L659.2 125.0 L659.1 126.0 L659.1 127.0 L659.1 128.0 L659.1 129.0 L659.1 130.0 L659.1 131.0 L659.1 132.0 L659.1 133.0 L659.1 134.0 L659.1 135.0 L659.1 136.0 L659.1 137.0 L659.1 138.0 L659.1 139.0 L659.1 140.0 L659.1 141.0 L659.1 142.0 L659.0 143.0 L659.0 144.0 L659.0 145.0 L659.0 146.0 L659.0 147.0 L659.0 148.0 L659.0 149.0 L658.9 150.0 L658.9 151.0 L658.9 152.0 L658.9 153.0 L658.8 154.0 L658.8 155.0 L658.8 156.0 L658.7 157.0 L658.7 158.0 L658.6 159.0 L658.6 160.0 L658.5 161.0 L658.4 162.0 L658.3 163.0 L658.3 164.0 L658.2 165.0 L658.0 166.0 L657.9 167.0 L657.8 168.0 L657.6 169.0 L657.5 170.0 L657.3 171.0 L657.2 172.0 L657.0 173.0 L656.8 174.0 L656.5 175.0 L656.3 176.0 L656.1 177.0 L655.8 178.0 L655.6 179.0 L655.3 180.0 L655.1 181.0 L654.8 182.0 L654.5 183.0 L654.2 184.0 L654.0 185.0 L653.7 186.0 L653.4 187.0 L653.1 188.0 L652.9 189.0 L652.6 190.0 L652.3 191.0 L652.1 192.0 L651.9 193.0 L651.7 194.0 L651.5 195.0 L651.3 196.0 L651.2 197.0 L651.1 198.0 L651.0 199.0 L650.9 200.0 L650.8 201.0 L650.8 202.0 L650.8 203.0 L650.8 204.0 L650.9 205.0 L650.9 206.0 L651.0 207.0 L651.1 208.0 L651.3 209.0 L651.4 210.0 L651.6 211.0 L651.8 212.0 L652.0 213.0 L652.2 214.0 L652.4 215.0 L652.7 216.0 L652.9 217.0 L653.2 218.0 L653.4 219.0 L653.6 220.0 L653.9 221.0 L654.1 222.0 L654.3 223.0 L654.6 224.0 L654.8 225.0 L655.0 226.0 L655.2 227.0 L655.3 228.0 L655.5 229.0 L655.7 230.0 L655.8 231.0 L655.9 232.0 L656.0 233.0 L656.1 234.0 L656.2 235.0 L656.3 236.0 L656.4 237.0 L656.4 238.0 L656.4 239.0 L656.5 240.0 L656.5 241.0 L656.5 242.0 L656.5 243.0 L656.6 244.0 L656.6 245.0 L656.6 246.0 L656.6 247.0 L656.6 248.0 L656.6 249.0 L656.6 250.0 L656.6 251.0 L656.6 252.0 L656.6 253.0 L656.6 254.0 L656.6 255.0 L656.6 256.0 L656.6 257.0 L656.7 258.0 L656.7 259.0 L656.7 260.0 L656.7 261.0 L656.7 262.0 L656.8 263.0 L656.8 264.0 L656.8 265.0 L656.8 266.0 L656.8 267.0 L656.8 268.0 L656.8 269.0 L656.8 270.0 L656.8 271.0 L656.8 272.0 L656.8 273.0 L656.8 274.0 L656.7 275.0 L656.7 276.0 L656.6 277.0 L656.5 278.0 L656.5 279.0 L656.4 280.0 L656.3 281.0 L656.2 282.0 L656.1 283.0 L656.0 284.0 L655.8 285.0 L655.7 286.0 L655.6 287.0 L655.4 288.0 L655.3 289.0 L655.2 290.0 L655.0 291.0 L654.9 292.0 L654.8 293.0 L654.6 294.0 L654.5 295.0 L654.4 296.0 L654.3 297.0 L654.2 298.0 L654.1 299.0 L654.1 300.0 L654.0 301.0 L654.0 302.0 L653.9 303.0 L653.9 304.0 L653.9 305.0 L653.9 306.0 L654.0 307.0 L654.0 308.0 L654.1 309.0 L654.1 310.0 L654.2 311.0 L654.3 312.0 L654.4 313.0 L654.5 314.0 L654.7 315.0 L654.8 316.0 L654.9 317.0 L655.1 318.0 L655.2 319.0 L655.3 320.0 L655.5 321.0 L655.6 322.0 L655.7 323.0 L655.9 324.0 L656.0 325.0 L656.1 326.0 L656.3 327.0 L656.4 328.0 L656.5 329.0 L656.6 330.0 L656.6 331.0 L656.7 332.0 L656.8 333.0 L656.8 334.0 L656.9 335.0 L656.9 336.0 L657.0 337.0 L657.0 338.0 L657.0 339.0 L657.0 340.0 L657.0 341.0 L657.0 342.0 L657.0 343.0 L657.0 344.0 L657.0 345.0 L657.0 346.0 L657.0 347.0 L657.0 348.0 L657.0 349.0 L656.9 350.0 L656.9 351.0 L656.9 352.0 L656.9 353.0 L656.9 354.0 L656.9 355.0 L656.9 356.0 L656.9 357.0 L656.9 358.0 L657.0 359.0 L657.0 360.0 L657.0 361.0 L657.0 362.0 L657.0 363.0 L657.1 364.0 L657.1 365.0 L657.1 366.0 L657.1 367.0 L657.2 368.0 L657.2 369.0 L657.2 370.0 L657.2 371.0 L657.2 372.0 L657.3 373.0 L657.3 374.0 L657.3 375.0 L657.3 376.0 L657.3 377.0 L657.2 378.0 L657.2 379.0 L657.2 380.0 L657.1 381.0 L657.1 382.0 L657.0 383.0 L657.0 384.0 L656.9 385.0 L656.9 386.0 L656.8 387.0 L656.7 388.0 L656.6 389.0 L656.5 390.0 L656.4 391.0 L656.4 392.0 L656.3 393.0 L656.2 394.0 L656.1 395.0 L656.0 396.0 L655.9 397.0 L655.9 398.0 L655.8 399.0 L655.7 400.0 L655.7 401.0 L655.6 402.0 L655.6 403.0 L655.6 404.0 L655.6 405.0 L655.6 406.0 L655.6 407.0 L655.6 408.0 L655.6 409.0 L655.6 410.0 L655.7 411.0 L655.7 412.0 L655.8 413.0 L655.9 414.0 L655.9 415.0 L656.0 416.0 L656.1 417.0 L656.2 418.0 L656.3 419.0 L656.5 420.0 L656.6 421.0 L656.7 422.0 L656.8 423.0 L656.9 424.0 L657.1 425.0 L657.2 426.0 L657.3 427.0 L657.4 428.0 L657.5 429.0 L657.7 430.0 L657.8 431.0 L657.9 432.0 L658.0 433.0 L658.1 434.0 L658.2 435.0 L658.3 436.0 L658.3 437.0 L658.4 438.0 L658.5 439.0 L658.6 440.0 L658.6 441.0 L658.7 442.0 L658.7 443.0 L658.8 444.0 L658.8 445.0 L658.9 446.0 L658.9 447.0 L658.9 448.0 L659.0 449.0 L659.0 450.0 L659.0 451.0 L659.1 452.0 L659.1 453.0 L659.1 454.0 L659.1 455.0 L659.1 456.0 L659.1 457.0 L659.1 458.0 L659.1 459.0 L659.2 460.0 L659.2 461.0 L659.2 462.0 L659.2 463.0 L659.2 464.0 L659.2 465.0 L659.2 466.0 L659.2 467.0 L659.2 468.0 L659.2 469.0 L659.2 470.0 L659.2 471.0 L659.2 472.0 L659.2 473.0 L659.2 474.0 L659.2 475.0 L659.2 476.0 L659.2 477.0 L659.2 478.0 L659.2 479.0 L659.2 480.0 L659.2 481.0 L659.2 482.0 L659.2 483.0 L659.2 484.0 L659.2 485.0 L659.2 485.0 L659.2 484.0 L659.2 483.0 L659.2 482.0 L659.2 481.0 L659.2 480.0 L659.2 479.0 L659.2 478.0 L659.2 477.0 L659.2 476.0 L659.2 475.0 L659.2 474.0 L659.2 473.0 L659.2 472.0 L659.2 471.0 L659.2 470.0 L659.2 469.0 L659.2 468.0 L659.2 467.0 L659.2 466.0 L659.2 465.0 L659.2 464.0 L659.2 463.0 L659.2 462.0 L659.2 461.0 L659.2 460.0 L659.3 459.0 L659.3 458.0 L659.3 457.0 L659.3 456.0 L659.3 455.0 L659.3 454.0 L659.3 453.0 L659.3 452.0 L659.4 451.0 L659.4 450.0 L659.4 449.0 L659.5 448.0 L659.5 447.0 L659.5 446.0 L659.6 445.0 L659.6 444.0 L659.7 443.0 L659.7 442.0 L659.8 441.0 L659.8 440.0 L659.9 439.0 L660.0 438.0 L660.1 437.0 L660.1 436.0 L660.2 435.0 L660.3 434.0 L660.4 433.0 L660.5 432.0 L660.6 431.0 L660.7 430.0 L660.9 429.0 L661.0 428.0 L661.1 427.0 L661.2 426.0 L661.3 425.0 L661.5 424.0 L661.6 423.0 L661.7 422.0 L661.8 421.0 L661.9 420.0 L662.1 419.0 L662.2 418.0 L662.3 417.0 L662.4 416.0 L662.5 415.0 L662.5 414.0 L662.6 413.0 L662.7 412.0 L662.7 411.0 L662.8 410.0 L662.8 409.0 L662.8 408.0 L662.8 407.0 L662.8 406.0 L662.8 405.0 L662.8 404.0 L662.8 403.0 L662.8 402.0 L662.7 401.0 L662.7 400.0 L662.6 399.0 L662.5 398.0 L662.5 397.0 L662.4 396.0 L662.3 395.0 L662.2 394.0 L662.1 393.0 L662.0 392.0 L662.0 391.0 L661.9 390.0 L661.8 389.0 L661.7 388.0 L661.6 387.0 L661.5 386.0 L661.5 385.0 L661.4 384.0 L661.4 383.0 L661.3 382.0 L661.3 381.0 L661.2 380.0 L661.2 379.0 L661.2 378.0 L661.1 377.0 L661.1 376.0 L661.1 375.0 L661.1 374.0 L661.1 373.0 L661.2 372.0 L661.2 371.0 L661.2 370.0 L661.2 369.0 L661.2 368.0 L661.3 367.0 L661.3 366.0 L661.3 365.0 L661.3 364.0 L661.4 363.0 L661.4 362.0 L661.4 361.0 L661.4 360.0 L661.4 359.0 L661.5 358.0 L661.5 357.0 L661.5 356.0 L661.5 355.0 L661.5 354.0 L661.5 353.0 L661.5 352.0 L661.5 351.0 L661.5 350.0 L661.4 349.0 L661.4 348.0 L661.4 347.0 L661.4 346.0 L661.4 345.0 L661.4 344.0 L661.4 343.0 L661.4 342.0 L661.4 341.0 L661.4 340.0 L661.4 339.0 L661.4 338.0 L661.4 337.0 L661.5 336.0 L661.5 335.0 L661.6 334.0 L661.6 333.0 L661.7 332.0 L661.8 331.0 L661.8 330.0 L661.9 329.0 L662.0 328.0 L662.1 327.0 L662.3 326.0 L662.4 325.0 L662.5 324.0 L662.7 323.0 L662.8 322.0 L662.9 321.0 L663.1 320.0 L663.2 319.0 L663.3 318.0 L663.5 317.0 L663.6 316.0 L663.7 315.0 L663.9 314.0 L664.0 313.0 L664.1 312.0 L664.2 311.0 L664.3 310.0 L664.3 309.0 L664.4 308.0 L664.4 307.0 L664.5 306.0 L664.5 305.0 L664.5 304.0 L664.5 303.0 L664.4 302.0 L664.4 301.0 L664.3 300.0 L664.3 299.0 L664.2 298.0 L664.1 297.0 L664.0 296.0 L663.9 295.0 L663.8 294.0 L663.6 293.0 L663.5 292.0 L663.4 291.0 L663.2 290.0 L663.1 289.0 L663.0 288.0 L662.8 287.0 L662.7 286.0 L662.6 285.0 L662.4 284.0 L662.3 283.0 L662.2 282.0 L662.1 281.0 L662.0 280.0 L661.9 279.0 L661.9 278.0 L661.8 277.0 L661.7 276.0 L661.7 275.0 L661.6 274.0 L661.6 273.0 L661.6 272.0 L661.6 271.0 L661.6 270.0 L661.6 269.0 L661.6 268.0 L661.6 267.0 L661.6 266.0 L661.6 265.0 L661.6 264.0 L661.6 263.0 L661.7 262.0 L661.7 261.0 L661.7 260.0 L661.7 259.0 L661.7 258.0 L661.8 257.0 L661.8 256.0 L661.8 255.0 L661.8 254.0 L661.8 253.0 L661.8 252.0 L661.8 251.0 L661.8 250.0 L661.8 249.0 L661.8 248.0 L661.8 247.0 L661.8 246.0 L661.8 245.0 L661.8 244.0 L661.9 243.0 L661.9 242.0 L661.9 241.0 L661.9 240.0 L662.0 239.0 L662.0 238.0 L662.0 237.0 L662.1 236.0 L662.2 235.0 L662.3 234.0 L662.4 233.0 L662.5 232.0 L662.6 231.0 L662.7 230.0 L662.9 229.0 L663.1 228.0 L663.2 227.0 L663.4 226.0 L663.6 225.0 L663.8 224.0 L664.1 223.0 L664.3 222.0 L664.5 221.0 L664.8 220.0 L665.0 219.0 L665.2 218.0 L665.5 217.0 L665.7 216.0 L666.0 215.0 L666.2 214.0 L666.4 213.0 L666.6 212.0 L666.8 211.0 L667.0 210.0 L667.1 209.0 L667.3 208.0 L667.4 207.0 L667.5 206.0 L667.5 205.0 L667.6 204.0 L667.6 203.0 L667.6 202.0 L667.6 201.0 L667.5 200.0 L667.4 199.0 L667.3 198.0 L667.2 197.0 L667.1 196.0 L666.9 195.0 L666.7 194.0 L666.5 193.0 L666.3 192.0 L666.1 191.0 L665.8 190.0 L665.5 189.0 L665.3 188.0 L665.0 187.0 L664.7 186.0 L664.4 185.0 L664.2 184.0 L663.9 183.0 L663.6 182.0 L663.3 181.0 L663.1 180.0 L662.8 179.0 L662.6 178.0 L662.3 177.0 L662.1 176.0 L661.9 175.0 L661.6 174.0 L661.4 173.0 L661.2 172.0 L661.1 171.0 L660.9 170.0 L660.8 169.0 L660.6 168.0 L660.5 167.0 L660.4 166.0 L660.2 165.0 L660.1 164.0 L660.1 163.0 L660.0 162.0 L659.9 161.0 L659.8 160.0 L659.8 159.0 L659.7 158.0 L659.7 157.0 L659.6 156.0 L659.6 155.0 L659.6 154.0 L659.5 153.0 L659.5 152.0 L659.5 151.0 L659.5 150.0 L659.4 149.0 L659.4 148.0 L659.4 147.0 L659.4 146.0 L659.4 145.0 L659.4 144.0 L659.4 143.0 L659.3 142.0 L659.3 141.0 L659.3 140.0 L659.3 139.0 L659.3 138.0 L659.3 137.0 L659.3 136.0 L659.3 135.0 L659.3 134.0 L659.3 133.0 L659.3 132.0 L659.3 131.0 L659.3 130.0 L659.3 129.0 L659.3 128.0 L659.3 127.0 L659.3 126.0 L659.2 125.0 L659.2 124.0Z" fill="#a070cc" stroke="#000" stroke-width="2.0" stroke-linejoin="round"/>
<line x1="653.2" y1="202.4" x2="665.2" y2="202.4" stroke="#000" stroke-width="1.7" stroke-dasharray="1.7 1.6"/>
<line x1="653.9" y1="304.5" x2="664.5" y2="304.5" stroke="#000" stroke-width="3.5"/>
<path d="M687.5 177.9 L687.5 178.9 L687.4 179.9 L687.4 180.9 L687.4 181.9 L687.3 182.9 L687.2 183.9 L687.1 184.9 L686.9 185.9 L686.7 186.9 L686.4 187.9 L686.1 188.9 L685.7 189.9 L685.2 190.9 L684.7 191.9 L684.1 192.9 L683.5 193.9 L682.8 194.9 L682.1 195.9 L681.4 196.9 L680.8 197.9 L680.3 198.9 L679.8 199.9 L679.5 200.9 L679.4 201.9 L679.4 202.9 L679.6 203.9 L679.9 204.9 L680.3 205.9 L680.8 206.9 L681.5 207.9 L682.1 208.9 L682.8 209.9 L683.5 210.9 L684.2 211.9 L684.8 212.9 L685.3 213.9 L685.8 214.9 L686.1 215.9 L686.5 216.9 L686.7 217.9 L686.9 218.9 L687.1 219.9 L687.2 220.9 L687.3 221.9 L687.4 222.9 L687.4 223.9 L687.4 224.9 L687.5 225.9 L687.5 226.9 L687.5 227.9 L687.5 228.9 L687.5 229.9 L687.5 230.9 L687.5 231.9 L687.5 232.9 L687.5 233.9 L687.5 234.9 L687.5 235.9 L687.4 236.9 L687.4 237.9 L687.4 238.9 L687.4 239.9 L687.3 240.9 L687.3 241.9 L687.2 242.9 L687.2 243.9 L687.1 244.9 L687.0 245.9 L687.0 246.9 L686.9 247.9 L686.8 248.9 L686.8 249.9 L686.7 250.9 L686.7 251.9 L686.7 252.9 L686.7 253.9 L686.7 254.9 L686.7 255.9 L686.8 256.9 L686.8 257.9 L686.9 258.9 L687.0 259.9 L687.0 260.9 L687.1 261.9 L687.2 262.9 L687.2 263.9 L687.3 264.9 L687.3 265.9 L687.4 266.9 L687.4 267.9 L687.4 268.9 L687.4 269.9 L687.5 270.9 L687.5 271.9 L687.5 272.9 L687.5 273.9 L687.5 274.9 L687.5 275.9 L687.5 276.9 L687.5 277.9 L687.5 278.9 L687.5 279.9 L687.5 280.9 L687.5 281.9 L687.5 282.9 L687.5 283.9 L687.5 284.9 L687.5 285.9 L687.5 286.9 L687.4 287.9 L687.4 288.9 L687.4 289.9 L687.4 290.9 L687.3 291.9 L687.3 292.9 L687.2 293.9 L687.2 294.9 L687.1 295.9 L687.0 296.9 L687.0 297.9 L686.9 298.9 L686.8 299.9 L686.8 300.9 L686.7 301.9 L686.7 302.9 L686.7 303.9 L686.7 304.9 L686.7 305.9 L686.7 306.9 L686.8 307.9 L686.8 308.9 L686.9 309.9 L687.0 310.9 L687.0 311.9 L687.1 312.9 L687.2 313.9 L687.2 314.9 L687.3 315.9 L687.3 316.9 L687.4 317.9 L687.4 318.9 L687.4 319.9 L687.4 320.9 L687.5 321.9 L687.5 322.9 L687.5 323.9 L687.5 324.9 L687.5 325.9 L687.5 326.9 L687.5 327.9 L687.5 328.0 L687.5 328.0 L687.5 327.9 L687.5 326.9 L687.5 325.9 L687.5 324.9 L687.5 323.9 L687.5 322.9 L687.5 321.9 L687.6 320.9 L687.6 319.9 L687.6 318.9 L687.6 317.9 L687.7 316.9 L687.7 315.9 L687.8 314.9 L687.8 313.9 L687.9 312.9 L688.0 311.9 L688.0 310.9 L688.1 309.9 L688.2 308.9 L688.2 307.9 L688.3 306.9 L688.3 305.9 L688.3 304.9 L688.3 303.9 L688.3 302.9 L688.3 301.9 L688.2 300.9 L688.2 299.9 L688.1 298.9 L688.0 297.9 L688.0 296.9 L687.9 295.9 L687.8 294.9 L687.8 293.9 L687.7 292.9 L687.7 291.9 L687.6 290.9 L687.6 289.9 L687.6 288.9 L687.6 287.9 L687.5 286.9 L687.5 285.9 L687.5 284.9 L687.5 283.9 L687.5 282.9 L687.5 281.9 L687.5 280.9 L687.5 279.9 L687.5 278.9 L687.5 277.9 L687.5 276.9 L687.5 275.9 L687.5 274.9 L687.5 273.9 L687.5 272.9 L687.5 271.9 L687.5 270.9 L687.6 269.9 L687.6 268.9 L687.6 267.9 L687.6 266.9 L687.7 265.9 L687.7 264.9 L687.8 263.9 L687.8 262.9 L687.9 261.9 L688.0 260.9 L688.0 259.9 L688.1 258.9 L688.2 257.9 L688.2 256.9 L688.3 255.9 L688.3 254.9 L688.3 253.9 L688.3 252.9 L688.3 251.9 L688.3 250.9 L688.2 249.9 L688.2 248.9 L688.1 247.9 L688.0 246.9 L688.0 245.9 L687.9 244.9 L687.8 243.9 L687.8 242.9 L687.7 241.9 L687.7 240.9 L687.6 239.9 L687.6 238.9 L687.6 237.9 L687.6 236.9 L687.5 235.9 L687.5 234.9 L687.5 233.9 L687.5 232.9 L687.5 231.9 L687.5 230.9 L687.5 229.9 L687.5 228.9 L687.5 227.9 L687.5 226.9 L687.5 225.9 L687.6 224.9 L687.6 223.9 L687.6 222.9 L687.7 221.9 L687.8 220.9 L687.9 219.9 L688.1 218.9 L688.3 217.9 L688.5 216.9 L688.9 215.9 L689.2 214.9 L689.7 213.9 L690.2 212.9 L690.8 211.9 L691.5 210.9 L692.2 209.9 L692.9 208.9 L693.5 207.9 L694.2 206.9 L694.7 205.9 L695.1 204.9 L695.4 203.9 L695.6 202.9 L695.6 201.9 L695.5 200.9 L695.2 199.9 L694.7 198.9 L694.2 197.9 L693.6 196.9 L692.9 195.9 L692.2 194.9 L691.5 193.9 L690.9 192.9 L690.3 191.9 L689.8 190.9 L689.3 189.9 L688.9 188.9 L688.6 187.9 L688.3 186.9 L688.1 185.9 L687.9 184.9 L687.8 183.9 L687.7 182.9 L687.6 181.9 L687.6 180.9 L687.6 179.9 L687.5 178.9 L687.5 177.9Z" fill="#d585bd" stroke="#000" stroke-width="2.0" stroke-linejoin="round"/>
<line x1="679.4" y1="202.4" x2="692.6" y2="202.4" stroke="#000" stroke-width="3.5"/>
</g>
<g id="axes" stroke="#000" stroke-width="4.1" fill="none">
<line x1="92.9" y1="98.1" x2="92.9" y2="510.9"/>
<line x1="75.9" y1="508.9" x2="707" y2="508.9"/>
<line x1="75.9" y1="406.7" x2="92.9" y2="406.7"/>
<line x1="75.9" y1="304.5" x2="92.9" y2="304.5"/>
<line x1="75.9" y1="202.4" x2="92.9" y2="202.4"/>
<line x1="75.9" y1="100.2" x2="92.9" y2="100.2"/>
<line x1="139.8" y1="508.9" x2="139.8" y2="525.8"/>
<line x1="243.6" y1="508.9" x2="243.6" y2="525.8"/>
<line x1="347.3" y1="508.9" x2="347.3" y2="525.8"/>
<line x1="451.1" y1="508.9" x2="451.1" y2="525.8"/>
<line x1="554.8" y1="508.9" x2="554.8" y2="525.8"/>
<line x1="658.5" y1="508.9" x2="658.5" y2="525.8"/>
</g>
<g font-weight="bold" font-size="31.5" text-anchor="end" fill="#000" stroke="#000" stroke-width="0.5">
<text transform="translate(73.0,519.8) scale(0.95,1)">0</text>
<text transform="translate(73.0,417.6) scale(0.95,1)">2</text>
<text transform="translate(73.0,315.4) scale(0.95,1)">4</text>
<text transform="translate(73.0,213.3) scale(0.95,1)">6</text>
<text transform="translate(73.0,111.1) scale(0.95,1)">8</text>
</g>
<text transform="translate(25.5,609.6) rotate(-90)" font-weight="bold" font-size="32.9" fill="#000" stroke="#000" stroke-width="0.5">Single MoCA Cognitive Domains Score</text>
<g font-weight="bold" font-size="31.3" text-anchor="end" fill="#000" stroke="#000" stroke-width="0.45">
<text transform="translate(148.8,548.0) rotate(-45)">ACW</text>
<text transform="translate(251.2,549.8) rotate(-45)">Language</text>
<text transform="translate(348.8,554.5) rotate(-45)">Orientation</text>
<text transform="translate(459.1,548.6) rotate(-45)">VS function</text>
<text transform="translate(561.8,548.7) rotate(-45)">Executive function</text>
<text transform="translate(665.8,549.7) rotate(-45)">Short-term memory</text>
</g>
<g id="sig" stroke="#000" stroke-width="2.3" stroke-linecap="round">
<line x1="215.8" y1="178.4" x2="275.2" y2="178.4"/>
<path transform="translate(243.8,173.1)" d="M0 0L0.00 -3.65M0 0L-3.47 -1.13M0 0L-2.15 2.95M0 0L2.15 2.95M0 0L3.47 -1.13" stroke-width="1.55" stroke-linecap="butt" fill="none"/>
<line x1="242.9" y1="200.0" x2="273.9" y2="200.0"/>
<path transform="translate(258.2,193.8)" d="M0 0L0.00 -3.65M0 0L-3.47 -1.13M0 0L-2.15 2.95M0 0L2.15 2.95M0 0L3.47 -1.13" stroke-width="1.55" stroke-linecap="butt" fill="none"/>
<line x1="315.5" y1="200.5" x2="344.2" y2="200.5"/>
<path transform="translate(326.2,192.9)" d="M0 0L0.00 -3.65M0 0L-3.47 -1.13M0 0L-2.15 2.95M0 0L2.15 2.95M0 0L3.47 -1.13" stroke-width="1.55" stroke-linecap="butt" fill="none"/>
<path transform="translate(334.8,192.9)" d="M0 0L0.00 -3.65M0 0L-3.47 -1.13M0 0L-2.15 2.95M0 0L2.15 2.95M0 0L3.47 -1.13" stroke-width="1.55" stroke-linecap="butt" fill="none"/>
<line x1="347.9" y1="187.3" x2="378.4" y2="187.3"/>
<path transform="translate(359.9,180.2)" d="M0 0L0.00 -3.65M0 0L-3.47 -1.13M0 0L-2.15 2.95M0 0L2.15 2.95M0 0L3.47 -1.13" stroke-width="1.55" stroke-linecap="butt" fill="none"/>
<path transform="translate(368.5,180.2)" d="M0 0L0.00 -3.65M0 0L-3.47 -1.13M0 0L-2.15 2.95M0 0L2.15 2.95M0 0L3.47 -1.13" stroke-width="1.55" stroke-linecap="butt" fill="none"/>
<line x1="421.4" y1="93.6" x2="478.9" y2="93.6"/>
<path transform="translate(449.8,86.1)" d="M0 0L0.00 -3.65M0 0L-3.47 -1.13M0 0L-2.15 2.95M0 0L2.15 2.95M0 0L3.47 -1.13" stroke-width="1.55" stroke-linecap="butt" fill="none"/>
<line x1="453.9" y1="115.6" x2="479.4" y2="115.6"/>
<path transform="translate(463.3,107.9)" d="M0 0L0.00 -3.65M0 0L-3.47 -1.13M0 0L-2.15 2.95M0 0L2.15 2.95M0 0L3.47 -1.13" stroke-width="1.55" stroke-linecap="butt" fill="none"/>
<path transform="translate(471.9,107.9)" d="M0 0L0.00 -3.65M0 0L-3.47 -1.13M0 0L-2.15 2.95M0 0L2.15 2.95M0 0L3.47 -1.13" stroke-width="1.55" stroke-linecap="butt" fill="none"/>
<line x1="422.5" y1="123.0" x2="447.9" y2="123.0"/>
<path transform="translate(432.1,115.1)" d="M0 0L0.00 -3.65M0 0L-3.47 -1.13M0 0L-2.15 2.95M0 0L2.15 2.95M0 0L3.47 -1.13" stroke-width="1.55" stroke-linecap="butt" fill="none"/>
<line x1="528.6" y1="89.0" x2="588.2" y2="89.0"/>
<path transform="translate(551.6,81.2)" d="M0 0L0.00 -3.65M0 0L-3.47 -1.13M0 0L-2.15 2.95M0 0L2.15 2.95M0 0L3.47 -1.13" stroke-width="1.55" stroke-linecap="butt" fill="none"/>
<path transform="translate(560.2,81.2)" d="M0 0L0.00 -3.65M0 0L-3.47 -1.13M0 0L-2.15 2.95M0 0L2.15 2.95M0 0L3.47 -1.13" stroke-width="1.55" stroke-linecap="butt" fill="none"/>
<line x1="555.8" y1="110.4" x2="586.9" y2="110.4"/>
<path transform="translate(565.5,101.6)" d="M0 0L0.00 -3.65M0 0L-3.47 -1.13M0 0L-2.15 2.95M0 0L2.15 2.95M0 0L3.47 -1.13" stroke-width="1.55" stroke-linecap="butt" fill="none"/>
<path transform="translate(574.1,101.6)" d="M0 0L0.00 -3.65M0 0L-3.47 -1.13M0 0L-2.15 2.95M0 0L2.15 2.95M0 0L3.47 -1.13" stroke-width="1.55" stroke-linecap="butt" fill="none"/>
<line x1="632.6" y1="87.7" x2="692.2" y2="87.7"/>
<path transform="translate(655.3,80.1)" d="M0 0L0.00 -3.65M0 0L-3.47 -1.13M0 0L-2.15 2.95M0 0L2.15 2.95M0 0L3.47 -1.13" stroke-width="1.55" stroke-linecap="butt" fill="none"/>
<path transform="translate(663.9,80.1)" d="M0 0L0.00 -3.65M0 0L-3.47 -1.13M0 0L-2.15 2.95M0 0L2.15 2.95M0 0L3.47 -1.13" stroke-width="1.55" stroke-linecap="butt" fill="none"/>
<line x1="659.8" y1="109.7" x2="690.9" y2="109.7"/>
<path transform="translate(669.4,100.6)" d="M0 0L0.00 -3.65M0 0L-3.47 -1.13M0 0L-2.15 2.95M0 0L2.15 2.95M0 0L3.47 -1.13" stroke-width="1.55" stroke-linecap="butt" fill="none"/>
<path transform="translate(678.0,100.6)" d="M0 0L0.00 -3.65M0 0L-3.47 -1.13M0 0L-2.15 2.95M0 0L2.15 2.95M0 0L3.47 -1.13" stroke-width="1.55" stroke-linecap="butt" fill="none"/>
</g>
<g id="legend" stroke="#000" stroke-width="2">
<rect x="800.1" y="116.9" width="43.2" height="22.7" fill="#6d6db9"/>
<rect x="800.1" y="174.1" width="43.2" height="22.7" fill="#a070cc"/>
<rect x="800.1" y="231.3" width="43.2" height="22.7" fill="#d585bd"/>
</g>
<g font-size="33.8" fill="#000" stroke="#000" stroke-width="0.3">
<text x="867.5" y="139.6">aMCI</text>
<text x="867.5" y="196.9">LLD</text>
<text x="867.5" y="254.2">NC</text>
</g>
</svg>
</body></html>
